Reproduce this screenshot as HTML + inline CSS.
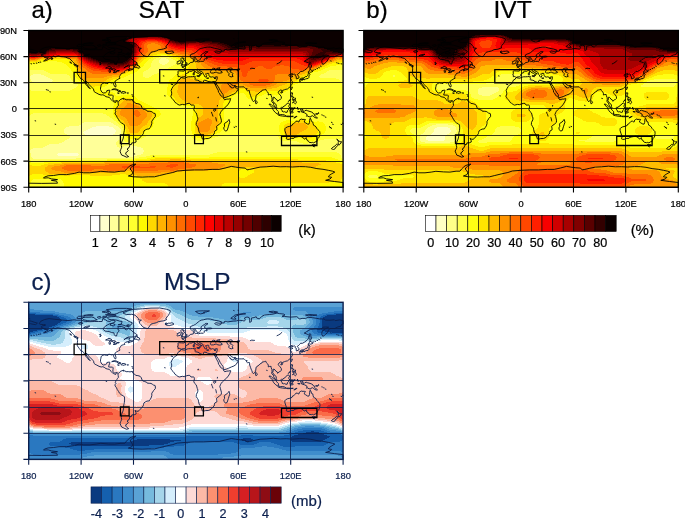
<!DOCTYPE html>
<html><head><meta charset="utf-8"><title>SAT IVT MSLP</title>
<style>html,body{margin:0;padding:0;background:#fff}svg{display:block}text{font-family:"Liberation Sans",Arial,Helvetica,sans-serif}</style></head><body>
<svg width="685" height="519" viewBox="0 0 685 519">
<rect width="685" height="519" fill="#fff"/>
<clipPath id="cpa"><rect x="28.7" y="30.5" width="314.40" height="156.80"/></clipPath>
<g clip-path="url(#cpa)"><g transform="translate(28,30)" shape-rendering="crispEdges">
<path fill="#ffffcc" d="M68 96h13v1h-13zM64 97h21v1h-21zM62 98h24v1h-24zM60 99h27v1h-27zM58 100h30v1h-30zM56 101h32v1h-32zM55 102h32v1h-32zM56 103h31v1h-31zM57 104h28v1h-28zM30 123h20v1h-20zM29 124h22v1h-22zM30 125h20v1h-20z"/>
<path fill="#ffff99" d="M133 28h5v1h-5zM132 29h8v1h-8zM131 30h10v1h-10zM131 31h10v1h-10zM131 32h9v1h-9zM132 33h7v1h-7zM134 34h3v1h-3zM5 44h8v1h-8zM3 45h13v1h-13zM2 46h16v1h-16zM2 47h18v1h-18zM2 48h20v1h-20zM3 49h21v1h-21zM3 50h22v1h-22zM4 51h20v1h-20zM6 52h15v1h-15zM56 92h27v1h-27zM54 93h31v1h-31zM53 94h33v1h-33zM51 95h37v1h-37zM41 96h27v1h-27zM81 96h9v1h-9zM38 97h26v1h-26zM85 97h6v1h-6zM37 98h25v1h-25zM86 98h6v1h-6zM36 99h24v1h-24zM87 99h6v1h-6zM36 100h22v1h-22zM88 100h5v1h-5zM36 101h20v1h-20zM88 101h5v1h-5zM36 102h19v1h-19zM87 102h6v1h-6zM37 103h19v1h-19zM87 103h6v1h-6zM39 104h18v1h-18zM85 104h9v1h-9zM41 105h53v1h-53zM42 106h52v1h-52zM42 107h51v1h-51zM41 108h52v1h-52zM39 109h53v1h-53zM37 110h53v1h-53zM36 111h53v1h-53zM34 112h54v1h-54zM31 113h57v1h-57zM21 114h67v1h-67zM19 115h70v1h-70zM102 115h2v1h-2zM17 116h72v1h-72zM96 116h13v1h-13zM15 117h76v1h-76zM93 117h20v1h-20zM5 118h110v1h-110zM3 119h112v1h-112zM2 120h114v1h-114zM2 121h114v1h-114zM2 122h113v1h-113zM3 123h27v1h-27zM50 123h65v1h-65zM3 124h26v1h-26zM51 124h62v1h-62zM3 125h27v1h-27zM50 125h59v1h-59zM3 126h102v1h-102zM4 127h97v1h-97zM5 128h43v1h-43z"/>
<path fill="#ffff61" d="M135 26h1v1h-1zM131 27h10v1h-10zM128 28h5v1h-5zM138 28h5v1h-5zM126 29h6v1h-6zM140 29h5v1h-5zM125 30h6v1h-6zM141 30h6v1h-6zM124 31h7v1h-7zM141 31h7v1h-7zM124 32h7v1h-7zM140 32h8v1h-8zM123 33h9v1h-9zM139 33h9v1h-9zM123 34h11v1h-11zM137 34h10v1h-10zM123 35h22v1h-22zM123 36h20v1h-20zM122 37h19v1h-19zM121 38h19v1h-19zM120 39h17v1h-17zM0 40h16v1h-16zM118 40h16v1h-16zM301 40h15v1h-15zM0 41h18v1h-18zM116 41h16v1h-16zM299 41h17v1h-17zM0 42h20v1h-20zM115 42h16v1h-16zM298 42h18v1h-18zM0 43h22v1h-22zM115 43h14v1h-14zM296 43h20v1h-20zM0 44h5v1h-5zM13 44h26v1h-26zM115 44h11v1h-11zM293 44h23v1h-23zM0 45h3v1h-3zM16 45h25v1h-25zM115 45h9v1h-9zM292 45h24v1h-24zM0 46h2v1h-2zM18 46h24v1h-24zM115 46h8v1h-8zM291 46h25v1h-25zM0 47h2v1h-2zM20 47h22v1h-22zM117 47h4v1h-4zM292 47h24v1h-24zM0 48h2v1h-2zM22 48h21v1h-21zM308 48h8v1h-8zM0 49h3v1h-3zM24 49h19v1h-19zM311 49h5v1h-5zM0 50h3v1h-3zM25 50h19v1h-19zM312 50h4v1h-4zM0 51h4v1h-4zM24 51h21v1h-21zM313 51h3v1h-3zM0 52h6v1h-6zM21 52h26v1h-26zM313 52h3v1h-3zM0 53h48v1h-48zM314 53h2v1h-2zM0 54h50v1h-50zM314 54h2v1h-2zM0 55h50v1h-50zM0 56h49v1h-49zM0 57h48v1h-48zM0 58h46v1h-46zM2 59h42v1h-42zM3 60h39v1h-39zM5 83h70v1h-70zM3 84h75v1h-75zM2 85h77v1h-77zM0 86h81v1h-81zM0 87h82v1h-82zM0 88h84v1h-84zM0 89h85v1h-85zM0 90h86v1h-86zM0 91h88v1h-88zM0 92h56v1h-56zM83 92h6v1h-6zM0 93h54v1h-54zM85 93h5v1h-5zM0 94h53v1h-53zM86 94h5v1h-5zM0 95h51v1h-51zM88 95h5v1h-5zM0 96h41v1h-41zM90 96h4v1h-4zM0 97h38v1h-38zM91 97h3v1h-3zM0 98h37v1h-37zM92 98h3v1h-3zM0 99h36v1h-36zM93 99h2v1h-2zM0 100h36v1h-36zM93 100h2v1h-2zM0 101h36v1h-36zM93 101h2v1h-2zM0 102h36v1h-36zM93 102h2v1h-2zM0 103h37v1h-37zM93 103h2v1h-2zM0 104h39v1h-39zM94 104h1v1h-1zM0 105h41v1h-41zM94 105h1v1h-1zM120 105h41v1h-41zM196 105h52v1h-52zM0 106h42v1h-42zM94 106h1v1h-1zM118 106h45v1h-45zM190 106h60v1h-60zM0 107h42v1h-42zM93 107h3v1h-3zM116 107h48v1h-48zM187 107h64v1h-64zM314 107h2v1h-2zM0 108h41v1h-41zM93 108h3v1h-3zM114 108h51v1h-51zM184 108h67v1h-67zM313 108h3v1h-3zM0 109h39v1h-39zM92 109h4v1h-4zM112 109h54v1h-54zM181 109h71v1h-71zM296 109h20v1h-20zM0 110h37v1h-37zM90 110h6v1h-6zM109 110h60v1h-60zM174 110h80v1h-80zM292 110h24v1h-24zM0 111h36v1h-36zM89 111h8v1h-8zM108 111h161v1h-161zM290 111h26v1h-26zM0 112h34v1h-34zM88 112h13v1h-13zM104 112h167v1h-167zM288 112h28v1h-28zM0 113h31v1h-31zM88 113h187v1h-187zM280 113h36v1h-36zM0 114h21v1h-21zM88 114h228v1h-228zM0 115h19v1h-19zM89 115h13v1h-13zM104 115h212v1h-212zM0 116h17v1h-17zM89 116h7v1h-7zM109 116h207v1h-207zM0 117h15v1h-15zM91 117h2v1h-2zM113 117h203v1h-203zM0 118h5v1h-5zM115 118h201v1h-201zM0 119h3v1h-3zM115 119h201v1h-201zM0 120h2v1h-2zM116 120h200v1h-200zM0 121h2v1h-2zM116 121h200v1h-200zM0 122h2v1h-2zM115 122h74v1h-74zM309 122h7v1h-7zM0 123h3v1h-3zM115 123h70v1h-70zM311 123h5v1h-5zM0 124h3v1h-3zM113 124h69v1h-69zM312 124h4v1h-4zM0 125h3v1h-3zM109 125h13v1h-13zM313 125h3v1h-3zM0 126h3v1h-3zM105 126h13v1h-13zM313 126h3v1h-3zM0 127h4v1h-4zM101 127h10v1h-10zM313 127h3v1h-3zM0 128h5v1h-5zM48 128h58v1h-58zM314 128h2v1h-2zM0 129h79v1h-79zM3 130h19v1h-19z"/>
<path fill="#ffff2e" d="M133 25h6v1h-6zM128 26h7v1h-7zM136 26h6v1h-6zM125 27h6v1h-6zM141 27h4v1h-4zM123 28h5v1h-5zM143 28h5v1h-5zM121 29h5v1h-5zM145 29h5v1h-5zM120 30h5v1h-5zM147 30h7v1h-7zM20 31h9v1h-9zM119 31h5v1h-5zM148 31h6v1h-6zM13 32h21v1h-21zM118 32h6v1h-6zM148 32h9v1h-9zM9 33h27v1h-27zM117 33h6v1h-6zM148 33h9v1h-9zM1 34h37v1h-37zM116 34h7v1h-7zM147 34h10v1h-10zM0 35h39v1h-39zM116 35h7v1h-7zM145 35h11v1h-11zM308 35h8v1h-8zM0 36h40v1h-40zM115 36h8v1h-8zM143 36h13v1h-13zM302 36h14v1h-14zM0 37h41v1h-41zM113 37h9v1h-9zM141 37h14v1h-14zM300 37h16v1h-16zM0 38h42v1h-42zM112 38h9v1h-9zM140 38h15v1h-15zM297 38h19v1h-19zM0 39h43v1h-43zM111 39h9v1h-9zM137 39h18v1h-18zM295 39h21v1h-21zM16 40h27v1h-27zM110 40h8v1h-8zM134 40h18v1h-18zM293 40h8v1h-8zM18 41h26v1h-26zM109 41h7v1h-7zM132 41h18v1h-18zM290 41h9v1h-9zM20 42h25v1h-25zM107 42h8v1h-8zM131 42h18v1h-18zM285 42h13v1h-13zM22 43h24v1h-24zM105 43h10v1h-10zM129 43h20v1h-20zM283 43h13v1h-13zM39 44h7v1h-7zM102 44h13v1h-13zM126 44h22v1h-22zM283 44h10v1h-10zM41 45h6v1h-6zM100 45h15v1h-15zM124 45h23v1h-23zM282 45h10v1h-10zM42 46h5v1h-5zM98 46h17v1h-17zM123 46h23v1h-23zM281 46h10v1h-10zM42 47h6v1h-6zM96 47h21v1h-21zM121 47h24v1h-24zM280 47h12v1h-12zM43 48h6v1h-6zM93 48h51v1h-51zM277 48h31v1h-31zM43 49h7v1h-7zM91 49h51v1h-51zM276 49h35v1h-35zM44 50h7v1h-7zM89 50h52v1h-52zM274 50h38v1h-38zM45 51h8v1h-8zM88 51h53v1h-53zM273 51h40v1h-40zM47 52h8v1h-8zM87 52h54v1h-54zM272 52h41v1h-41zM48 53h8v1h-8zM82 53h3v1h-3zM87 53h53v1h-53zM270 53h44v1h-44zM50 54h7v1h-7zM80 54h60v1h-60zM267 54h47v1h-47zM50 55h8v1h-8zM79 55h61v1h-61zM265 55h51v1h-51zM49 56h10v1h-10zM77 56h63v1h-63zM265 56h51v1h-51zM48 57h12v1h-12zM74 57h65v1h-65zM265 57h51v1h-51zM46 58h15v1h-15zM73 58h66v1h-66zM264 58h52v1h-52zM0 59h2v1h-2zM44 59h21v1h-21zM73 59h66v1h-66zM264 59h52v1h-52zM0 60h3v1h-3zM42 60h23v1h-23zM73 60h66v1h-66zM260 60h56v1h-56zM0 61h66v1h-66zM74 61h4v1h-4zM82 61h57v1h-57zM258 61h58v1h-58zM0 62h68v1h-68zM76 62h1v1h-1zM85 62h54v1h-54zM256 62h60v1h-60zM0 63h71v1h-71zM87 63h52v1h-52zM212 63h4v1h-4zM238 63h2v1h-2zM254 63h62v1h-62zM0 64h72v1h-72zM87 64h12v1h-12zM101 64h38v1h-38zM208 64h9v1h-9zM236 64h8v1h-8zM252 64h64v1h-64zM0 65h76v1h-76zM83 65h2v1h-2zM88 65h5v1h-5zM105 65h35v1h-35zM206 65h12v1h-12zM234 65h14v1h-14zM249 65h67v1h-67zM0 66h78v1h-78zM82 66h5v1h-5zM107 66h34v1h-34zM205 66h13v1h-13zM230 66h86v1h-86zM0 67h87v1h-87zM108 67h34v1h-34zM204 67h15v1h-15zM229 67h87v1h-87zM0 68h87v1h-87zM109 68h34v1h-34zM204 68h16v1h-16zM228 68h88v1h-88zM0 69h87v1h-87zM110 69h34v1h-34zM203 69h20v1h-20zM227 69h89v1h-89zM0 70h86v1h-86zM112 70h33v1h-33zM203 70h113v1h-113zM0 71h85v1h-85zM114 71h32v1h-32zM202 71h114v1h-114zM0 72h86v1h-86zM116 72h31v1h-31zM202 72h114v1h-114zM0 73h86v1h-86zM118 73h30v1h-30zM201 73h115v1h-115zM0 74h86v1h-86zM120 74h29v1h-29zM201 74h115v1h-115zM0 75h86v1h-86zM122 75h29v1h-29zM153 75h2v1h-2zM200 75h116v1h-116zM0 76h85v1h-85zM124 76h39v1h-39zM199 76h117v1h-117zM0 77h85v1h-85zM126 77h38v1h-38zM198 77h118v1h-118zM0 78h85v1h-85zM128 78h37v1h-37zM197 78h119v1h-119zM0 79h85v1h-85zM129 79h36v1h-36zM197 79h119v1h-119zM0 80h85v1h-85zM131 80h34v1h-34zM196 80h120v1h-120zM0 81h85v1h-85zM132 81h33v1h-33zM196 81h120v1h-120zM0 82h85v1h-85zM132 82h33v1h-33zM196 82h120v1h-120zM0 83h5v1h-5zM75 83h10v1h-10zM133 83h32v1h-32zM196 83h120v1h-120zM0 84h3v1h-3zM78 84h7v1h-7zM133 84h32v1h-32zM196 84h120v1h-120zM0 85h2v1h-2zM79 85h7v1h-7zM132 85h33v1h-33zM196 85h120v1h-120zM81 86h5v1h-5zM131 86h33v1h-33zM196 86h120v1h-120zM82 87h5v1h-5zM129 87h35v1h-35zM196 87h120v1h-120zM84 88h5v1h-5zM128 88h36v1h-36zM196 88h120v1h-120zM85 89h4v1h-4zM127 89h37v1h-37zM196 89h75v1h-75zM278 89h4v1h-4zM283 89h33v1h-33zM86 90h4v1h-4zM126 90h38v1h-38zM196 90h62v1h-62zM263 90h4v1h-4zM278 90h2v1h-2zM284 90h32v1h-32zM88 91h3v1h-3zM126 91h37v1h-37zM197 91h58v1h-58zM286 91h3v1h-3zM291 91h25v1h-25zM89 92h3v1h-3zM126 92h37v1h-37zM201 92h52v1h-52zM295 92h21v1h-21zM90 93h3v1h-3zM126 93h37v1h-37zM201 93h51v1h-51zM296 93h20v1h-20zM91 94h3v1h-3zM125 94h38v1h-38zM201 94h51v1h-51zM297 94h19v1h-19zM93 95h2v1h-2zM125 95h38v1h-38zM200 95h51v1h-51zM297 95h19v1h-19zM94 96h2v1h-2zM125 96h38v1h-38zM200 96h51v1h-51zM298 96h18v1h-18zM94 97h2v1h-2zM124 97h39v1h-39zM199 97h52v1h-52zM298 97h18v1h-18zM95 98h1v1h-1zM123 98h40v1h-40zM196 98h55v1h-55zM298 98h18v1h-18zM95 99h1v1h-1zM121 99h42v1h-42zM195 99h56v1h-56zM298 99h18v1h-18zM95 100h1v1h-1zM118 100h45v1h-45zM194 100h57v1h-57zM298 100h18v1h-18zM95 101h1v1h-1zM117 101h47v1h-47zM193 101h58v1h-58zM297 101h19v1h-19zM95 102h1v1h-1zM117 102h47v1h-47zM192 102h60v1h-60zM297 102h19v1h-19zM95 103h1v1h-1zM116 103h48v1h-48zM189 103h63v1h-63zM296 103h20v1h-20zM95 104h2v1h-2zM115 104h50v1h-50zM187 104h66v1h-66zM294 104h22v1h-22zM95 105h2v1h-2zM114 105h6v1h-6zM161 105h5v1h-5zM185 105h11v1h-11zM248 105h5v1h-5zM292 105h24v1h-24zM95 106h3v1h-3zM113 106h5v1h-5zM163 106h5v1h-5zM184 106h6v1h-6zM250 106h4v1h-4zM292 106h24v1h-24zM96 107h3v1h-3zM112 107h4v1h-4zM164 107h5v1h-5zM182 107h5v1h-5zM251 107h4v1h-4zM291 107h23v1h-23zM96 108h5v1h-5zM110 108h4v1h-4zM165 108h9v1h-9zM177 108h7v1h-7zM251 108h6v1h-6zM266 108h8v1h-8zM290 108h23v1h-23zM96 109h16v1h-16zM166 109h15v1h-15zM252 109h7v1h-7zM261 109h15v1h-15zM288 109h8v1h-8zM96 110h13v1h-13zM169 110h5v1h-5zM254 110h25v1h-25zM286 110h6v1h-6zM97 111h11v1h-11zM269 111h21v1h-21zM101 112h3v1h-3zM271 112h17v1h-17zM275 113h5v1h-5zM189 122h120v1h-120zM185 123h126v1h-126zM182 124h130v1h-130zM122 125h191v1h-191zM118 126h195v1h-195zM111 127h12v1h-12zM162 127h19v1h-19zM304 127h9v1h-9zM106 128h13v1h-13zM307 128h7v1h-7zM79 129h28v1h-28zM310 129h6v1h-6zM0 130h3v1h-3zM22 130h57v1h-57zM312 130h4v1h-4zM0 131h32v1h-32zM315 131h1v1h-1zM3 132h13v1h-13zM18 148h4v1h-4zM5 149h28v1h-28zM4 150h30v1h-30zM3 151h32v1h-32zM3 152h32v1h-32zM2 153h34v1h-34zM1 154h35v1h-35zM0 155h36v1h-36zM0 156h36v1h-36zM0 157h36v1h-36z"/>
<path fill="#fff900" d="M129 24h10v1h-10zM125 25h8v1h-8zM139 25h5v1h-5zM121 26h7v1h-7zM142 26h5v1h-5zM119 27h6v1h-6zM145 27h5v1h-5zM118 28h5v1h-5zM148 28h7v1h-7zM25 29h15v1h-15zM116 29h5v1h-5zM150 29h7v1h-7zM13 30h4v1h-4zM20 30h22v1h-22zM115 30h5v1h-5zM154 30h4v1h-4zM10 31h10v1h-10zM29 31h13v1h-13zM114 31h5v1h-5zM154 31h6v1h-6zM0 32h13v1h-13zM34 32h8v1h-8zM113 32h5v1h-5zM157 32h4v1h-4zM309 32h7v1h-7zM0 33h9v1h-9zM36 33h7v1h-7zM112 33h5v1h-5zM157 33h5v1h-5zM304 33h12v1h-12zM0 34h1v1h-1zM38 34h7v1h-7zM111 34h5v1h-5zM157 34h5v1h-5zM301 34h15v1h-15zM39 35h7v1h-7zM111 35h5v1h-5zM156 35h5v1h-5zM299 35h9v1h-9zM40 36h6v1h-6zM111 36h4v1h-4zM156 36h5v1h-5zM297 36h5v1h-5zM41 37h6v1h-6zM110 37h3v1h-3zM155 37h5v1h-5zM294 37h6v1h-6zM42 38h6v1h-6zM109 38h3v1h-3zM155 38h5v1h-5zM292 38h5v1h-5zM43 39h5v1h-5zM107 39h4v1h-4zM155 39h4v1h-4zM290 39h5v1h-5zM43 40h6v1h-6zM106 40h4v1h-4zM152 40h7v1h-7zM287 40h6v1h-6zM44 41h5v1h-5zM103 41h6v1h-6zM150 41h9v1h-9zM284 41h6v1h-6zM45 42h4v1h-4zM100 42h7v1h-7zM149 42h10v1h-10zM161 42h4v1h-4zM282 42h3v1h-3zM46 43h3v1h-3zM98 43h7v1h-7zM149 43h16v1h-16zM166 43h3v1h-3zM280 43h3v1h-3zM46 44h4v1h-4zM94 44h8v1h-8zM148 44h6v1h-6zM158 44h13v1h-13zM173 44h2v1h-2zM279 44h4v1h-4zM47 45h3v1h-3zM93 45h7v1h-7zM147 45h5v1h-5zM159 45h17v1h-17zM179 45h1v1h-1zM278 45h4v1h-4zM47 46h4v1h-4zM92 46h6v1h-6zM146 46h6v1h-6zM167 46h9v1h-9zM179 46h2v1h-2zM275 46h6v1h-6zM48 47h3v1h-3zM92 47h4v1h-4zM145 47h7v1h-7zM168 47h13v1h-13zM273 47h7v1h-7zM49 48h3v1h-3zM89 48h4v1h-4zM144 48h7v1h-7zM171 48h11v1h-11zM272 48h5v1h-5zM50 49h3v1h-3zM85 49h6v1h-6zM142 49h8v1h-8zM174 49h8v1h-8zM270 49h6v1h-6zM51 50h4v1h-4zM83 50h6v1h-6zM141 50h8v1h-8zM180 50h1v1h-1zM269 50h5v1h-5zM53 51h3v1h-3zM81 51h7v1h-7zM141 51h7v1h-7zM267 51h6v1h-6zM55 52h2v1h-2zM80 52h7v1h-7zM141 52h7v1h-7zM265 52h7v1h-7zM56 53h2v1h-2zM59 53h1v1h-1zM76 53h6v1h-6zM85 53h2v1h-2zM140 53h7v1h-7zM264 53h6v1h-6zM57 54h5v1h-5zM74 54h6v1h-6zM140 54h6v1h-6zM263 54h4v1h-4zM58 55h5v1h-5zM72 55h7v1h-7zM140 55h6v1h-6zM262 55h3v1h-3zM59 56h6v1h-6zM67 56h10v1h-10zM140 56h5v1h-5zM261 56h4v1h-4zM60 57h14v1h-14zM139 57h6v1h-6zM259 57h6v1h-6zM61 58h12v1h-12zM139 58h5v1h-5zM258 58h6v1h-6zM65 59h8v1h-8zM139 59h5v1h-5zM212 59h5v1h-5zM255 59h9v1h-9zM65 60h8v1h-8zM139 60h4v1h-4zM211 60h7v1h-7zM251 60h9v1h-9zM66 61h8v1h-8zM78 61h4v1h-4zM139 61h4v1h-4zM209 61h11v1h-11zM234 61h24v1h-24zM68 62h8v1h-8zM77 62h8v1h-8zM139 62h4v1h-4zM208 62h13v1h-13zM232 62h24v1h-24zM71 63h16v1h-16zM139 63h5v1h-5zM206 63h6v1h-6zM216 63h6v1h-6zM231 63h7v1h-7zM240 63h14v1h-14zM72 64h15v1h-15zM99 64h2v1h-2zM139 64h5v1h-5zM204 64h4v1h-4zM217 64h5v1h-5zM229 64h7v1h-7zM244 64h8v1h-8zM76 65h7v1h-7zM85 65h3v1h-3zM93 65h12v1h-12zM140 65h4v1h-4zM203 65h3v1h-3zM218 65h5v1h-5zM227 65h7v1h-7zM248 65h1v1h-1zM78 66h4v1h-4zM87 66h20v1h-20zM141 66h4v1h-4zM201 66h4v1h-4zM218 66h6v1h-6zM226 66h4v1h-4zM87 67h21v1h-21zM142 67h4v1h-4zM199 67h5v1h-5zM219 67h10v1h-10zM87 68h7v1h-7zM103 68h6v1h-6zM143 68h4v1h-4zM198 68h6v1h-6zM220 68h8v1h-8zM87 69h6v1h-6zM105 69h5v1h-5zM144 69h3v1h-3zM198 69h5v1h-5zM223 69h4v1h-4zM86 70h6v1h-6zM106 70h6v1h-6zM145 70h3v1h-3zM197 70h6v1h-6zM85 71h6v1h-6zM107 71h7v1h-7zM146 71h3v1h-3zM196 71h6v1h-6zM86 72h4v1h-4zM108 72h8v1h-8zM147 72h3v1h-3zM196 72h6v1h-6zM86 73h4v1h-4zM111 73h7v1h-7zM148 73h4v1h-4zM195 73h6v1h-6zM86 74h4v1h-4zM113 74h7v1h-7zM149 74h13v1h-13zM195 74h6v1h-6zM86 75h4v1h-4zM114 75h8v1h-8zM151 75h2v1h-2zM155 75h11v1h-11zM195 75h5v1h-5zM85 76h4v1h-4zM116 76h8v1h-8zM163 76h4v1h-4zM195 76h4v1h-4zM85 77h3v1h-3zM117 77h9v1h-9zM164 77h3v1h-3zM195 77h3v1h-3zM85 78h3v1h-3zM118 78h10v1h-10zM165 78h3v1h-3zM195 78h2v1h-2zM85 79h2v1h-2zM119 79h10v1h-10zM165 79h3v1h-3zM194 79h3v1h-3zM85 80h2v1h-2zM122 80h9v1h-9zM165 80h3v1h-3zM194 80h2v1h-2zM85 81h2v1h-2zM125 81h7v1h-7zM165 81h3v1h-3zM193 81h3v1h-3zM85 82h2v1h-2zM126 82h6v1h-6zM165 82h4v1h-4zM193 82h3v1h-3zM85 83h2v1h-2zM127 83h6v1h-6zM165 83h4v1h-4zM193 83h3v1h-3zM85 84h2v1h-2zM127 84h6v1h-6zM165 84h4v1h-4zM192 84h4v1h-4zM86 85h2v1h-2zM127 85h5v1h-5zM165 85h4v1h-4zM193 85h3v1h-3zM86 86h2v1h-2zM127 86h4v1h-4zM164 86h5v1h-5zM193 86h3v1h-3zM87 87h2v1h-2zM126 87h3v1h-3zM164 87h5v1h-5zM193 87h3v1h-3zM89 88h1v1h-1zM126 88h2v1h-2zM164 88h5v1h-5zM193 88h3v1h-3zM89 89h2v1h-2zM125 89h2v1h-2zM164 89h5v1h-5zM193 89h3v1h-3zM271 89h7v1h-7zM282 89h1v1h-1zM90 90h2v1h-2zM124 90h2v1h-2zM164 90h4v1h-4zM193 90h3v1h-3zM258 90h5v1h-5zM267 90h5v1h-5zM277 90h1v1h-1zM280 90h4v1h-4zM91 91h2v1h-2zM124 91h2v1h-2zM163 91h5v1h-5zM193 91h4v1h-4zM255 91h13v1h-13zM277 91h5v1h-5zM283 91h3v1h-3zM289 91h2v1h-2zM92 92h2v1h-2zM124 92h2v1h-2zM163 92h4v1h-4zM193 92h8v1h-8zM253 92h13v1h-13zM278 92h3v1h-3zM284 92h11v1h-11zM93 93h2v1h-2zM124 93h2v1h-2zM163 93h4v1h-4zM193 93h8v1h-8zM252 93h7v1h-7zM263 93h1v1h-1zM279 93h2v1h-2zM285 93h11v1h-11zM94 94h2v1h-2zM123 94h2v1h-2zM163 94h4v1h-4zM192 94h9v1h-9zM252 94h5v1h-5zM285 94h12v1h-12zM95 95h2v1h-2zM123 95h2v1h-2zM163 95h4v1h-4zM191 95h9v1h-9zM251 95h5v1h-5zM287 95h10v1h-10zM96 96h1v1h-1zM121 96h4v1h-4zM163 96h4v1h-4zM190 96h10v1h-10zM251 96h5v1h-5zM288 96h10v1h-10zM96 97h1v1h-1zM120 97h4v1h-4zM163 97h4v1h-4zM190 97h9v1h-9zM251 97h5v1h-5zM289 97h9v1h-9zM96 98h1v1h-1zM118 98h5v1h-5zM163 98h4v1h-4zM189 98h7v1h-7zM251 98h5v1h-5zM289 98h9v1h-9zM96 99h2v1h-2zM117 99h4v1h-4zM163 99h4v1h-4zM189 99h6v1h-6zM251 99h5v1h-5zM289 99h9v1h-9zM96 100h2v1h-2zM116 100h2v1h-2zM163 100h4v1h-4zM188 100h6v1h-6zM251 100h5v1h-5zM290 100h8v1h-8zM96 101h2v1h-2zM115 101h2v1h-2zM164 101h3v1h-3zM187 101h6v1h-6zM251 101h5v1h-5zM290 101h7v1h-7zM96 102h2v1h-2zM115 102h2v1h-2zM164 102h3v1h-3zM187 102h5v1h-5zM252 102h4v1h-4zM290 102h7v1h-7zM96 103h3v1h-3zM114 103h2v1h-2zM164 103h4v1h-4zM186 103h3v1h-3zM252 103h4v1h-4zM289 103h7v1h-7zM97 104h3v1h-3zM113 104h2v1h-2zM165 104h4v1h-4zM185 104h2v1h-2zM253 104h4v1h-4zM288 104h6v1h-6zM97 105h4v1h-4zM112 105h2v1h-2zM166 105h5v1h-5zM184 105h1v1h-1zM253 105h4v1h-4zM287 105h5v1h-5zM98 106h15v1h-15zM168 106h6v1h-6zM181 106h3v1h-3zM254 106h4v1h-4zM270 106h3v1h-3zM286 106h6v1h-6zM99 107h13v1h-13zM169 107h13v1h-13zM255 107h3v1h-3zM266 107h9v1h-9zM284 107h7v1h-7zM101 108h9v1h-9zM174 108h3v1h-3zM257 108h2v1h-2zM262 108h4v1h-4zM274 108h16v1h-16zM259 109h2v1h-2zM276 109h12v1h-12zM279 110h7v1h-7zM123 127h39v1h-39zM181 127h123v1h-123zM119 128h8v1h-8zM157 128h150v1h-150zM107 129h15v1h-15zM270 129h40v1h-40zM79 130h29v1h-29zM298 130h14v1h-14zM32 131h45v1h-45zM303 131h12v1h-12zM0 132h3v1h-3zM16 132h17v1h-17zM308 132h8v1h-8zM0 133h20v1h-20zM312 133h4v1h-4zM0 134h16v1h-16zM4 135h9v1h-9zM213 139h5v1h-5zM212 140h14v1h-14zM211 141h15v1h-15zM211 142h15v1h-15zM211 143h13v1h-13zM4 144h11v1h-11zM92 144h6v1h-6zM211 144h11v1h-11zM2 145h17v1h-17zM27 145h9v1h-9zM42 145h20v1h-20zM84 145h17v1h-17zM211 145h9v1h-9zM0 146h103v1h-103zM211 146h8v1h-8zM0 147h108v1h-108zM212 147h5v1h-5zM314 147h2v1h-2zM0 148h18v1h-18zM22 148h90v1h-90zM314 148h2v1h-2zM0 149h5v1h-5zM33 149h81v1h-81zM313 149h3v1h-3zM0 150h4v1h-4zM34 150h80v1h-80zM313 150h3v1h-3zM0 151h3v1h-3zM35 151h81v1h-81zM312 151h4v1h-4zM0 152h3v1h-3zM35 152h83v1h-83zM301 152h15v1h-15zM0 153h2v1h-2zM36 153h101v1h-101zM196 153h120v1h-120zM0 154h1v1h-1zM36 154h103v1h-103zM194 154h122v1h-122zM36 155h104v1h-104zM194 155h122v1h-122zM36 156h104v1h-104zM193 156h123v1h-123zM36 157h104v1h-104zM193 157h123v1h-123z"/>
<path fill="#ffd700" d="M127 22h5v1h-5zM124 23h15v1h-15zM122 24h7v1h-7zM139 24h5v1h-5zM121 25h4v1h-4zM144 25h4v1h-4zM119 26h2v1h-2zM147 26h5v1h-5zM29 27h3v1h-3zM116 27h3v1h-3zM150 27h6v1h-6zM25 28h14v1h-14zM114 28h4v1h-4zM155 28h7v1h-7zM12 29h5v1h-5zM21 29h4v1h-4zM40 29h2v1h-2zM113 29h3v1h-3zM157 29h7v1h-7zM9 30h4v1h-4zM17 30h3v1h-3zM42 30h2v1h-2zM112 30h3v1h-3zM158 30h7v1h-7zM309 30h5v1h-5zM0 31h10v1h-10zM42 31h4v1h-4zM111 31h3v1h-3zM160 31h6v1h-6zM306 31h10v1h-10zM42 32h4v1h-4zM110 32h3v1h-3zM161 32h6v1h-6zM302 32h7v1h-7zM43 33h4v1h-4zM110 33h2v1h-2zM162 33h6v1h-6zM299 33h5v1h-5zM45 34h2v1h-2zM110 34h1v1h-1zM162 34h6v1h-6zM297 34h4v1h-4zM46 35h2v1h-2zM110 35h1v1h-1zM161 35h7v1h-7zM295 35h4v1h-4zM46 36h3v1h-3zM109 36h2v1h-2zM161 36h7v1h-7zM293 36h4v1h-4zM47 37h2v1h-2zM108 37h2v1h-2zM160 37h8v1h-8zM291 37h3v1h-3zM48 38h2v1h-2zM106 38h3v1h-3zM160 38h9v1h-9zM289 38h3v1h-3zM48 39h2v1h-2zM105 39h2v1h-2zM159 39h12v1h-12zM286 39h4v1h-4zM49 40h1v1h-1zM103 40h3v1h-3zM159 40h14v1h-14zM283 40h4v1h-4zM49 41h1v1h-1zM99 41h4v1h-4zM159 41h16v1h-16zM281 41h3v1h-3zM49 42h2v1h-2zM97 42h3v1h-3zM159 42h2v1h-2zM165 42h11v1h-11zM279 42h3v1h-3zM49 43h2v1h-2zM95 43h3v1h-3zM165 43h1v1h-1zM169 43h12v1h-12zM277 43h3v1h-3zM50 44h1v1h-1zM93 44h1v1h-1zM154 44h4v1h-4zM171 44h2v1h-2zM175 44h9v1h-9zM274 44h5v1h-5zM50 45h2v1h-2zM92 45h1v1h-1zM152 45h7v1h-7zM176 45h3v1h-3zM180 45h5v1h-5zM271 45h7v1h-7zM51 46h1v1h-1zM91 46h1v1h-1zM152 46h15v1h-15zM176 46h3v1h-3zM181 46h5v1h-5zM271 46h4v1h-4zM51 47h2v1h-2zM84 47h8v1h-8zM152 47h16v1h-16zM181 47h6v1h-6zM270 47h3v1h-3zM52 48h2v1h-2zM81 48h8v1h-8zM151 48h8v1h-8zM162 48h9v1h-9zM182 48h6v1h-6zM267 48h5v1h-5zM53 49h2v1h-2zM79 49h6v1h-6zM150 49h3v1h-3zM165 49h9v1h-9zM182 49h6v1h-6zM265 49h5v1h-5zM55 50h1v1h-1zM78 50h5v1h-5zM149 50h3v1h-3zM167 50h13v1h-13zM181 50h7v1h-7zM264 50h5v1h-5zM56 51h4v1h-4zM76 51h5v1h-5zM148 51h3v1h-3zM171 51h16v1h-16zM264 51h3v1h-3zM57 52h13v1h-13zM74 52h6v1h-6zM148 52h3v1h-3zM172 52h4v1h-4zM177 52h7v1h-7zM262 52h3v1h-3zM58 53h1v1h-1zM60 53h16v1h-16zM147 53h4v1h-4zM259 53h5v1h-5zM62 54h12v1h-12zM146 54h5v1h-5zM257 54h6v1h-6zM63 55h9v1h-9zM146 55h4v1h-4zM254 55h8v1h-8zM65 56h2v1h-2zM145 56h5v1h-5zM251 56h10v1h-10zM145 57h5v1h-5zM210 57h7v1h-7zM249 57h10v1h-10zM144 58h6v1h-6zM210 58h8v1h-8zM244 58h14v1h-14zM144 59h6v1h-6zM209 59h3v1h-3zM217 59h3v1h-3zM236 59h19v1h-19zM143 60h6v1h-6zM209 60h2v1h-2zM218 60h4v1h-4zM233 60h18v1h-18zM143 61h6v1h-6zM207 61h2v1h-2zM220 61h7v1h-7zM231 61h3v1h-3zM143 62h6v1h-6zM204 62h4v1h-4zM221 62h11v1h-11zM144 63h6v1h-6zM203 63h3v1h-3zM222 63h9v1h-9zM144 64h6v1h-6zM201 64h3v1h-3zM222 64h7v1h-7zM144 65h7v1h-7zM200 65h3v1h-3zM223 65h4v1h-4zM145 66h6v1h-6zM198 66h3v1h-3zM224 66h2v1h-2zM146 67h6v1h-6zM195 67h4v1h-4zM94 68h9v1h-9zM147 68h6v1h-6zM193 68h5v1h-5zM93 69h12v1h-12zM147 69h7v1h-7zM192 69h6v1h-6zM92 70h4v1h-4zM104 70h2v1h-2zM148 70h8v1h-8zM191 70h6v1h-6zM91 71h4v1h-4zM105 71h2v1h-2zM149 71h9v1h-9zM191 71h5v1h-5zM90 72h4v1h-4zM106 72h2v1h-2zM150 72h10v1h-10zM191 72h5v1h-5zM90 73h3v1h-3zM108 73h3v1h-3zM152 73h11v1h-11zM191 73h4v1h-4zM90 74h2v1h-2zM111 74h2v1h-2zM162 74h9v1h-9zM191 74h4v1h-4zM90 75h1v1h-1zM113 75h1v1h-1zM166 75h7v1h-7zM190 75h5v1h-5zM89 76h2v1h-2zM114 76h2v1h-2zM167 76h7v1h-7zM190 76h5v1h-5zM88 77h2v1h-2zM114 77h3v1h-3zM167 77h8v1h-8zM190 77h5v1h-5zM88 78h2v1h-2zM115 78h3v1h-3zM168 78h7v1h-7zM190 78h5v1h-5zM87 79h2v1h-2zM117 79h2v1h-2zM168 79h7v1h-7zM190 79h4v1h-4zM87 80h2v1h-2zM118 80h4v1h-4zM168 80h7v1h-7zM190 80h4v1h-4zM87 81h2v1h-2zM121 81h4v1h-4zM168 81h7v1h-7zM190 81h3v1h-3zM87 82h2v1h-2zM123 82h3v1h-3zM169 82h6v1h-6zM190 82h3v1h-3zM87 83h1v1h-1zM124 83h3v1h-3zM169 83h6v1h-6zM190 83h3v1h-3zM87 84h2v1h-2zM124 84h3v1h-3zM169 84h6v1h-6zM190 84h2v1h-2zM88 85h1v1h-1zM124 85h3v1h-3zM169 85h5v1h-5zM190 85h3v1h-3zM88 86h2v1h-2zM124 86h3v1h-3zM169 86h4v1h-4zM190 86h3v1h-3zM89 87h2v1h-2zM123 87h3v1h-3zM169 87h2v1h-2zM190 87h3v1h-3zM90 88h2v1h-2zM123 88h3v1h-3zM169 88h1v1h-1zM190 88h3v1h-3zM91 89h2v1h-2zM122 89h3v1h-3zM169 89h1v1h-1zM190 89h3v1h-3zM92 90h3v1h-3zM121 90h3v1h-3zM168 90h2v1h-2zM190 90h3v1h-3zM272 90h5v1h-5zM93 91h3v1h-3zM120 91h4v1h-4zM168 91h1v1h-1zM191 91h2v1h-2zM268 91h9v1h-9zM282 91h1v1h-1zM94 92h2v1h-2zM120 92h4v1h-4zM167 92h2v1h-2zM191 92h2v1h-2zM266 92h12v1h-12zM281 92h3v1h-3zM95 93h2v1h-2zM119 93h5v1h-5zM167 93h1v1h-1zM190 93h3v1h-3zM259 93h4v1h-4zM264 93h3v1h-3zM277 93h2v1h-2zM281 93h4v1h-4zM96 94h2v1h-2zM119 94h4v1h-4zM167 94h1v1h-1zM190 94h2v1h-2zM257 94h9v1h-9zM278 94h7v1h-7zM97 95h1v1h-1zM117 95h6v1h-6zM167 95h2v1h-2zM189 95h2v1h-2zM256 95h8v1h-8zM279 95h8v1h-8zM97 96h2v1h-2zM115 96h6v1h-6zM167 96h2v1h-2zM188 96h2v1h-2zM256 96h4v1h-4zM280 96h8v1h-8zM97 97h3v1h-3zM114 97h6v1h-6zM167 97h2v1h-2zM188 97h2v1h-2zM256 97h2v1h-2zM280 97h9v1h-9zM97 98h3v1h-3zM113 98h5v1h-5zM167 98h2v1h-2zM187 98h2v1h-2zM256 98h2v1h-2zM279 98h10v1h-10zM98 99h3v1h-3zM112 99h5v1h-5zM167 99h2v1h-2zM187 99h2v1h-2zM256 99h1v1h-1zM278 99h11v1h-11zM98 100h3v1h-3zM112 100h4v1h-4zM167 100h3v1h-3zM186 100h2v1h-2zM256 100h1v1h-1zM276 100h14v1h-14zM98 101h3v1h-3zM111 101h4v1h-4zM167 101h3v1h-3zM186 101h1v1h-1zM256 101h1v1h-1zM274 101h16v1h-16zM98 102h4v1h-4zM110 102h5v1h-5zM167 102h4v1h-4zM185 102h2v1h-2zM256 102h2v1h-2zM272 102h18v1h-18zM99 103h15v1h-15zM168 103h4v1h-4zM183 103h3v1h-3zM256 103h2v1h-2zM271 103h18v1h-18zM100 104h13v1h-13zM169 104h5v1h-5zM180 104h5v1h-5zM257 104h2v1h-2zM269 104h19v1h-19zM101 105h11v1h-11zM171 105h13v1h-13zM257 105h2v1h-2zM262 105h25v1h-25zM174 106h7v1h-7zM258 106h12v1h-12zM273 106h13v1h-13zM258 107h8v1h-8zM275 107h9v1h-9zM259 108h3v1h-3zM127 128h30v1h-30zM122 129h20v1h-20zM153 129h117v1h-117zM108 130h15v1h-15zM163 130h135v1h-135zM77 131h31v1h-31zM268 131h35v1h-35zM33 132h43v1h-43zM274 132h34v1h-34zM20 133h14v1h-14zM291 133h21v1h-21zM16 134h10v1h-10zM293 134h23v1h-23zM0 135h4v1h-4zM13 135h7v1h-7zM290 135h26v1h-26zM0 136h19v1h-19zM274 136h7v1h-7zM288 136h28v1h-28zM0 137h17v1h-17zM202 137h26v1h-26zM231 137h85v1h-85zM0 138h17v1h-17zM198 138h118v1h-118zM0 139h17v1h-17zM194 139h19v1h-19zM218 139h98v1h-98zM0 140h17v1h-17zM180 140h32v1h-32zM226 140h90v1h-90zM0 141h18v1h-18zM98 141h4v1h-4zM154 141h57v1h-57zM226 141h90v1h-90zM0 142h20v1h-20zM87 142h17v1h-17zM147 142h64v1h-64zM226 142h90v1h-90zM0 143h21v1h-21zM47 143h57v1h-57zM141 143h70v1h-70zM224 143h92v1h-92zM0 144h4v1h-4zM15 144h77v1h-77zM98 144h8v1h-8zM136 144h75v1h-75zM222 144h94v1h-94zM0 145h2v1h-2zM19 145h8v1h-8zM36 145h6v1h-6zM62 145h22v1h-22zM101 145h8v1h-8zM131 145h80v1h-80zM220 145h96v1h-96zM103 146h108v1h-108zM219 146h97v1h-97zM108 147h104v1h-104zM217 147h97v1h-97zM112 148h202v1h-202zM114 149h199v1h-199zM114 150h199v1h-199zM116 151h196v1h-196zM118 152h183v1h-183zM137 153h59v1h-59zM139 154h55v1h-55zM140 155h54v1h-54zM140 156h53v1h-53zM140 157h53v1h-53z"/>
<path fill="#ffb200" d="M128 20h3v1h-3zM125 21h11v1h-11zM123 22h4v1h-4zM132 22h7v1h-7zM122 23h2v1h-2zM139 23h6v1h-6zM121 24h1v1h-1zM144 24h6v1h-6zM119 25h2v1h-2zM148 25h6v1h-6zM115 26h4v1h-4zM152 26h9v1h-9zM25 27h4v1h-4zM32 27h5v1h-5zM113 27h3v1h-3zM156 27h7v1h-7zM13 28h5v1h-5zM23 28h2v1h-2zM39 28h2v1h-2zM111 28h3v1h-3zM162 28h4v1h-4zM310 28h1v1h-1zM10 29h2v1h-2zM17 29h2v1h-2zM20 29h1v1h-1zM42 29h6v1h-6zM110 29h3v1h-3zM164 29h4v1h-4zM308 29h6v1h-6zM0 30h9v1h-9zM44 30h4v1h-4zM110 30h2v1h-2zM165 30h4v1h-4zM306 30h3v1h-3zM314 30h2v1h-2zM46 31h3v1h-3zM109 31h2v1h-2zM166 31h4v1h-4zM302 31h4v1h-4zM46 32h3v1h-3zM109 32h1v1h-1zM167 32h4v1h-4zM299 32h3v1h-3zM47 33h3v1h-3zM109 33h1v1h-1zM168 33h5v1h-5zM298 33h1v1h-1zM47 34h3v1h-3zM109 34h1v1h-1zM168 34h5v1h-5zM296 34h1v1h-1zM48 35h2v1h-2zM109 35h1v1h-1zM168 35h6v1h-6zM293 35h2v1h-2zM49 36h2v1h-2zM108 36h1v1h-1zM168 36h7v1h-7zM291 36h2v1h-2zM49 37h2v1h-2zM105 37h3v1h-3zM168 37h8v1h-8zM289 37h2v1h-2zM50 38h2v1h-2zM104 38h2v1h-2zM169 38h9v1h-9zM286 38h3v1h-3zM50 39h3v1h-3zM104 39h1v1h-1zM171 39h9v1h-9zM283 39h3v1h-3zM50 40h4v1h-4zM102 40h1v1h-1zM173 40h14v1h-14zM278 40h5v1h-5zM50 41h5v1h-5zM97 41h2v1h-2zM175 41h30v1h-30zM276 41h5v1h-5zM51 42h5v1h-5zM96 42h1v1h-1zM176 42h31v1h-31zM273 42h6v1h-6zM51 43h5v1h-5zM93 43h2v1h-2zM181 43h27v1h-27zM271 43h6v1h-6zM51 44h5v1h-5zM92 44h1v1h-1zM184 44h24v1h-24zM270 44h4v1h-4zM52 45h5v1h-5zM84 45h8v1h-8zM185 45h24v1h-24zM265 45h2v1h-2zM270 45h1v1h-1zM52 46h5v1h-5zM79 46h12v1h-12zM186 46h23v1h-23zM264 46h7v1h-7zM53 47h5v1h-5zM76 47h8v1h-8zM187 47h22v1h-22zM263 47h7v1h-7zM54 48h27v1h-27zM159 48h3v1h-3zM188 48h21v1h-21zM262 48h5v1h-5zM55 49h24v1h-24zM153 49h12v1h-12zM188 49h21v1h-21zM261 49h4v1h-4zM56 50h22v1h-22zM152 50h15v1h-15zM188 50h20v1h-20zM259 50h5v1h-5zM60 51h16v1h-16zM151 51h20v1h-20zM187 51h21v1h-21zM255 51h9v1h-9zM70 52h4v1h-4zM151 52h21v1h-21zM176 52h1v1h-1zM184 52h23v1h-23zM251 52h11v1h-11zM151 53h45v1h-45zM249 53h10v1h-10zM151 54h43v1h-43zM211 54h4v1h-4zM248 54h9v1h-9zM150 55h43v1h-43zM208 55h9v1h-9zM246 55h8v1h-8zM150 56h43v1h-43zM207 56h12v1h-12zM243 56h8v1h-8zM150 57h43v1h-43zM207 57h3v1h-3zM217 57h5v1h-5zM239 57h10v1h-10zM150 58h43v1h-43zM206 58h4v1h-4zM218 58h26v1h-26zM150 59h43v1h-43zM204 59h5v1h-5zM220 59h16v1h-16zM149 60h44v1h-44zM201 60h8v1h-8zM222 60h11v1h-11zM149 61h44v1h-44zM200 61h7v1h-7zM227 61h4v1h-4zM149 62h45v1h-45zM199 62h5v1h-5zM150 63h45v1h-45zM197 63h6v1h-6zM150 64h51v1h-51zM151 65h49v1h-49zM151 66h47v1h-47zM152 67h43v1h-43zM153 68h40v1h-40zM154 69h38v1h-38zM96 70h8v1h-8zM156 70h35v1h-35zM95 71h10v1h-10zM158 71h33v1h-33zM94 72h12v1h-12zM160 72h31v1h-31zM93 73h6v1h-6zM103 73h5v1h-5zM163 73h28v1h-28zM92 74h7v1h-7zM105 74h6v1h-6zM171 74h20v1h-20zM91 75h7v1h-7zM109 75h4v1h-4zM173 75h17v1h-17zM91 76h6v1h-6zM111 76h3v1h-3zM174 76h16v1h-16zM90 77h6v1h-6zM112 77h2v1h-2zM175 77h15v1h-15zM90 78h4v1h-4zM113 78h2v1h-2zM175 78h15v1h-15zM89 79h4v1h-4zM114 79h3v1h-3zM175 79h15v1h-15zM89 80h4v1h-4zM116 80h2v1h-2zM175 80h15v1h-15zM89 81h3v1h-3zM117 81h4v1h-4zM175 81h15v1h-15zM89 82h3v1h-3zM118 82h5v1h-5zM175 82h15v1h-15zM88 83h4v1h-4zM119 83h5v1h-5zM175 83h15v1h-15zM89 84h3v1h-3zM119 84h5v1h-5zM175 84h15v1h-15zM89 85h4v1h-4zM119 85h5v1h-5zM174 85h16v1h-16zM90 86h5v1h-5zM119 86h5v1h-5zM173 86h17v1h-17zM91 87h6v1h-6zM118 87h5v1h-5zM171 87h19v1h-19zM92 88h6v1h-6zM117 88h6v1h-6zM170 88h9v1h-9zM181 88h9v1h-9zM93 89h6v1h-6zM116 89h6v1h-6zM170 89h7v1h-7zM183 89h7v1h-7zM95 90h4v1h-4zM115 90h6v1h-6zM170 90h5v1h-5zM184 90h6v1h-6zM96 91h4v1h-4zM114 91h6v1h-6zM169 91h4v1h-4zM184 91h7v1h-7zM96 92h4v1h-4zM114 92h6v1h-6zM169 92h2v1h-2zM184 92h7v1h-7zM97 93h4v1h-4zM113 93h6v1h-6zM168 93h2v1h-2zM184 93h6v1h-6zM267 93h10v1h-10zM98 94h3v1h-3zM112 94h7v1h-7zM168 94h2v1h-2zM183 94h7v1h-7zM266 94h12v1h-12zM98 95h4v1h-4zM110 95h7v1h-7zM169 95h1v1h-1zM183 95h6v1h-6zM264 95h15v1h-15zM99 96h16v1h-16zM169 96h1v1h-1zM182 96h6v1h-6zM260 96h20v1h-20zM100 97h14v1h-14zM169 97h2v1h-2zM182 97h6v1h-6zM258 97h22v1h-22zM100 98h13v1h-13zM169 98h2v1h-2zM182 98h5v1h-5zM258 98h21v1h-21zM101 99h11v1h-11zM169 99h2v1h-2zM182 99h5v1h-5zM257 99h21v1h-21zM101 100h11v1h-11zM170 100h1v1h-1zM181 100h5v1h-5zM257 100h19v1h-19zM101 101h10v1h-10zM170 101h2v1h-2zM180 101h6v1h-6zM257 101h17v1h-17zM102 102h8v1h-8zM171 102h14v1h-14zM258 102h14v1h-14zM172 103h11v1h-11zM258 103h13v1h-13zM174 104h6v1h-6zM259 104h10v1h-10zM259 105h3v1h-3zM142 129h11v1h-11zM123 130h40v1h-40zM108 131h18v1h-18zM159 131h109v1h-109zM76 132h32v1h-32zM184 132h90v1h-90zM34 133h43v1h-43zM190 133h101v1h-101zM26 134h10v1h-10zM197 134h96v1h-96zM20 135h12v1h-12zM197 135h93v1h-93zM19 136h7v1h-7zM195 136h79v1h-79zM281 136h7v1h-7zM17 137h7v1h-7zM193 137h9v1h-9zM228 137h3v1h-3zM17 138h6v1h-6zM190 138h8v1h-8zM17 139h7v1h-7zM99 139h3v1h-3zM166 139h28v1h-28zM17 140h10v1h-10zM98 140h5v1h-5zM151 140h29v1h-29zM18 141h15v1h-15zM69 141h8v1h-8zM89 141h9v1h-9zM102 141h2v1h-2zM147 141h7v1h-7zM20 142h16v1h-16zM48 142h39v1h-39zM104 142h3v1h-3zM133 142h14v1h-14zM21 143h26v1h-26zM104 143h37v1h-37zM106 144h30v1h-30zM109 145h22v1h-22z"/>
<path fill="#ff9000" d="M123 13h4v1h-4zM120 14h10v1h-10zM119 15h13v1h-13zM119 16h14v1h-14zM119 17h14v1h-14zM120 18h14v1h-14zM120 19h16v1h-16zM120 20h8v1h-8zM131 20h7v1h-7zM120 21h5v1h-5zM136 21h7v1h-7zM119 22h4v1h-4zM139 22h8v1h-8zM118 23h4v1h-4zM145 23h7v1h-7zM117 24h4v1h-4zM150 24h10v1h-10zM114 25h5v1h-5zM154 25h8v1h-8zM29 26h3v1h-3zM112 26h3v1h-3zM161 26h2v1h-2zM14 27h2v1h-2zM24 27h1v1h-1zM37 27h2v1h-2zM111 27h2v1h-2zM163 27h4v1h-4zM309 27h3v1h-3zM11 28h2v1h-2zM18 28h1v1h-1zM22 28h1v1h-1zM41 28h8v1h-8zM110 28h1v1h-1zM166 28h3v1h-3zM307 28h3v1h-3zM311 28h3v1h-3zM0 29h3v1h-3zM7 29h3v1h-3zM19 29h1v1h-1zM48 29h2v1h-2zM109 29h1v1h-1zM168 29h2v1h-2zM305 29h3v1h-3zM314 29h2v1h-2zM48 30h2v1h-2zM108 30h2v1h-2zM169 30h3v1h-3zM302 30h4v1h-4zM49 31h2v1h-2zM170 31h4v1h-4zM300 31h2v1h-2zM49 32h2v1h-2zM171 32h5v1h-5zM298 32h1v1h-1zM50 33h2v1h-2zM173 33h4v1h-4zM297 33h1v1h-1zM50 34h2v1h-2zM108 34h1v1h-1zM173 34h6v1h-6zM294 34h2v1h-2zM50 35h3v1h-3zM108 35h1v1h-1zM174 35h6v1h-6zM291 35h2v1h-2zM51 36h3v1h-3zM104 36h2v1h-2zM107 36h1v1h-1zM175 36h7v1h-7zM289 36h2v1h-2zM51 37h4v1h-4zM102 37h3v1h-3zM176 37h8v1h-8zM286 37h3v1h-3zM52 38h5v1h-5zM102 38h2v1h-2zM178 38h9v1h-9zM189 38h2v1h-2zM200 38h4v1h-4zM280 38h1v1h-1zM283 38h3v1h-3zM53 39h5v1h-5zM103 39h1v1h-1zM180 39h28v1h-28zM278 39h5v1h-5zM54 40h5v1h-5zM98 40h4v1h-4zM187 40h22v1h-22zM276 40h2v1h-2zM55 41h5v1h-5zM96 41h1v1h-1zM205 41h5v1h-5zM273 41h3v1h-3zM56 42h6v1h-6zM94 42h2v1h-2zM207 42h3v1h-3zM270 42h3v1h-3zM56 43h8v1h-8zM89 43h4v1h-4zM208 43h3v1h-3zM263 43h1v1h-1zM265 43h6v1h-6zM56 44h36v1h-36zM208 44h3v1h-3zM249 44h21v1h-21zM57 45h27v1h-27zM209 45h2v1h-2zM247 45h18v1h-18zM267 45h3v1h-3zM57 46h22v1h-22zM209 46h2v1h-2zM247 46h17v1h-17zM58 47h18v1h-18zM209 47h3v1h-3zM247 47h16v1h-16zM209 48h3v1h-3zM247 48h15v1h-15zM209 49h3v1h-3zM247 49h14v1h-14zM208 50h5v1h-5zM246 50h13v1h-13zM208 51h7v1h-7zM246 51h9v1h-9zM207 52h12v1h-12zM245 52h6v1h-6zM196 53h25v1h-25zM244 53h5v1h-5zM194 54h17v1h-17zM215 54h7v1h-7zM242 54h6v1h-6zM193 55h15v1h-15zM217 55h8v1h-8zM238 55h8v1h-8zM193 56h14v1h-14zM219 56h24v1h-24zM193 57h14v1h-14zM222 57h17v1h-17zM193 58h13v1h-13zM193 59h11v1h-11zM193 60h8v1h-8zM193 61h7v1h-7zM194 62h5v1h-5zM195 63h2v1h-2zM99 73h4v1h-4zM99 74h6v1h-6zM98 75h11v1h-11zM97 76h14v1h-14zM96 77h16v1h-16zM94 78h19v1h-19zM93 79h21v1h-21zM93 80h14v1h-14zM110 80h6v1h-6zM92 81h14v1h-14zM111 81h6v1h-6zM92 82h14v1h-14zM112 82h6v1h-6zM92 83h14v1h-14zM112 83h7v1h-7zM92 84h14v1h-14zM113 84h6v1h-6zM93 85h14v1h-14zM112 85h7v1h-7zM95 86h13v1h-13zM111 86h8v1h-8zM97 87h21v1h-21zM98 88h19v1h-19zM179 88h2v1h-2zM99 89h17v1h-17zM177 89h6v1h-6zM99 90h16v1h-16zM175 90h9v1h-9zM100 91h14v1h-14zM173 91h11v1h-11zM100 92h14v1h-14zM171 92h13v1h-13zM101 93h12v1h-12zM170 93h14v1h-14zM101 94h11v1h-11zM170 94h13v1h-13zM102 95h8v1h-8zM170 95h13v1h-13zM170 96h12v1h-12zM171 97h11v1h-11zM171 98h11v1h-11zM171 99h11v1h-11zM171 100h10v1h-10zM172 101h8v1h-8zM126 131h33v1h-33zM108 132h32v1h-32zM156 132h28v1h-28zM77 133h44v1h-44zM161 133h29v1h-29zM36 134h45v1h-45zM168 134h29v1h-29zM32 135h6v1h-6zM63 135h14v1h-14zM168 135h29v1h-29zM26 136h10v1h-10zM167 136h28v1h-28zM24 137h10v1h-10zM164 137h29v1h-29zM23 138h11v1h-11zM99 138h3v1h-3zM158 138h32v1h-32zM24 139h12v1h-12zM66 139h9v1h-9zM98 139h1v1h-1zM102 139h1v1h-1zM150 139h16v1h-16zM27 140h12v1h-12zM64 140h15v1h-15zM91 140h7v1h-7zM103 140h2v1h-2zM130 140h12v1h-12zM146 140h5v1h-5zM33 141h36v1h-36zM77 141h12v1h-12zM104 141h43v1h-43zM36 142h12v1h-12zM107 142h26v1h-26z"/>
<path fill="#ff6b00" d="M119 12h11v1h-11zM117 13h6v1h-6zM127 13h6v1h-6zM116 14h4v1h-4zM130 14h5v1h-5zM116 15h3v1h-3zM132 15h4v1h-4zM116 16h3v1h-3zM133 16h4v1h-4zM116 17h3v1h-3zM133 17h5v1h-5zM116 18h4v1h-4zM134 18h5v1h-5zM116 19h4v1h-4zM136 19h4v1h-4zM116 20h4v1h-4zM138 20h6v1h-6zM116 21h4v1h-4zM143 21h6v1h-6zM115 22h4v1h-4zM147 22h14v1h-14zM114 23h4v1h-4zM152 23h11v1h-11zM113 24h4v1h-4zM160 24h4v1h-4zM112 25h2v1h-2zM162 25h4v1h-4zM25 26h4v1h-4zM32 26h4v1h-4zM110 26h2v1h-2zM163 26h5v1h-5zM309 26h4v1h-4zM12 27h2v1h-2zM16 27h1v1h-1zM23 27h1v1h-1zM39 27h2v1h-2zM43 27h6v1h-6zM109 27h2v1h-2zM167 27h3v1h-3zM307 27h2v1h-2zM312 27h2v1h-2zM0 28h2v1h-2zM8 28h3v1h-3zM19 28h3v1h-3zM49 28h1v1h-1zM109 28h1v1h-1zM169 28h4v1h-4zM305 28h2v1h-2zM314 28h2v1h-2zM3 29h4v1h-4zM50 29h1v1h-1zM108 29h1v1h-1zM170 29h4v1h-4zM302 29h3v1h-3zM50 30h2v1h-2zM172 30h5v1h-5zM300 30h2v1h-2zM51 31h2v1h-2zM108 31h1v1h-1zM174 31h5v1h-5zM299 31h1v1h-1zM51 32h2v1h-2zM108 32h1v1h-1zM176 32h5v1h-5zM297 32h1v1h-1zM52 33h2v1h-2zM108 33h1v1h-1zM177 33h7v1h-7zM295 33h2v1h-2zM52 34h3v1h-3zM179 34h7v1h-7zM292 34h2v1h-2zM53 35h3v1h-3zM105 35h3v1h-3zM180 35h9v1h-9zM252 35h4v1h-4zM289 35h2v1h-2zM54 36h4v1h-4zM102 36h2v1h-2zM106 36h1v1h-1zM182 36h17v1h-17zM230 36h5v1h-5zM247 36h14v1h-14zM286 36h3v1h-3zM55 37h4v1h-4zM184 37h25v1h-25zM228 37h8v1h-8zM245 37h18v1h-18zM280 37h2v1h-2zM283 37h3v1h-3zM57 38h4v1h-4zM187 38h2v1h-2zM191 38h9v1h-9zM204 38h8v1h-8zM226 38h12v1h-12zM244 38h20v1h-20zM278 38h2v1h-2zM281 38h2v1h-2zM58 39h5v1h-5zM102 39h1v1h-1zM208 39h4v1h-4zM224 39h47v1h-47zM276 39h2v1h-2zM59 40h6v1h-6zM97 40h1v1h-1zM209 40h4v1h-4zM222 40h54v1h-54zM60 41h13v1h-13zM95 41h1v1h-1zM210 41h3v1h-3zM220 41h53v1h-53zM62 42h19v1h-19zM83 42h3v1h-3zM87 42h7v1h-7zM210 42h4v1h-4zM220 42h50v1h-50zM64 43h25v1h-25zM211 43h3v1h-3zM219 43h44v1h-44zM264 43h1v1h-1zM211 44h3v1h-3zM219 44h30v1h-30zM211 45h3v1h-3zM219 45h28v1h-28zM211 46h4v1h-4zM218 46h29v1h-29zM212 47h35v1h-35zM212 48h35v1h-35zM212 49h19v1h-19zM240 49h7v1h-7zM213 50h17v1h-17zM241 50h5v1h-5zM215 51h16v1h-16zM240 51h6v1h-6zM219 52h26v1h-26zM221 53h23v1h-23zM222 54h20v1h-20zM225 55h13v1h-13zM107 80h3v1h-3zM106 81h5v1h-5zM106 82h6v1h-6zM106 83h6v1h-6zM106 84h7v1h-7zM107 85h5v1h-5zM108 86h3v1h-3zM140 132h16v1h-16zM121 133h40v1h-40zM81 134h61v1h-61zM150 134h18v1h-18zM38 135h25v1h-25zM77 135h25v1h-25zM107 135h32v1h-32zM150 135h18v1h-18zM36 136h58v1h-58zM101 136h2v1h-2zM112 136h10v1h-10zM128 136h10v1h-10zM148 136h19v1h-19zM34 137h60v1h-60zM99 137h5v1h-5zM127 137h15v1h-15zM145 137h19v1h-19zM34 138h62v1h-62zM97 138h2v1h-2zM102 138h2v1h-2zM106 138h52v1h-52zM36 139h30v1h-30zM75 139h23v1h-23zM103 139h47v1h-47zM39 140h25v1h-25zM79 140h12v1h-12zM105 140h25v1h-25zM142 140h4v1h-4z"/>
<path fill="#ff4900" d="M118 11h12v1h-12zM115 12h4v1h-4zM130 12h4v1h-4zM114 13h3v1h-3zM133 13h3v1h-3zM114 14h2v1h-2zM135 14h3v1h-3zM113 15h3v1h-3zM136 15h3v1h-3zM113 16h3v1h-3zM137 16h3v1h-3zM113 17h3v1h-3zM138 17h3v1h-3zM113 18h3v1h-3zM139 18h4v1h-4zM113 19h3v1h-3zM140 19h7v1h-7zM113 20h3v1h-3zM144 20h8v1h-8zM156 20h8v1h-8zM113 21h3v1h-3zM149 21h16v1h-16zM113 22h2v1h-2zM161 22h6v1h-6zM112 23h2v1h-2zM163 23h6v1h-6zM111 24h2v1h-2zM164 24h6v1h-6zM110 25h2v1h-2zM166 25h6v1h-6zM24 26h1v1h-1zM36 26h3v1h-3zM43 26h6v1h-6zM109 26h1v1h-1zM168 26h6v1h-6zM308 26h1v1h-1zM313 26h1v1h-1zM10 27h2v1h-2zM17 27h3v1h-3zM22 27h1v1h-1zM41 27h2v1h-2zM49 27h1v1h-1zM108 27h1v1h-1zM170 27h6v1h-6zM306 27h1v1h-1zM314 27h2v1h-2zM2 28h6v1h-6zM50 28h1v1h-1zM108 28h1v1h-1zM173 28h5v1h-5zM302 28h3v1h-3zM51 29h1v1h-1zM107 29h1v1h-1zM174 29h6v1h-6zM301 29h1v1h-1zM52 30h1v1h-1zM107 30h1v1h-1zM177 30h6v1h-6zM53 31h1v1h-1zM107 31h1v1h-1zM179 31h7v1h-7zM224 31h43v1h-43zM298 31h1v1h-1zM53 32h2v1h-2zM181 32h9v1h-9zM221 32h48v1h-48zM296 32h1v1h-1zM54 33h2v1h-2zM184 33h10v1h-10zM219 33h52v1h-52zM292 33h3v1h-3zM55 34h3v1h-3zM107 34h1v1h-1zM186 34h24v1h-24zM217 34h56v1h-56zM290 34h2v1h-2zM56 35h3v1h-3zM103 35h2v1h-2zM189 35h63v1h-63zM256 35h20v1h-20zM287 35h2v1h-2zM58 36h3v1h-3zM199 36h31v1h-31zM235 36h12v1h-12zM261 36h21v1h-21zM283 36h3v1h-3zM59 37h4v1h-4zM101 37h1v1h-1zM209 37h19v1h-19zM236 37h9v1h-9zM263 37h17v1h-17zM282 37h1v1h-1zM61 38h5v1h-5zM101 38h1v1h-1zM212 38h14v1h-14zM238 38h6v1h-6zM264 38h14v1h-14zM63 39h8v1h-8zM99 39h3v1h-3zM212 39h12v1h-12zM271 39h5v1h-5zM65 40h14v1h-14zM95 40h2v1h-2zM213 40h9v1h-9zM73 41h22v1h-22zM213 41h7v1h-7zM81 42h2v1h-2zM86 42h1v1h-1zM214 42h6v1h-6zM214 43h5v1h-5zM214 44h5v1h-5zM214 45h5v1h-5zM215 46h3v1h-3zM231 49h9v1h-9zM230 50h11v1h-11zM231 51h9v1h-9zM142 134h8v1h-8zM102 135h5v1h-5zM139 135h11v1h-11zM94 136h7v1h-7zM103 136h9v1h-9zM122 136h6v1h-6zM138 136h10v1h-10zM94 137h5v1h-5zM104 137h23v1h-23zM142 137h3v1h-3zM96 138h1v1h-1zM104 138h2v1h-2z"/>
<path fill="#ff2500" d="M117 10h12v1h-12zM113 11h5v1h-5zM130 11h4v1h-4zM112 12h3v1h-3zM134 12h3v1h-3zM111 13h3v1h-3zM136 13h3v1h-3zM111 14h3v1h-3zM138 14h2v1h-2zM111 15h2v1h-2zM139 15h2v1h-2zM111 16h2v1h-2zM140 16h3v1h-3zM112 17h1v1h-1zM141 17h5v1h-5zM112 18h1v1h-1zM143 18h7v1h-7zM158 18h8v1h-8zM112 19h1v1h-1zM147 19h21v1h-21zM111 20h2v1h-2zM152 20h4v1h-4zM164 20h7v1h-7zM111 21h2v1h-2zM165 21h7v1h-7zM111 22h2v1h-2zM167 22h6v1h-6zM111 23h1v1h-1zM169 23h5v1h-5zM110 24h1v1h-1zM170 24h6v1h-6zM25 25h24v1h-24zM109 25h1v1h-1zM172 25h5v1h-5zM310 25h3v1h-3zM12 26h4v1h-4zM23 26h1v1h-1zM39 26h4v1h-4zM49 26h1v1h-1zM108 26h1v1h-1zM174 26h6v1h-6zM307 26h1v1h-1zM314 26h2v1h-2zM0 27h3v1h-3zM7 27h3v1h-3zM20 27h2v1h-2zM50 27h2v1h-2zM107 27h1v1h-1zM176 27h6v1h-6zM303 27h3v1h-3zM51 28h2v1h-2zM107 28h1v1h-1zM178 28h7v1h-7zM221 28h48v1h-48zM301 28h1v1h-1zM52 29h2v1h-2zM106 29h1v1h-1zM180 29h8v1h-8zM218 29h54v1h-54zM300 29h1v1h-1zM53 30h2v1h-2zM106 30h1v1h-1zM183 30h12v1h-12zM215 30h59v1h-59zM299 30h1v1h-1zM54 31h2v1h-2zM186 31h38v1h-38zM267 31h8v1h-8zM296 31h2v1h-2zM55 32h2v1h-2zM107 32h1v1h-1zM190 32h31v1h-31zM269 32h7v1h-7zM293 32h3v1h-3zM56 33h3v1h-3zM107 33h1v1h-1zM194 33h25v1h-25zM271 33h7v1h-7zM290 33h2v1h-2zM58 34h3v1h-3zM105 34h2v1h-2zM210 34h7v1h-7zM273 34h7v1h-7zM288 34h2v1h-2zM59 35h4v1h-4zM102 35h1v1h-1zM276 35h11v1h-11zM61 36h4v1h-4zM101 36h1v1h-1zM282 36h1v1h-1zM63 37h6v1h-6zM66 38h8v1h-8zM100 38h1v1h-1zM71 39h9v1h-9zM96 39h3v1h-3zM79 40h16v1h-16z"/>
<path fill="#ff0200" d="M119 9h8v1h-8zM111 10h6v1h-6zM129 10h5v1h-5zM110 11h3v1h-3zM134 11h3v1h-3zM109 12h3v1h-3zM137 12h2v1h-2zM109 13h2v1h-2zM139 13h2v1h-2zM109 14h2v1h-2zM140 14h2v1h-2zM110 15h1v1h-1zM141 15h3v1h-3zM110 16h1v1h-1zM143 16h4v1h-4zM160 16h6v1h-6zM110 17h2v1h-2zM146 17h6v1h-6zM156 17h13v1h-13zM111 18h1v1h-1zM150 18h8v1h-8zM166 18h5v1h-5zM111 19h1v1h-1zM168 19h5v1h-5zM171 20h3v1h-3zM110 21h1v1h-1zM172 21h3v1h-3zM110 22h1v1h-1zM173 22h5v1h-5zM109 23h2v1h-2zM174 23h6v1h-6zM29 24h19v1h-19zM109 24h1v1h-1zM176 24h7v1h-7zM22 25h3v1h-3zM49 25h1v1h-1zM108 25h1v1h-1zM177 25h9v1h-9zM309 25h1v1h-1zM313 25h1v1h-1zM0 26h2v1h-2zM9 26h3v1h-3zM16 26h7v1h-7zM50 26h2v1h-2zM107 26h1v1h-1zM180 26h11v1h-11zM216 26h57v1h-57zM306 26h1v1h-1zM3 27h4v1h-4zM52 27h1v1h-1zM106 27h1v1h-1zM182 27h93v1h-93zM302 27h1v1h-1zM53 28h1v1h-1zM106 28h1v1h-1zM185 28h36v1h-36zM269 28h7v1h-7zM54 29h1v1h-1zM105 29h1v1h-1zM188 29h30v1h-30zM272 29h5v1h-5zM55 30h1v1h-1zM195 30h20v1h-20zM274 30h3v1h-3zM297 30h2v1h-2zM56 31h2v1h-2zM106 31h1v1h-1zM275 31h2v1h-2zM294 31h2v1h-2zM57 32h2v1h-2zM106 32h1v1h-1zM276 32h2v1h-2zM291 32h2v1h-2zM59 33h3v1h-3zM105 33h2v1h-2zM278 33h3v1h-3zM288 33h2v1h-2zM61 34h3v1h-3zM103 34h2v1h-2zM280 34h4v1h-4zM285 34h3v1h-3zM63 35h4v1h-4zM101 35h1v1h-1zM65 36h5v1h-5zM100 36h1v1h-1zM69 37h6v1h-6zM99 37h2v1h-2zM74 38h7v1h-7zM97 38h3v1h-3zM80 39h16v1h-16z"/>
<path fill="#dd0000" d="M109 9h10v1h-10zM127 9h5v1h-5zM107 10h4v1h-4zM134 10h3v1h-3zM106 11h4v1h-4zM137 11h3v1h-3zM107 12h2v1h-2zM139 12h2v1h-2zM108 13h1v1h-1zM141 13h1v1h-1zM142 14h3v1h-3zM109 15h1v1h-1zM144 15h4v1h-4zM160 15h8v1h-8zM109 16h1v1h-1zM147 16h13v1h-13zM166 16h7v1h-7zM109 17h1v1h-1zM152 17h4v1h-4zM169 17h6v1h-6zM110 18h1v1h-1zM171 18h6v1h-6zM110 19h1v1h-1zM173 19h5v1h-5zM109 20h2v1h-2zM174 20h6v1h-6zM109 21h1v1h-1zM175 21h10v1h-10zM109 22h1v1h-1zM178 22h9v1h-9zM28 23h19v1h-19zM108 23h1v1h-1zM180 23h11v1h-11zM192 23h8v1h-8zM21 24h8v1h-8zM48 24h2v1h-2zM108 24h1v1h-1zM183 24h92v1h-92zM18 25h4v1h-4zM50 25h2v1h-2zM107 25h1v1h-1zM186 25h91v1h-91zM308 25h1v1h-1zM314 25h2v1h-2zM2 26h3v1h-3zM6 26h3v1h-3zM52 26h1v1h-1zM106 26h1v1h-1zM191 26h25v1h-25zM273 26h4v1h-4zM303 26h3v1h-3zM53 27h1v1h-1zM275 27h3v1h-3zM301 27h1v1h-1zM54 28h1v1h-1zM105 28h1v1h-1zM276 28h2v1h-2zM300 28h1v1h-1zM55 29h1v1h-1zM277 29h1v1h-1zM299 29h1v1h-1zM56 30h2v1h-2zM105 30h1v1h-1zM277 30h1v1h-1zM294 30h3v1h-3zM58 31h2v1h-2zM105 31h1v1h-1zM277 31h1v1h-1zM291 31h3v1h-3zM59 32h3v1h-3zM105 32h1v1h-1zM278 32h2v1h-2zM288 32h3v1h-3zM62 33h3v1h-3zM104 33h1v1h-1zM281 33h2v1h-2zM286 33h2v1h-2zM64 34h3v1h-3zM102 34h1v1h-1zM284 34h1v1h-1zM67 35h4v1h-4zM100 35h1v1h-1zM70 36h6v1h-6zM98 36h2v1h-2zM75 37h7v1h-7zM96 37h3v1h-3zM81 38h7v1h-7zM91 38h6v1h-6z"/>
<path fill="#ba0000" d="M107 8h25v1h-25zM103 9h6v1h-6zM132 9h5v1h-5zM102 10h5v1h-5zM137 10h3v1h-3zM103 11h3v1h-3zM140 11h1v1h-1zM106 12h1v1h-1zM141 12h1v1h-1zM107 13h1v1h-1zM142 13h3v1h-3zM108 14h1v1h-1zM145 14h3v1h-3zM160 14h11v1h-11zM108 15h1v1h-1zM148 15h12v1h-12zM168 15h8v1h-8zM173 16h8v1h-8zM175 17h9v1h-9zM108 18h2v1h-2zM177 18h11v1h-11zM108 19h2v1h-2zM178 19h12v1h-12zM108 20h1v1h-1zM180 20h13v1h-13zM197 20h1v1h-1zM108 21h1v1h-1zM185 21h16v1h-16zM28 22h18v1h-18zM108 22h1v1h-1zM187 22h88v1h-88zM21 23h7v1h-7zM47 23h3v1h-3zM107 23h1v1h-1zM191 23h1v1h-1zM200 23h78v1h-78zM18 24h3v1h-3zM50 24h1v1h-1zM107 24h1v1h-1zM275 24h3v1h-3zM311 24h3v1h-3zM0 25h3v1h-3zM9 25h5v1h-5zM16 25h2v1h-2zM52 25h1v1h-1zM106 25h1v1h-1zM277 25h2v1h-2zM306 25h2v1h-2zM5 26h1v1h-1zM53 26h1v1h-1zM277 26h2v1h-2zM301 26h2v1h-2zM54 27h1v1h-1zM105 27h1v1h-1zM278 27h2v1h-2zM300 27h1v1h-1zM55 28h1v1h-1zM104 28h1v1h-1zM278 28h2v1h-2zM299 28h1v1h-1zM56 29h2v1h-2zM104 29h1v1h-1zM278 29h1v1h-1zM296 29h3v1h-3zM58 30h2v1h-2zM104 30h1v1h-1zM278 30h1v1h-1zM292 30h2v1h-2zM60 31h2v1h-2zM104 31h1v1h-1zM278 31h2v1h-2zM289 31h2v1h-2zM62 32h3v1h-3zM103 32h2v1h-2zM280 32h3v1h-3zM286 32h2v1h-2zM65 33h3v1h-3zM102 33h2v1h-2zM283 33h3v1h-3zM67 34h4v1h-4zM101 34h1v1h-1zM71 35h4v1h-4zM98 35h2v1h-2zM76 36h5v1h-5zM96 36h2v1h-2zM82 37h3v1h-3zM92 37h4v1h-4zM88 38h3v1h-3z"/>
<path fill="#960000" d="M120 7h10v1h-10zM104 8h3v1h-3zM132 8h4v1h-4zM101 9h2v1h-2zM137 9h3v1h-3zM100 10h2v1h-2zM140 10h2v1h-2zM101 11h2v1h-2zM141 11h1v1h-1zM104 12h2v1h-2zM142 12h2v1h-2zM145 13h3v1h-3zM161 13h13v1h-13zM107 14h1v1h-1zM148 14h5v1h-5zM154 14h6v1h-6zM171 14h9v1h-9zM176 15h9v1h-9zM108 16h1v1h-1zM181 16h7v1h-7zM107 17h2v1h-2zM184 17h6v1h-6zM107 18h1v1h-1zM188 18h4v1h-4zM107 19h1v1h-1zM190 19h4v1h-4zM196 19h2v1h-2zM107 20h1v1h-1zM193 20h4v1h-4zM198 20h23v1h-23zM224 20h2v1h-2zM28 21h16v1h-16zM107 21h1v1h-1zM201 21h78v1h-78zM21 22h7v1h-7zM46 22h4v1h-4zM107 22h1v1h-1zM275 22h5v1h-5zM19 23h2v1h-2zM50 23h1v1h-1zM106 23h1v1h-1zM278 23h3v1h-3zM0 24h1v1h-1zM11 24h2v1h-2zM16 24h2v1h-2zM51 24h2v1h-2zM106 24h1v1h-1zM278 24h3v1h-3zM308 24h3v1h-3zM314 24h2v1h-2zM3 25h6v1h-6zM14 25h2v1h-2zM53 25h1v1h-1zM279 25h2v1h-2zM302 25h4v1h-4zM54 26h1v1h-1zM105 26h1v1h-1zM279 26h2v1h-2zM299 26h2v1h-2zM55 27h1v1h-1zM104 27h1v1h-1zM280 27h1v1h-1zM299 27h1v1h-1zM56 28h2v1h-2zM280 28h1v1h-1zM297 28h2v1h-2zM58 29h2v1h-2zM279 29h2v1h-2zM293 29h3v1h-3zM60 30h2v1h-2zM103 30h1v1h-1zM279 30h2v1h-2zM289 30h3v1h-3zM62 31h3v1h-3zM102 31h2v1h-2zM280 31h3v1h-3zM286 31h3v1h-3zM65 32h3v1h-3zM102 32h1v1h-1zM283 32h3v1h-3zM68 33h3v1h-3zM101 33h1v1h-1zM71 34h4v1h-4zM99 34h2v1h-2zM75 35h4v1h-4zM96 35h2v1h-2zM81 36h3v1h-3zM87 36h1v1h-1zM92 36h4v1h-4zM85 37h7v1h-7z"/>
<path fill="#740000" d="M108 7h12v1h-12zM130 7h4v1h-4zM101 8h3v1h-3zM136 8h3v1h-3zM100 9h1v1h-1zM140 9h2v1h-2zM99 10h1v1h-1zM99 11h2v1h-2zM142 11h2v1h-2zM102 12h2v1h-2zM144 12h3v1h-3zM168 12h3v1h-3zM105 13h2v1h-2zM148 13h4v1h-4zM156 13h5v1h-5zM174 13h8v1h-8zM153 14h1v1h-1zM180 14h9v1h-9zM107 15h1v1h-1zM185 15h7v1h-7zM107 16h1v1h-1zM188 16h6v1h-6zM106 17h1v1h-1zM190 17h6v1h-6zM106 18h1v1h-1zM192 18h6v1h-6zM218 18h3v1h-3zM224 18h4v1h-4zM271 18h11v1h-11zM106 19h1v1h-1zM194 19h2v1h-2zM198 19h4v1h-4zM208 19h14v1h-14zM223 19h62v1h-62zM27 20h18v1h-18zM106 20h1v1h-1zM221 20h3v1h-3zM226 20h59v1h-59zM21 21h7v1h-7zM44 21h5v1h-5zM106 21h1v1h-1zM279 21h6v1h-6zM19 22h2v1h-2zM50 22h1v1h-1zM106 22h1v1h-1zM280 22h4v1h-4zM17 23h2v1h-2zM51 23h1v1h-1zM105 23h1v1h-1zM281 23h3v1h-3zM1 24h10v1h-10zM13 24h1v1h-1zM15 24h1v1h-1zM53 24h1v1h-1zM105 24h1v1h-1zM281 24h3v1h-3zM299 24h9v1h-9zM54 25h1v1h-1zM105 25h1v1h-1zM281 25h2v1h-2zM298 25h4v1h-4zM55 26h1v1h-1zM104 26h1v1h-1zM281 26h2v1h-2zM297 26h2v1h-2zM56 27h2v1h-2zM281 27h1v1h-1zM296 27h3v1h-3zM58 28h2v1h-2zM103 28h1v1h-1zM281 28h1v1h-1zM291 28h6v1h-6zM60 29h3v1h-3zM103 29h1v1h-1zM281 29h2v1h-2zM288 29h5v1h-5zM62 30h3v1h-3zM102 30h1v1h-1zM281 30h8v1h-8zM65 31h3v1h-3zM101 31h1v1h-1zM283 31h3v1h-3zM68 32h3v1h-3zM100 32h2v1h-2zM71 33h3v1h-3zM99 33h2v1h-2zM75 34h4v1h-4zM96 34h3v1h-3zM79 35h11v1h-11zM92 35h4v1h-4zM84 36h3v1h-3zM88 36h4v1h-4z"/>
<path fill="#4f0000" d="M104 7h4v1h-4zM134 7h2v1h-2zM100 8h1v1h-1zM139 8h1v1h-1zM99 9h1v1h-1zM98 10h1v1h-1zM142 10h1v1h-1zM98 11h1v1h-1zM144 11h3v1h-3zM100 12h2v1h-2zM147 12h4v1h-4zM157 12h11v1h-11zM171 12h13v1h-13zM104 13h1v1h-1zM152 13h4v1h-4zM182 13h8v1h-8zM106 14h1v1h-1zM189 14h5v1h-5zM106 15h1v1h-1zM192 15h5v1h-5zM106 16h1v1h-1zM194 16h5v1h-5zM217 16h4v1h-4zM224 16h4v1h-4zM260 16h9v1h-9zM279 16h5v1h-5zM196 17h4v1h-4zM217 17h5v1h-5zM223 17h65v1h-65zM105 18h1v1h-1zM198 18h4v1h-4zM210 18h8v1h-8zM221 18h3v1h-3zM228 18h43v1h-43zM282 18h8v1h-8zM24 19h14v1h-14zM42 19h3v1h-3zM105 19h1v1h-1zM202 19h6v1h-6zM222 19h1v1h-1zM285 19h8v1h-8zM21 20h6v1h-6zM45 20h4v1h-4zM105 20h1v1h-1zM285 20h9v1h-9zM19 21h2v1h-2zM49 21h1v1h-1zM105 21h1v1h-1zM285 21h10v1h-10zM18 22h1v1h-1zM51 22h1v1h-1zM105 22h1v1h-1zM284 22h8v1h-8zM298 22h6v1h-6zM0 23h3v1h-3zM9 23h8v1h-8zM52 23h2v1h-2zM284 23h6v1h-6zM297 23h19v1h-19zM14 24h1v1h-1zM54 24h1v1h-1zM104 24h1v1h-1zM284 24h4v1h-4zM296 24h3v1h-3zM55 25h1v1h-1zM104 25h1v1h-1zM283 25h4v1h-4zM295 25h3v1h-3zM56 26h1v1h-1zM283 26h3v1h-3zM294 26h3v1h-3zM58 27h2v1h-2zM103 27h1v1h-1zM282 27h3v1h-3zM290 27h6v1h-6zM60 28h3v1h-3zM102 28h1v1h-1zM282 28h3v1h-3zM286 28h5v1h-5zM63 29h2v1h-2zM102 29h1v1h-1zM283 29h5v1h-5zM65 30h3v1h-3zM101 30h1v1h-1zM68 31h2v1h-2zM100 31h1v1h-1zM71 32h3v1h-3zM98 32h2v1h-2zM74 33h6v1h-6zM96 33h3v1h-3zM79 34h7v1h-7zM89 34h7v1h-7zM90 35h2v1h-2z"/>
<path fill="#2d0000" d="M120 6h13v1h-13zM99 7h5v1h-5zM136 7h2v1h-2zM98 8h2v1h-2zM140 8h2v1h-2zM98 9h1v1h-1zM142 9h1v1h-1zM97 10h1v1h-1zM143 10h3v1h-3zM97 11h1v1h-1zM147 11h3v1h-3zM158 11h26v1h-26zM99 12h1v1h-1zM151 12h6v1h-6zM184 12h8v1h-8zM102 13h2v1h-2zM190 13h6v1h-6zM104 14h2v1h-2zM194 14h5v1h-5zM105 15h1v1h-1zM197 15h4v1h-4zM217 15h4v1h-4zM227 15h1v1h-1zM234 15h12v1h-12zM253 15h4v1h-4zM280 15h1v1h-1zM105 16h1v1h-1zM199 16h9v1h-9zM215 16h2v1h-2zM221 16h3v1h-3zM228 16h2v1h-2zM232 16h28v1h-28zM269 16h10v1h-10zM284 16h3v1h-3zM105 17h1v1h-1zM200 17h8v1h-8zM210 17h7v1h-7zM222 17h1v1h-1zM288 17h2v1h-2zM23 18h4v1h-4zM104 18h1v1h-1zM202 18h8v1h-8zM290 18h6v1h-6zM21 19h3v1h-3zM38 19h4v1h-4zM45 19h5v1h-5zM104 19h1v1h-1zM293 19h6v1h-6zM19 20h2v1h-2zM49 20h2v1h-2zM104 20h1v1h-1zM294 20h8v1h-8zM18 21h1v1h-1zM50 21h1v1h-1zM104 21h1v1h-1zM295 21h10v1h-10zM10 22h2v1h-2zM16 22h2v1h-2zM52 22h1v1h-1zM104 22h1v1h-1zM292 22h6v1h-6zM304 22h6v1h-6zM3 23h6v1h-6zM54 23h1v1h-1zM104 23h1v1h-1zM290 23h7v1h-7zM55 24h1v1h-1zM288 24h8v1h-8zM56 25h1v1h-1zM103 25h1v1h-1zM287 25h8v1h-8zM57 26h3v1h-3zM103 26h1v1h-1zM286 26h8v1h-8zM60 27h3v1h-3zM102 27h1v1h-1zM285 27h5v1h-5zM63 28h2v1h-2zM101 28h1v1h-1zM285 28h1v1h-1zM65 29h3v1h-3zM100 29h2v1h-2zM68 30h2v1h-2zM99 30h2v1h-2zM70 31h3v1h-3zM97 31h3v1h-3zM74 32h8v1h-8zM95 32h3v1h-3zM80 33h6v1h-6zM89 33h7v1h-7zM86 34h3v1h-3z"/>
<path fill="#0b0000" d="M0 0h316v1h-316zM0 1h316v1h-316zM0 2h316v1h-316zM0 3h316v1h-316zM0 4h316v1h-316zM0 5h316v1h-316zM0 6h120v1h-120zM133 6h183v1h-183zM0 7h99v1h-99zM138 7h178v1h-178zM0 8h98v1h-98zM142 8h174v1h-174zM0 9h98v1h-98zM143 9h173v1h-173zM0 10h97v1h-97zM146 10h170v1h-170zM0 11h97v1h-97zM150 11h8v1h-8zM184 11h132v1h-132zM0 12h99v1h-99zM192 12h124v1h-124zM0 13h102v1h-102zM196 13h120v1h-120zM0 14h104v1h-104zM199 14h117v1h-117zM0 15h105v1h-105zM201 15h16v1h-16zM221 15h6v1h-6zM228 15h6v1h-6zM246 15h7v1h-7zM257 15h23v1h-23zM281 15h35v1h-35zM0 16h105v1h-105zM208 16h7v1h-7zM230 16h2v1h-2zM287 16h29v1h-29zM0 17h105v1h-105zM208 17h2v1h-2zM290 17h26v1h-26zM0 18h23v1h-23zM27 18h77v1h-77zM296 18h20v1h-20zM0 19h21v1h-21zM50 19h54v1h-54zM299 19h17v1h-17zM0 20h19v1h-19zM51 20h53v1h-53zM302 20h14v1h-14zM0 21h18v1h-18zM51 21h53v1h-53zM305 21h11v1h-11zM0 22h10v1h-10zM12 22h4v1h-4zM53 22h51v1h-51zM310 22h6v1h-6zM55 23h49v1h-49zM56 24h48v1h-48zM57 25h46v1h-46zM60 26h43v1h-43zM63 27h39v1h-39zM65 28h36v1h-36zM68 29h32v1h-32zM70 30h29v1h-29zM73 31h24v1h-24zM82 32h13v1h-13zM86 33h3v1h-3z"/>
</g></g>
<path d="M81.50 30.5V187.3M133.50 30.5V187.3M185.50 30.5V187.3M238.50 30.5V187.3M290.50 30.5V187.3M28.7 56.50H343.1M28.7 82.50H343.1M28.7 108.50H343.1M28.7 135.50H343.1M28.7 161.50H343.1" stroke="#000" stroke-width="0.8" fill="none"/>
<path d="M39.2 51.8L40.9 49.4L44.4 47.7L49.2 46.8L54.9 47.5L62.8 48.3L68.0 48.8L74.1 47.9L76.7 48.4L81.1 48.4L85.5 49.7L89.8 49.8L94.2 49.7L98.6 49.7L102.1 49.7L102.9 46.6L105.6 47.9L107.3 49.2L109.9 49.7L111.7 48.4L114.3 48.4L115.2 50.1L112.5 51.4L109.9 51.8L107.3 53.1L104.7 54.9L103.4 56.6L103.4 57.8L105.1 59.2L109.0 59.7L111.7 60.7L113.9 61.0L114.3 62.7L115.2 64.0L116.5 64.2L116.9 62.7L117.3 61.0L118.7 59.7L119.1 58.4L117.8 57.5L118.2 55.8L117.8 54.5L121.3 54.6L124.8 55.8L125.2 57.5L126.5 57.9L128.7 56.4L130.0 57.5L131.8 58.8L133.5 60.6L135.7 61.9L137.3 63.2L136.1 64.0L134.4 64.9L131.8 65.2L128.3 65.2L125.6 66.7L123.9 68.0L126.1 66.6L128.3 66.0L129.6 66.2L129.1 67.5L129.6 68.7L132.2 69.1L133.5 68.4L132.6 69.5L130.4 70.1L128.3 71.0L128.3 70.1L129.6 69.3L127.4 69.7L125.6 70.6L124.3 71.4L124.8 72.6L123.5 72.8L121.3 73.5L120.8 74.7L120.0 75.4L119.5 76.7L119.7 77.5L120.0 78.2L118.7 78.8L117.8 79.4L116.5 80.2L115.2 81.0L114.9 82.3L115.6 84.1L116.0 85.6L115.8 86.9L115.0 86.9L114.5 86.0L113.7 84.7L113.7 83.6L112.5 82.8L111.2 83.0L109.9 82.4L108.2 82.5L107.9 83.5L106.4 83.4L104.2 82.9L102.9 83.4L101.2 84.5L100.9 86.3L100.5 88.0L100.5 89.5L101.2 91.0L102.1 92.3L103.4 93.0L105.6 92.7L106.7 91.9L106.9 90.6L109.0 90.2L109.9 90.3L109.5 91.9L109.0 93.2L108.6 95.0L109.9 95.1L112.5 95.1L113.2 95.8L113.0 97.6L112.8 99.3L113.4 100.2L114.3 101.1L116.0 100.9L116.9 100.6L118.2 101.3L118.7 101.5L120.0 99.8L120.8 99.3L123.0 98.4L123.6 98.1L123.5 99.3L124.8 98.9L126.1 99.8L128.3 99.7L130.0 99.9L131.8 99.6L132.6 100.6L133.1 101.5L134.4 101.9L135.7 103.4L137.9 103.7L140.1 104.4L140.9 105.2L141.8 107.2L142.2 108.5L143.5 109.3L144.4 109.5L146.6 110.2L147.2 111.2L149.2 111.3L151.0 111.4L152.3 112.2L153.4 113.1L155.1 113.5L155.4 115.0L155.3 116.7L153.6 118.5L152.7 120.1L151.8 121.1L151.8 123.7L151.1 125.9L150.1 127.6L149.2 128.9L147.0 129.1L145.5 129.8L144.0 130.9L143.5 132.4L143.3 133.7L142.1 135.3L140.5 136.9L139.2 138.5L138.0 139.3L136.6 139.2L135.0 138.5L135.9 140.3L136.1 142.0L134.4 142.7L131.8 142.9L131.5 144.4L129.1 144.6L130.0 145.9L129.0 146.8L128.7 148.1L127.0 149.0L128.3 150.3L127.0 152.0L125.6 152.9L126.1 154.5L126.5 155.1L128.7 156.6L126.5 157.2L123.9 155.9L121.7 155.1L120.8 153.3L120.0 151.1L120.8 149.4L121.7 147.2L121.3 145.5L121.5 143.7L121.7 142.0L122.1 141.0L123.0 139.0L123.5 136.8L123.5 135.0L123.9 132.4L124.3 130.7L124.6 128.1L124.5 125.0L123.5 124.0L121.3 122.8L119.4 121.1L118.5 119.4L117.3 117.6L116.5 115.9L115.2 114.1L114.9 112.8L116.0 111.8L115.3 110.6L115.6 109.8L116.0 108.5L116.9 107.6L117.3 106.7L118.4 105.4L118.2 103.7L118.2 102.6L117.5 101.9L116.5 101.1L115.8 101.7L115.6 102.5L114.7 102.2L113.6 101.7L112.8 101.3L111.7 100.2L111.0 99.5L109.9 98.0L109.3 97.4L107.7 97.1L106.0 96.7L104.2 95.4L102.9 94.8L101.2 95.0L99.0 94.4L96.8 93.2L95.1 92.3L93.8 91.2L93.9 90.0L92.9 88.4L91.6 87.1L90.3 85.8L89.4 84.7L88.1 83.6L87.2 81.9L85.7 81.3L85.9 82.8L87.2 84.5L88.5 86.3L89.4 87.6L90.3 88.7L89.6 88.4L88.1 87.3L87.8 86.1L86.3 85.2L85.9 84.5L85.5 83.2L84.6 82.1L83.6 80.6L82.4 79.3L80.7 78.8L80.2 77.8L79.4 76.8L78.9 76.0L78.0 74.9L77.3 73.7L77.6 72.3L77.3 71.0L77.6 68.8L77.1 66.8L78.3 66.0L76.7 65.1L74.6 64.0L73.7 62.7L72.4 61.4L71.1 60.1L69.3 58.4L67.1 57.8L65.4 57.1L63.6 56.8L61.0 56.6L58.4 55.9L56.2 56.4L54.9 57.1L54.0 55.8L52.3 57.1L51.0 57.9L48.8 59.2L46.2 60.6L43.5 61.2L44.4 60.3L47.0 58.8L48.4 57.8L47.0 57.8L44.4 57.5L44.0 56.6L41.8 55.9L41.4 54.9L42.2 54.0L45.3 53.6L45.3 52.7L43.5 52.7L40.5 52.5ZM123.0 41.0L128.3 38.8L133.5 37.5L142.2 37.0L151.0 36.2L159.7 36.2L166.7 37.5L170.2 38.8L170.2 40.1L169.3 41.8L168.4 43.6L166.7 45.3L165.8 47.1L166.7 47.7L163.2 49.1L158.8 49.7L156.2 51.0L153.2 51.7L151.0 52.3L150.1 53.6L148.8 55.3L147.9 56.6L146.2 56.5L144.0 55.8L142.2 54.5L140.9 52.7L139.6 51.4L139.2 49.7L141.4 48.4L138.3 47.9L138.3 46.6L137.0 45.3L135.2 43.4L131.8 42.5L126.5 42.7L123.9 41.7ZM207.7 47.1L210.4 47.2L213.0 47.9L214.7 48.4L218.2 49.0L221.7 50.1L221.7 51.1L219.1 51.4L215.6 50.9L214.7 51.8L216.5 52.9L218.7 53.3L220.8 52.6L221.3 51.4L224.3 51.0L224.3 49.7L226.1 49.4L227.8 50.0L233.1 49.2L236.6 49.1L238.7 48.4L242.7 48.8L244.4 49.2L245.3 47.9L244.4 46.2L247.0 45.1L249.2 45.7L249.7 47.9L249.7 50.5L251.4 49.7L251.4 46.2L254.0 45.7L256.2 44.9L256.6 46.2L259.3 47.1L261.9 44.4L264.5 43.1L269.7 42.7L273.2 42.3L277.0 41.2L279.3 41.8L283.7 42.3L285.0 43.1L282.0 44.4L284.6 44.7L290.7 45.3L296.8 44.9L298.6 46.2L299.4 47.2L302.1 46.6L305.5 46.6L308.2 45.6L312.5 45.9L316.9 46.6L319.5 47.1L323.9 47.1L325.6 48.3L330.0 48.4L334.4 47.9L335.2 48.8L339.6 48.1L343.1 48.8L343.1 52.3L341.4 52.7L340.9 54.5L337.9 55.1L334.8 56.6L330.9 56.6L329.6 56.8L328.5 58.4L327.8 59.9L327.2 61.0L325.6 62.6L324.3 63.6L322.8 64.5L321.9 62.7L321.9 60.1L323.0 58.5L325.2 57.1L326.9 56.2L328.7 55.3L326.1 55.2L323.0 55.3L321.3 57.1L318.6 57.5L316.0 57.1L313.0 57.2L310.4 57.5L308.2 58.8L306.0 60.3L304.2 61.3L306.0 61.9L308.2 62.7L309.3 63.4L308.6 65.3L308.2 67.1L306.9 68.4L304.7 70.1L302.5 71.4L300.7 71.4L300.0 72.1L299.2 72.9L298.1 74.1L297.2 74.5L298.1 75.5L298.9 76.7L298.9 78.0L298.1 78.4L296.4 78.9L296.1 78.0L296.5 76.7L295.1 75.8L295.3 74.5L294.5 74.1L293.3 74.3L291.7 75.1L292.3 73.4L290.3 74.5L289.0 74.8L288.7 75.4L289.8 76.4L291.4 76.0L292.9 76.4L291.6 77.1L290.3 78.1L291.0 79.1L291.6 80.6L292.3 81.5L292.4 82.8L292.0 84.1L291.1 85.4L290.3 86.7L289.0 87.6L287.6 88.9L285.9 89.3L284.6 89.7L282.8 90.3L282.0 91.2L281.7 90.2L280.2 90.1L279.1 91.0L278.2 92.3L278.9 93.7L280.2 95.0L281.3 96.7L281.4 98.4L280.2 99.5L279.1 99.9L277.6 101.3L277.4 100.2L275.9 99.3L275.0 98.0L274.0 97.2L273.2 97.3L273.2 98.9L272.6 100.8L273.5 101.7L274.1 103.0L275.4 103.7L276.2 105.0L276.3 106.5L276.9 107.7L276.3 107.8L274.5 106.5L273.6 104.5L273.4 103.2L271.9 101.9L271.7 101.1L272.1 99.3L271.9 97.6L271.2 95.8L271.1 94.5L269.7 94.5L268.3 95.0L268.3 93.2L267.6 91.9L266.2 90.6L265.8 89.3L264.5 89.7L263.2 90.0L261.9 90.3L261.4 91.5L260.1 91.9L257.9 94.1L256.0 95.4L255.9 97.1L255.6 98.9L255.3 99.9L254.2 101.1L253.6 101.8L252.5 100.6L251.8 98.7L251.1 97.1L250.5 95.4L249.7 93.2L249.5 91.9L249.4 90.6L248.8 90.6L247.5 90.8L246.2 89.6L247.3 88.9L245.7 88.6L244.7 87.6L244.0 86.9L241.8 86.9L239.6 87.0L237.4 86.8L235.9 86.4L235.4 85.4L233.5 85.7L231.8 84.9L230.4 83.8L229.6 82.7L228.5 82.5L227.8 83.2L228.4 84.5L229.6 85.6L230.0 86.7L230.7 86.2L230.9 87.5L232.2 87.9L233.5 87.8L235.2 86.0L235.2 87.6L237.0 88.3L238.1 89.3L237.0 91.0L236.3 92.3L235.2 93.2L233.9 94.1L231.5 95.0L228.7 96.3L226.1 97.2L223.9 97.8L223.3 96.3L223.0 94.5L221.7 92.8L220.1 90.3L219.1 88.2L218.2 86.7L216.9 84.9L216.5 84.2L216.4 83.2L215.9 84.7L214.9 83.8L214.4 82.9L214.1 81.7L215.8 81.6L216.5 80.3L217.2 78.8L217.3 77.5L217.3 76.8L216.0 76.9L214.3 77.5L212.6 76.8L211.2 77.1L209.7 76.7L209.0 75.4L208.8 74.5L208.8 73.9L208.6 73.4L206.9 73.4L206.4 73.9L205.7 73.7L206.0 74.7L206.9 75.6L206.4 76.0L206.2 77.1L205.4 77.1L204.5 76.2L204.2 75.1L203.4 74.3L202.8 72.7L202.5 72.1L201.2 71.4L199.9 70.9L199.0 69.9L198.3 69.5L197.9 69.2L196.6 69.4L196.7 70.3L197.8 71.0L198.3 72.0L199.9 72.4L199.9 72.8L201.6 73.5L202.1 74.0L200.7 73.6L200.4 74.3L200.8 74.9L200.3 75.5L199.6 75.8L199.9 74.9L199.3 73.9L198.4 73.4L196.8 72.7L195.5 71.9L194.9 71.0L193.8 70.3L192.5 70.7L191.1 71.4L189.4 71.0L188.5 71.9L188.7 72.5L186.8 73.2L185.6 74.5L185.9 75.2L185.3 76.1L184.2 76.8L182.0 77.0L181.1 77.5L180.4 76.8L179.4 76.5L178.1 76.7L178.2 75.4L177.6 75.1L178.2 73.2L177.9 71.4L178.9 70.8L181.5 71.0L184.2 71.1L184.8 70.1L184.9 68.8L183.9 67.8L182.0 67.2L181.8 66.7L183.7 66.5L184.6 66.5L184.3 65.6L184.9 65.9L186.1 65.7L187.3 64.9L188.1 64.4L189.1 64.0L189.8 63.2L190.3 62.6L192.0 62.3L193.3 62.0L193.5 61.0L193.1 59.4L194.2 59.1L195.1 58.6L194.9 59.7L194.6 60.7L194.5 61.2L195.5 61.7L196.8 61.5L198.3 61.9L200.3 61.4L202.1 61.3L203.2 61.5L204.2 60.6L204.2 59.2L205.6 58.6L207.0 59.1L207.1 58.1L206.4 57.3L208.6 57.1L210.4 57.0L212.1 56.6L210.8 56.2L208.6 56.3L206.0 56.6L204.7 56.0L204.7 54.5L205.1 53.6L207.3 52.5L208.0 51.8L206.7 51.6L205.1 51.8L204.4 52.7L202.5 53.8L201.2 54.9L200.9 55.9L202.1 56.6L201.6 57.5L200.5 58.4L200.3 59.4L199.7 60.0L198.4 60.6L197.3 60.6L197.0 59.9L196.2 58.8L195.5 57.5L195.1 57.1L194.2 57.6L192.9 58.3L191.6 58.2L190.7 57.5L190.3 56.2L190.3 54.9L192.0 54.0L193.8 53.5L195.5 52.5L196.8 51.4L198.1 50.3L199.4 49.2L201.2 48.4L203.4 47.9L206.0 47.3ZM28.7 48.8L31.3 49.4L34.8 50.5L37.4 51.2L35.7 52.7L33.1 52.5L30.4 51.8L28.7 52.1ZM214.3 82.8L215.4 84.9L216.9 88.0L218.2 90.2L218.5 92.3L219.5 93.2L220.4 95.4L221.9 96.3L223.6 98.0L223.7 98.9L224.8 99.8L226.9 99.1L228.7 99.1L230.6 98.6L230.4 99.8L229.6 101.9L228.3 104.1L226.5 106.3L224.3 108.0L222.6 109.8L221.3 111.3L220.4 112.8L219.8 114.6L220.4 116.3L220.8 118.0L221.4 120.2L221.3 122.4L219.5 124.0L217.8 125.3L216.5 126.3L216.8 128.1L216.9 129.8L214.7 131.1L214.5 132.4L214.1 134.0L213.0 135.0L211.7 136.6L209.9 137.9L208.2 138.5L205.6 138.6L203.4 139.2L202.1 138.7L201.8 137.2L201.2 135.5L200.3 133.8L199.2 132.2L198.6 129.8L198.4 128.1L197.3 126.3L196.2 124.6L196.4 122.4L197.7 119.8L197.9 118.0L197.3 116.6L196.6 114.1L196.2 112.8L194.6 111.3L193.8 109.8L194.2 108.2L194.4 106.7L194.2 105.5L193.3 105.0L192.0 105.1L191.0 105.1L189.8 103.4L188.1 103.4L186.8 103.8L184.2 104.7L182.4 104.4L179.4 105.1L178.0 104.5L176.5 103.3L175.0 102.4L174.3 101.1L173.0 99.5L171.9 98.4L171.2 97.1L170.7 96.1L171.5 95.0L171.7 93.2L171.5 91.9L171.1 90.6L171.9 88.4L173.0 86.7L174.5 84.8L175.9 84.1L177.2 83.2L177.4 81.9L178.5 79.9L180.0 79.3L180.7 77.7L181.3 77.6L183.3 78.1L184.2 78.3L185.9 77.7L187.2 77.1L188.5 76.8L190.3 76.8L192.5 76.7L194.5 76.4L195.5 76.7L194.9 77.5L195.3 78.8L194.8 79.3L195.5 79.9L197.3 80.2L199.2 80.8L199.4 81.5L201.2 82.0L202.7 82.5L203.4 81.9L203.5 80.8L204.7 80.2L206.0 80.5L207.7 81.3L209.9 81.7L211.2 82.0L212.5 81.5L214.1 81.7ZM285.5 127.9L287.6 126.8L289.8 126.3L292.0 125.5L292.7 124.0L293.8 123.7L294.6 122.8L295.9 121.3L297.2 121.1L298.1 121.8L299.0 121.9L299.4 120.2L300.1 119.7L301.6 118.9L301.8 119.4L304.2 119.4L305.4 119.5L304.7 120.7L304.2 122.0L305.5 122.8L307.7 124.1L308.9 124.1L309.5 122.4L309.7 120.2L309.9 118.5L310.4 118.2L311.2 120.1L311.5 121.4L312.8 122.0L313.0 123.3L313.6 125.3L314.7 125.8L316.0 126.8L316.7 128.3L317.6 129.4L319.1 130.7L319.7 131.5L320.0 133.5L319.5 135.5L319.1 137.2L318.0 138.3L317.2 140.3L316.9 141.5L315.2 141.9L313.7 142.9L312.5 142.4L311.2 142.7L309.0 142.2L308.0 141.1L307.6 140.0L306.6 139.8L306.4 138.8L306.2 137.6L305.5 138.5L304.7 139.2L304.2 139.0L303.1 137.6L301.6 136.8L300.3 136.3L298.1 136.6L295.9 137.0L294.2 137.6L293.8 138.4L291.6 138.4L290.3 138.9L289.0 139.4L287.2 139.3L286.3 138.8L286.5 138.1L286.9 136.8L286.3 135.0L285.9 133.7L285.3 132.0L284.8 130.2L285.0 128.5ZM28.7 183.2L41.8 183.4L57.5 183.2L56.6 181.2L51.4 180.4L57.5 179.6L51.4 178.9L48.2 177.8L43.5 178.1L44.4 177.0L48.2 175.8L53.6 175.5L59.0 174.6L66.7 174.6L74.5 173.4L79.1 172.1L83.7 172.8L89.8 172.8L96.1 172.1L100.8 171.3L108.5 171.9L114.7 172.1L120.9 171.2L124.8 171.2L126.5 169.0L128.3 167.3L130.0 165.8L132.6 164.7L135.7 164.0L134.8 165.1L132.6 166.0L131.3 167.3L130.0 169.0L131.8 170.7L132.6 172.9L131.8 174.7L128.3 176.0L133.5 176.8L142.2 177.1L148.3 176.8L154.5 176.8L159.7 175.5L166.7 173.8L172.8 172.5L177.2 171.0L185.9 170.3L194.6 169.9L203.4 169.9L212.1 169.4L219.1 169.4L225.2 168.0L231.3 166.4L235.7 167.1L240.0 167.7L245.3 168.1L247.0 169.9L249.7 169.4L254.0 168.4L260.1 167.1L266.2 166.8L273.2 166.2L280.2 166.8L286.3 166.7L292.4 167.0L299.4 166.6L305.5 166.7L310.8 167.3L316.9 168.6L323.0 169.3L328.3 170.3L332.6 171.2L334.8 172.1L331.7 173.8L329.1 175.5L328.3 176.8L331.7 177.3L330.0 179.0L325.6 180.3L334.4 181.5L343.1 182.5L343.1 187.3L28.7 187.3ZM180.9 65.3L182.8 65.1L184.6 64.7L187.0 64.3L186.5 64.0L187.4 63.0L186.2 62.7L185.7 61.9L184.6 61.0L184.2 60.1L183.5 59.9L184.3 58.8L182.8 58.6L183.3 57.9L181.5 57.9L180.8 58.8L181.1 59.9L181.7 60.6L181.5 61.2L183.1 61.2L183.3 62.3L182.0 62.5L182.2 63.2L181.4 63.8L183.0 64.1L182.1 64.4ZM180.5 63.4L180.7 62.3L181.0 61.4L180.4 60.8L178.7 60.8L178.5 61.5L177.2 61.7L177.3 62.5L177.6 62.9L176.9 63.6L177.5 64.0L178.9 63.8ZM166.2 53.2L168.2 53.6L169.7 53.7L172.8 52.9L174.0 52.3L173.1 51.4L171.8 51.0L170.0 51.3L168.2 51.4L167.1 51.8L166.2 51.1L164.9 51.8L166.7 52.1L165.1 52.5L166.7 52.8ZM195.5 39.6L198.1 39.2L203.4 38.9L209.5 39.0L206.9 39.9L203.4 40.5L204.7 41.1L200.7 42.1L198.1 41.4L196.4 40.3ZM230.9 46.6L233.1 47.3L236.1 47.3L234.4 45.3L236.6 44.0L240.0 42.7L245.7 42.0L243.5 41.8L238.3 42.4L234.8 43.3L233.1 44.9L231.3 45.9ZM268.9 39.9L273.2 39.4L277.6 40.3L273.2 41.0ZM305.5 43.1L309.9 42.7L316.9 43.3L312.5 43.7L308.2 44.0ZM309.9 61.6L310.8 62.7L311.0 64.5L311.7 66.0L310.8 68.0L309.9 68.8L309.9 67.1L309.9 65.3L309.7 63.6ZM308.2 72.7L309.5 71.9L310.8 72.3L313.0 71.2L312.1 70.6L309.9 69.3L309.5 70.6L308.4 71.4ZM309.0 72.9L309.9 74.5L309.0 75.8L308.9 77.5L308.2 78.4L306.9 78.7L305.5 78.8L304.9 79.7L303.8 79.6L303.8 78.8L302.1 79.0L300.3 79.3L300.3 78.8L301.6 78.1L304.2 77.9L305.4 76.4L305.8 76.8L306.9 76.3L307.7 75.4L308.2 74.1L308.4 73.2ZM299.4 79.7L300.7 79.6L301.0 80.6L300.3 81.6L299.7 81.6L299.6 80.6L299.2 80.0ZM301.6 79.5L303.4 79.1L303.1 79.8L302.1 80.3L301.5 80.0ZM291.6 86.9L292.4 87.1L292.0 88.4L291.4 89.7L290.9 88.9L291.1 87.6ZM280.8 92.1L282.2 91.4L282.8 91.8L282.0 93.0L280.8 92.8ZM291.1 92.8L292.6 92.9L292.4 94.5L292.0 95.8L292.4 96.7L294.2 97.6L293.8 97.7L292.4 97.0L291.4 96.9L291.0 96.0L290.7 94.8ZM292.4 102.8L293.8 101.5L295.5 100.4L296.4 102.4L295.9 103.4L295.4 103.8L294.2 103.0L293.6 102.4ZM294.2 99.3L295.5 98.1L295.5 99.3L295.1 100.2ZM292.4 98.6L293.3 98.9L293.6 100.6L292.9 100.6L292.4 99.8ZM288.3 101.5L290.3 99.3L289.8 100.2L288.8 101.3ZM281.1 107.6L281.5 107.2L282.8 107.5L283.1 106.7L284.6 106.1L285.5 104.9L286.8 104.1L287.9 102.8L288.7 103.4L290.0 104.3L289.0 105.2L288.7 106.3L289.8 108.0L288.5 108.5L288.5 109.6L287.6 110.5L287.2 112.2L286.0 112.4L284.6 111.7L283.5 111.9L282.1 111.3L282.0 110.2L281.1 109.2ZM269.1 104.0L271.1 104.4L272.1 105.6L273.7 107.0L274.5 107.2L276.3 108.5L276.6 109.8L277.6 110.8L278.5 111.7L278.3 114.0L277.2 113.9L275.2 112.4L273.9 110.9L272.8 109.2L272.1 107.4L270.8 106.1L269.3 104.7ZM277.9 114.8L278.6 114.1L280.7 114.6L282.7 114.6L284.3 114.9L285.9 115.7L285.7 116.4L282.8 116.1L280.2 115.7L278.7 115.3ZM286.3 116.2L288.1 116.1L289.8 116.2L291.6 116.3L293.3 116.1L293.1 116.6L290.7 116.7L288.1 116.7L286.5 116.6ZM293.8 117.9L295.1 116.9L297.0 116.2L296.4 116.9L294.6 117.8ZM290.5 108.2L291.4 107.8L293.3 108.1L295.1 107.6L294.5 108.6L292.0 108.5L290.9 108.9L290.9 109.7L291.7 109.8L293.6 109.6L292.2 110.6L293.1 112.4L292.6 113.1L292.0 112.8L291.6 111.3L291.0 111.5L291.0 113.7L290.3 113.7L290.3 111.9L289.7 111.3L290.1 109.9L290.5 108.9ZM300.3 109.6L301.6 109.2L302.9 109.6L303.1 111.1L303.8 111.8L304.7 110.8L306.2 110.2L307.7 110.8L309.0 111.2L311.2 111.9L312.1 112.2L313.1 113.1L313.2 113.7L314.5 114.1L315.0 114.7L314.3 115.0L315.3 116.0L316.5 117.2L317.5 117.9L316.7 118.1L315.0 117.6L313.8 116.7L312.5 115.7L311.2 116.1L310.8 116.9L309.0 116.8L307.7 116.0L306.4 116.2L307.1 115.2L306.7 114.0L304.5 112.8L302.5 112.2L301.9 112.4L301.2 111.4L302.5 111.1L301.4 110.8L300.3 110.0ZM297.7 111.5L300.1 111.8L299.0 112.0ZM297.4 107.2L297.9 108.2L298.2 109.6L297.5 108.6ZM315.6 113.9L317.3 113.7L318.6 112.6L318.8 113.3L317.3 114.3ZM329.1 126.5L331.3 128.1L331.7 128.4L330.0 127.4ZM312.3 144.4L313.8 144.7L315.4 144.5L315.3 145.9L314.3 146.8L313.0 146.2L312.7 145.5ZM336.7 139.0L338.3 140.5L339.2 141.1L340.0 141.8L341.6 141.7L340.9 143.0L340.3 144.0L339.0 145.1L338.6 144.9L338.7 143.7L337.7 143.1L338.5 142.3L338.3 141.1L337.2 139.6ZM336.7 144.3L338.0 145.2L337.0 146.5L335.5 147.5L335.1 148.8L333.5 149.5L332.2 149.1L331.3 148.7L332.9 147.2L334.8 146.2L336.1 144.6ZM229.0 119.4L229.8 122.2L229.1 124.1L228.3 126.8L227.1 130.5L225.4 131.1L224.1 129.4L223.7 127.9L224.6 126.3L224.3 124.1L225.2 122.8L226.9 122.0L228.1 120.7ZM255.8 100.4L256.8 101.5L257.3 102.8L256.6 103.6L255.8 103.7L255.5 101.9ZM111.7 89.8L113.4 88.9L115.6 88.8L118.2 90.0L120.0 90.8L121.1 91.3L118.2 91.6L118.2 91.0L116.9 90.1L114.7 89.6L113.0 89.6ZM120.9 92.9L122.1 91.6L124.8 91.7L126.2 92.7L124.3 93.0L123.3 93.5L122.6 93.0ZM117.5 93.0L119.3 93.1L118.5 93.4ZM127.2 92.9L128.5 93.0L127.8 93.3ZM134.1 67.3L135.7 64.6L137.4 64.0L137.0 65.3L139.2 66.0L139.8 67.5L139.2 68.2L137.4 68.0L137.0 67.3ZM132.2 51.0L129.1 49.7L126.5 47.9L123.9 46.8L118.7 45.3L115.2 44.7L111.2 44.9L108.2 45.3L107.3 46.2L109.0 47.5L111.7 47.9L114.3 47.9L116.9 48.4L119.5 49.2L122.1 49.7L121.7 51.0L121.3 52.3L118.2 52.7L121.3 52.7L123.9 53.6L126.5 54.5L129.1 55.1L129.1 54.0L126.5 53.6L128.3 52.7L130.0 53.6L131.8 52.3ZM94.2 48.8L97.3 47.9L95.1 47.1L94.2 45.7L91.6 45.1L88.1 45.5L83.7 45.3L82.4 46.6L83.7 47.9L87.2 48.8L90.7 49.1ZM76.7 46.2L78.5 44.4L83.3 44.3L84.6 45.3L81.1 46.6L78.0 46.8ZM107.3 42.3L110.8 41.0L109.9 39.6L106.4 37.9L116.0 36.6L126.5 36.6L131.8 37.2L126.5 38.5L123.0 39.6L119.5 40.5L116.9 41.8L114.3 42.4ZM106.4 43.8L116.0 43.9L115.6 42.9L109.0 42.3L105.6 42.7ZM102.9 46.2L106.9 45.3L106.4 44.4L102.9 44.4ZM98.6 46.6L101.2 45.7L100.3 44.6L97.3 45.3ZM83.7 43.6L89.8 42.7L93.3 43.1L91.6 43.7L86.3 44.0ZM102.1 40.1L106.4 39.2L109.0 40.1L105.6 40.8ZM109.9 53.1L112.1 51.4L115.2 52.7L113.4 54.0L111.2 53.6ZM73.7 64.6L76.3 65.2L78.0 66.7L76.7 66.5ZM69.7 61.9L71.1 62.3L71.5 63.4L70.2 62.7ZM51.0 58.8L52.9 58.4L52.7 59.1L51.4 59.4ZM193.9 72.9L194.4 71.5L194.2 72.7ZM193.1 74.8L193.1 73.3L194.4 73.4L194.3 74.8ZM196.8 75.8L199.4 75.6L199.2 76.8L196.9 76.1ZM206.5 78.1L208.8 78.1L207.3 78.4ZM214.1 78.4L216.0 77.9L215.4 78.7ZM49.4 91.7L50.8 92.0M47.4 90.1L48.8 90.4M45.9 89.6L47.3 89.9M34.7 120.7L36.1 121.0M54.7 124.1L56.1 124.4M105.7 109.2L107.1 109.6M245.9 151.8L247.3 152.1M133.7 153.8L135.1 154.1M152.9 156.1L154.3 156.5M340.7 124.2L342.1 124.6M342.0 123.1L343.4 123.4M233.7 127.1L235.1 127.5M235.4 126.3L236.8 126.7M39.8 61.9L41.2 62.3M38.0 62.4L39.4 62.7M35.9 63.0L37.3 63.3M33.2 63.3L34.6 63.6M30.6 63.6L32.0 64.0M340.7 63.7L342.1 64.0M338.0 63.2L339.4 63.5M336.3 62.7L337.7 63.1M312.7 70.0L314.1 70.3M314.5 69.3L315.9 69.6M316.6 68.4L318.0 68.7M318.4 67.5L319.8 67.9M320.1 66.0L321.5 66.4M324.9 117.0L326.3 117.3M323.2 115.7L324.6 116.0M321.4 114.8L322.8 115.2M331.0 122.2L332.4 122.6M332.2 124.1L333.6 124.5M131.9 96.1L133.3 96.4M131.5 94.6L132.9 95.0M131.8 99.6L133.2 99.9M162.9 75.8L164.3 76.1M170.8 84.1L172.2 84.4M171.7 84.3L173.1 84.7M164.2 95.7L165.6 96.0M249.0 105.2L250.4 105.6M266.2 98.3L267.6 98.6M311.7 97.1L313.1 97.4M233.2 38.6L234.6 38.9M237.6 38.3L239.0 38.7M28.9 46.7L30.3 47.1M330.2 60.8L331.6 61.2M128.7 80.6L130.1 80.9M226.9 69.7L228.7 68.4L230.9 68.0L232.2 68.4L232.2 69.7L230.4 70.1L230.0 71.9L231.8 72.3L232.9 73.6L232.2 74.9L233.1 76.4L231.3 76.9L229.6 76.4L228.7 75.4L229.1 73.6L227.8 72.3L226.9 71.0ZM210.4 72.4L211.2 73.0L213.4 73.0L215.2 72.3L216.5 72.3L217.8 72.9L219.5 73.2L222.1 72.7L222.2 71.9L220.8 71.0L219.5 70.2L218.2 69.9L217.8 69.5L216.7 69.7L215.2 70.2L214.3 69.4L215.2 68.7L213.4 68.3L212.1 69.0L211.8 69.7L211.0 70.6L210.4 71.6ZM216.6 69.2L217.8 69.4L218.7 69.1L219.3 68.7L220.1 67.8L218.7 68.0L216.9 68.4ZM105.6 68.1L107.7 67.1L109.0 66.4L111.2 67.3L111.9 68.2L109.9 68.4L107.3 68.2ZM109.2 72.3L109.0 70.1L110.4 69.0L111.7 69.0L110.5 70.6L110.4 72.3ZM112.1 68.8L114.7 68.8L116.0 69.7L115.6 70.1L114.5 69.9L114.5 71.3L113.9 71.4L113.0 70.1ZM113.2 72.5L115.2 72.7L116.9 71.7L115.6 71.7L113.9 72.1ZM116.3 71.2L119.1 71.0L119.3 70.4L116.9 70.7ZM78.5 51.2L81.1 50.5L82.8 51.4L81.1 52.3L78.9 52.0ZM83.7 55.8L86.3 54.5L89.8 54.2L88.1 55.3L85.5 55.9ZM99.9 64.9L101.2 64.0L100.3 62.0L99.4 62.7L100.3 63.6ZM213.8 109.3L215.6 108.7L215.8 110.2L214.7 111.3L213.7 110.8ZM237.0 70.6L237.9 68.6L239.6 68.8L239.2 70.1L237.9 70.8ZM211.5 111.9L211.8 113.3L212.5 114.8L213.0 116.5M215.6 117.3L216.1 118.9L216.3 120.2L216.6 121.4M276.7 64.0L278.5 63.2L280.7 61.9L281.8 60.4M250.1 68.8L251.8 68.2L253.1 68.4L254.9 68.6M197.7 97.6L198.6 97.1L198.4 97.8L197.7 97.6M217.3 106.5L217.5 105.0" fill="none" stroke="#000" stroke-width="0.9" stroke-linejoin="round"/>
<path d="M74.1 72.3H85.5V82.8H74.1ZM159.7 69.7H238.3V82.8H159.7ZM120.4 135.0H129.1V143.7H120.4ZM194.6 135.0H203.4V143.7H194.6ZM281.5 136.3H316.9V145.5H281.5Z" stroke="#000" stroke-width="1.3" fill="none"/>
<path d="M28.70 187.3v5.3M81.10 187.3v5.3M133.50 187.3v5.3M185.90 187.3v5.3M238.30 187.3v5.3M290.70 187.3v5.3M343.10 187.3v5.3M28.7 30.50h-5.3M28.7 56.63h-5.3M28.7 82.77h-5.3M28.7 108.90h-5.3M28.7 135.03h-5.3M28.7 161.17h-5.3M28.7 187.30h-5.3" stroke="#000" stroke-width="1.1" fill="none"/>
<rect x="28.7" y="30.5" width="314.4" height="156.8" stroke="#000" stroke-width="1.4" fill="none"/>
<text x="28.7" y="207.0" font-size="9.3" text-anchor="middle" fill="#000" stroke="#000" stroke-width="0.22">180</text>
<text x="81.1" y="207.0" font-size="9.3" text-anchor="middle" fill="#000" stroke="#000" stroke-width="0.22">120W</text>
<text x="133.5" y="207.0" font-size="9.3" text-anchor="middle" fill="#000" stroke="#000" stroke-width="0.22">60W</text>
<text x="185.9" y="207.0" font-size="9.3" text-anchor="middle" fill="#000" stroke="#000" stroke-width="0.22">0</text>
<text x="238.3" y="207.0" font-size="9.3" text-anchor="middle" fill="#000" stroke="#000" stroke-width="0.22">60E</text>
<text x="290.7" y="207.0" font-size="9.3" text-anchor="middle" fill="#000" stroke="#000" stroke-width="0.22">120E</text>
<text x="343.1" y="207.0" font-size="9.3" text-anchor="middle" fill="#000" stroke="#000" stroke-width="0.22">180</text>
<text x="17.0" y="33.8" font-size="9.3" text-anchor="end" fill="#000" stroke="#000" stroke-width="0.22">90N</text>
<text x="17.0" y="59.9" font-size="9.3" text-anchor="end" fill="#000" stroke="#000" stroke-width="0.22">60N</text>
<text x="17.0" y="86.1" font-size="9.3" text-anchor="end" fill="#000" stroke="#000" stroke-width="0.22">30N</text>
<text x="17.0" y="112.2" font-size="9.3" text-anchor="end" fill="#000" stroke="#000" stroke-width="0.22">0</text>
<text x="17.0" y="138.3" font-size="9.3" text-anchor="end" fill="#000" stroke="#000" stroke-width="0.22">30S</text>
<text x="17.0" y="164.5" font-size="9.3" text-anchor="end" fill="#000" stroke="#000" stroke-width="0.22">60S</text>
<text x="17.0" y="190.6" font-size="9.3" text-anchor="end" fill="#000" stroke="#000" stroke-width="0.22">90S</text>
<clipPath id="cpb"><rect x="363.8" y="30.5" width="314.50" height="156.80"/></clipPath>
<g clip-path="url(#cpb)"><g transform="translate(363,30)" shape-rendering="crispEdges">
<path fill="#ffffc4" d="M74 97h11v1h-11zM72 98h15v1h-15zM71 99h16v1h-16zM71 100h17v1h-17zM71 101h17v1h-17zM70 102h17v1h-17zM69 103h17v1h-17zM68 104h16v1h-16zM66 105h17v1h-17zM64 106h18v1h-18zM63 107h19v1h-19zM63 108h19v1h-19zM63 109h19v1h-19zM65 110h16v1h-16z"/>
<path fill="#ffff89" d="M119 57h16v1h-16zM116 58h20v1h-20zM115 59h21v1h-21zM115 60h21v1h-21zM115 61h20v1h-20zM115 62h18v1h-18zM115 63h16v1h-16zM116 64h13v1h-13zM119 65h8v1h-8zM73 94h12v1h-12zM69 95h21v1h-21zM67 96h25v1h-25zM65 97h9v1h-9zM85 97h8v1h-8zM64 98h8v1h-8zM87 98h6v1h-6zM63 99h8v1h-8zM87 99h6v1h-6zM62 100h9v1h-9zM88 100h6v1h-6zM62 101h9v1h-9zM88 101h6v1h-6zM61 102h9v1h-9zM87 102h6v1h-6zM60 103h9v1h-9zM86 103h7v1h-7zM58 104h10v1h-10zM84 104h8v1h-8zM57 105h9v1h-9zM83 105h9v1h-9zM57 106h7v1h-7zM82 106h9v1h-9zM57 107h6v1h-6zM82 107h9v1h-9zM57 108h6v1h-6zM82 108h9v1h-9zM57 109h6v1h-6zM82 109h10v1h-10zM57 110h8v1h-8zM81 110h11v1h-11zM58 111h33v1h-33zM62 112h25v1h-25z"/>
<path fill="#ffff4e" d="M138 44h33v1h-33zM30 45h2v1h-2zM136 45h42v1h-42zM30 46h2v1h-2zM135 46h48v1h-48zM134 47h51v1h-51zM133 48h55v1h-55zM133 49h57v1h-57zM291 49h21v1h-21zM132 50h58v1h-58zM287 50h26v1h-26zM131 51h58v1h-58zM284 51h30v1h-30zM128 52h37v1h-37zM283 52h31v1h-31zM123 53h36v1h-36zM281 53h32v1h-32zM76 54h81v1h-81zM280 54h33v1h-33zM74 55h82v1h-82zM278 55h34v1h-34zM73 56h80v1h-80zM278 56h33v1h-33zM73 57h46v1h-46zM135 57h10v1h-10zM74 58h42v1h-42zM136 58h7v1h-7zM75 59h40v1h-40zM136 59h6v1h-6zM103 60h12v1h-12zM136 60h5v1h-5zM106 61h9v1h-9zM135 61h5v1h-5zM107 62h8v1h-8zM133 62h7v1h-7zM107 63h8v1h-8zM131 63h8v1h-8zM108 64h8v1h-8zM129 64h9v1h-9zM108 65h11v1h-11zM127 65h10v1h-10zM108 66h27v1h-27zM109 67h25v1h-25zM111 68h21v1h-21zM115 69h15v1h-15zM66 93h24v1h-24zM64 94h9v1h-9zM85 94h8v1h-8zM62 95h7v1h-7zM90 95h5v1h-5zM60 96h7v1h-7zM92 96h3v1h-3zM137 96h15v1h-15zM58 97h7v1h-7zM93 97h3v1h-3zM134 97h22v1h-22zM49 98h15v1h-15zM93 98h3v1h-3zM133 98h24v1h-24zM48 99h15v1h-15zM93 99h4v1h-4zM132 99h26v1h-26zM47 100h15v1h-15zM94 100h3v1h-3zM132 100h26v1h-26zM47 101h15v1h-15zM94 101h3v1h-3zM132 101h26v1h-26zM48 102h13v1h-13zM93 102h4v1h-4zM131 102h26v1h-26zM49 103h11v1h-11zM93 103h4v1h-4zM130 103h27v1h-27zM51 104h7v1h-7zM92 104h4v1h-4zM129 104h26v1h-26zM52 105h5v1h-5zM92 105h4v1h-4zM126 105h27v1h-27zM231 105h20v1h-20zM295 105h14v1h-14zM53 106h4v1h-4zM91 106h5v1h-5zM124 106h27v1h-27zM229 106h24v1h-24zM293 106h18v1h-18zM53 107h4v1h-4zM91 107h5v1h-5zM123 107h27v1h-27zM228 107h25v1h-25zM292 107h19v1h-19zM53 108h4v1h-4zM91 108h5v1h-5zM121 108h28v1h-28zM226 108h28v1h-28zM293 108h17v1h-17zM53 109h4v1h-4zM92 109h4v1h-4zM119 109h30v1h-30zM224 109h30v1h-30zM54 110h3v1h-3zM92 110h4v1h-4zM116 110h32v1h-32zM216 110h37v1h-37zM54 111h4v1h-4zM91 111h4v1h-4zM115 111h32v1h-32zM222 111h29v1h-29zM55 112h7v1h-7zM87 112h7v1h-7zM116 112h8v1h-8zM57 113h35v1h-35zM6 145h8v1h-8zM5 146h10v1h-10zM6 147h9v1h-9z"/>
<path fill="#ffff13" d="M27 40h7v1h-7zM23 41h13v1h-13zM136 41h27v1h-27zM21 42h17v1h-17zM134 42h43v1h-43zM20 43h19v1h-19zM132 43h52v1h-52zM20 44h20v1h-20zM131 44h7v1h-7zM171 44h19v1h-19zM300 44h11v1h-11zM19 45h11v1h-11zM32 45h9v1h-9zM131 45h5v1h-5zM178 45h18v1h-18zM294 45h20v1h-20zM0 46h1v1h-1zM18 46h12v1h-12zM32 46h10v1h-10zM129 46h6v1h-6zM183 46h15v1h-15zM291 46h25v1h-25zM0 47h3v1h-3zM17 47h26v1h-26zM128 47h6v1h-6zM185 47h14v1h-14zM289 47h27v1h-27zM0 48h6v1h-6zM14 48h30v1h-30zM126 48h7v1h-7zM188 48h12v1h-12zM286 48h30v1h-30zM0 49h44v1h-44zM124 49h9v1h-9zM190 49h10v1h-10zM283 49h8v1h-8zM312 49h4v1h-4zM0 50h41v1h-41zM121 50h11v1h-11zM190 50h10v1h-10zM281 50h6v1h-6zM313 50h3v1h-3zM0 51h35v1h-35zM110 51h21v1h-21zM189 51h10v1h-10zM280 51h4v1h-4zM314 51h2v1h-2zM0 52h31v1h-31zM71 52h57v1h-57zM165 52h32v1h-32zM277 52h6v1h-6zM314 52h2v1h-2zM0 53h5v1h-5zM70 53h53v1h-53zM159 53h36v1h-36zM274 53h7v1h-7zM313 53h3v1h-3zM0 54h4v1h-4zM69 54h7v1h-7zM157 54h35v1h-35zM268 54h12v1h-12zM313 54h3v1h-3zM0 55h3v1h-3zM69 55h5v1h-5zM156 55h9v1h-9zM265 55h13v1h-13zM312 55h4v1h-4zM0 56h3v1h-3zM69 56h4v1h-4zM153 56h8v1h-8zM264 56h14v1h-14zM311 56h5v1h-5zM0 57h2v1h-2zM69 57h4v1h-4zM145 57h14v1h-14zM263 57h53v1h-53zM0 58h2v1h-2zM69 58h5v1h-5zM143 58h14v1h-14zM263 58h53v1h-53zM0 59h1v1h-1zM69 59h6v1h-6zM142 59h13v1h-13zM263 59h53v1h-53zM70 60h33v1h-33zM141 60h13v1h-13zM263 60h53v1h-53zM71 61h35v1h-35zM140 61h10v1h-10zM263 61h53v1h-53zM73 62h34v1h-34zM140 62h5v1h-5zM233 62h10v1h-10zM263 62h20v1h-20zM304 62h12v1h-12zM101 63h6v1h-6zM139 63h5v1h-5zM232 63h13v1h-13zM262 63h19v1h-19zM305 63h10v1h-10zM103 64h5v1h-5zM138 64h5v1h-5zM231 64h16v1h-16zM261 64h20v1h-20zM306 64h8v1h-8zM103 65h5v1h-5zM137 65h5v1h-5zM231 65h18v1h-18zM259 65h22v1h-22zM306 65h8v1h-8zM104 66h4v1h-4zM135 66h7v1h-7zM231 66h50v1h-50zM306 66h8v1h-8zM104 67h5v1h-5zM134 67h8v1h-8zM230 67h51v1h-51zM306 67h7v1h-7zM105 68h6v1h-6zM132 68h10v1h-10zM206 68h3v1h-3zM230 68h52v1h-52zM305 68h8v1h-8zM106 69h9v1h-9zM130 69h13v1h-13zM205 69h7v1h-7zM229 69h54v1h-54zM304 69h9v1h-9zM108 70h37v1h-37zM204 70h11v1h-11zM228 70h85v1h-85zM110 71h37v1h-37zM203 71h19v1h-19zM224 71h89v1h-89zM112 72h37v1h-37zM203 72h109v1h-109zM113 73h37v1h-37zM202 73h109v1h-109zM114 74h39v1h-39zM202 74h81v1h-81zM115 75h66v1h-66zM202 75h78v1h-78zM116 76h66v1h-66zM202 76h74v1h-74zM117 77h66v1h-66zM202 77h69v1h-69zM118 78h66v1h-66zM202 78h66v1h-66zM120 79h32v1h-32zM164 79h20v1h-20zM202 79h12v1h-12zM225 79h41v1h-41zM122 80h28v1h-28zM166 80h18v1h-18zM201 80h11v1h-11zM227 80h38v1h-38zM122 81h27v1h-27zM167 81h16v1h-16zM200 81h11v1h-11zM229 81h36v1h-36zM123 82h25v1h-25zM168 82h14v1h-14zM199 82h12v1h-12zM230 82h36v1h-36zM123 83h25v1h-25zM168 83h11v1h-11zM197 83h14v1h-14zM233 83h34v1h-34zM123 84h25v1h-25zM169 84h8v1h-8zM195 84h16v1h-16zM235 84h33v1h-33zM123 85h25v1h-25zM169 85h7v1h-7zM194 85h17v1h-17zM237 85h32v1h-32zM123 86h25v1h-25zM169 86h7v1h-7zM193 86h20v1h-20zM238 86h32v1h-32zM123 87h25v1h-25zM168 87h8v1h-8zM193 87h22v1h-22zM242 87h29v1h-29zM123 88h25v1h-25zM168 88h8v1h-8zM193 88h24v1h-24zM252 88h21v1h-21zM123 89h26v1h-26zM167 89h9v1h-9zM193 89h26v1h-26zM253 89h24v1h-24zM123 90h27v1h-27zM166 90h10v1h-10zM193 90h27v1h-27zM254 90h25v1h-25zM63 91h24v1h-24zM123 91h29v1h-29zM164 91h12v1h-12zM193 91h30v1h-30zM254 91h28v1h-28zM61 92h33v1h-33zM123 92h53v1h-53zM193 92h40v1h-40zM254 92h56v1h-56zM59 93h7v1h-7zM90 93h6v1h-6zM123 93h53v1h-53zM192 93h44v1h-44zM254 93h59v1h-59zM57 94h7v1h-7zM93 94h4v1h-4zM122 94h54v1h-54zM192 94h45v1h-45zM253 94h61v1h-61zM46 95h16v1h-16zM95 95h3v1h-3zM121 95h54v1h-54zM190 95h49v1h-49zM252 95h63v1h-63zM44 96h16v1h-16zM95 96h3v1h-3zM119 96h18v1h-18zM152 96h23v1h-23zM188 96h88v1h-88zM285 96h31v1h-31zM43 97h15v1h-15zM96 97h3v1h-3zM118 97h16v1h-16zM156 97h19v1h-19zM187 97h87v1h-87zM287 97h29v1h-29zM43 98h6v1h-6zM96 98h3v1h-3zM117 98h16v1h-16zM157 98h17v1h-17zM186 98h87v1h-87zM288 98h28v1h-28zM42 99h6v1h-6zM97 99h3v1h-3zM117 99h15v1h-15zM158 99h15v1h-15zM186 99h86v1h-86zM289 99h27v1h-27zM42 100h5v1h-5zM97 100h3v1h-3zM116 100h16v1h-16zM158 100h13v1h-13zM186 100h86v1h-86zM289 100h27v1h-27zM42 101h5v1h-5zM97 101h3v1h-3zM116 101h16v1h-16zM158 101h12v1h-12zM186 101h86v1h-86zM289 101h27v1h-27zM0 102h1v1h-1zM43 102h5v1h-5zM97 102h3v1h-3zM115 102h16v1h-16zM157 102h12v1h-12zM186 102h27v1h-27zM217 102h55v1h-55zM288 102h28v1h-28zM0 103h2v1h-2zM43 103h6v1h-6zM97 103h3v1h-3zM115 103h15v1h-15zM157 103h12v1h-12zM186 103h27v1h-27zM216 103h57v1h-57zM287 103h29v1h-29zM0 104h2v1h-2zM44 104h7v1h-7zM96 104h4v1h-4zM114 104h15v1h-15zM155 104h15v1h-15zM186 104h89v1h-89zM285 104h31v1h-31zM0 105h2v1h-2zM45 105h7v1h-7zM96 105h4v1h-4zM114 105h12v1h-12zM153 105h18v1h-18zM186 105h45v1h-45zM251 105h44v1h-44zM309 105h7v1h-7zM0 106h3v1h-3zM48 106h5v1h-5zM96 106h4v1h-4zM113 106h11v1h-11zM151 106h21v1h-21zM186 106h43v1h-43zM253 106h40v1h-40zM311 106h5v1h-5zM0 107h3v1h-3zM49 107h4v1h-4zM96 107h4v1h-4zM111 107h12v1h-12zM150 107h23v1h-23zM186 107h42v1h-42zM253 107h39v1h-39zM311 107h5v1h-5zM0 108h2v1h-2zM50 108h3v1h-3zM96 108h4v1h-4zM108 108h13v1h-13zM149 108h25v1h-25zM185 108h41v1h-41zM254 108h39v1h-39zM310 108h6v1h-6zM0 109h2v1h-2zM50 109h3v1h-3zM96 109h4v1h-4zM106 109h13v1h-13zM149 109h26v1h-26zM184 109h40v1h-40zM254 109h62v1h-62zM0 110h2v1h-2zM50 110h4v1h-4zM96 110h4v1h-4zM105 110h11v1h-11zM148 110h29v1h-29zM183 110h33v1h-33zM253 110h63v1h-63zM0 111h1v1h-1zM50 111h4v1h-4zM95 111h4v1h-4zM105 111h10v1h-10zM147 111h75v1h-75zM251 111h65v1h-65zM51 112h4v1h-4zM94 112h4v1h-4zM106 112h10v1h-10zM124 112h192v1h-192zM52 113h5v1h-5zM92 113h5v1h-5zM107 113h67v1h-67zM186 113h130v1h-130zM53 114h42v1h-42zM109 114h40v1h-40zM211 114h43v1h-43zM261 114h55v1h-55zM58 115h34v1h-34zM112 115h14v1h-14zM263 115h51v1h-51zM115 116h7v1h-7zM265 116h48v1h-48zM267 117h44v1h-44zM5 141h10v1h-10zM3 142h16v1h-16zM2 143h19v1h-19zM0 144h38v1h-38zM0 145h6v1h-6zM14 145h36v1h-36zM0 146h5v1h-5zM15 146h36v1h-36zM0 147h6v1h-6zM15 147h35v1h-35zM2 148h38v1h-38zM3 149h34v1h-34zM4 150h30v1h-30zM6 151h15v1h-15z"/>
<path fill="#ffe400" d="M28 36h13v1h-13zM25 37h18v1h-18zM21 38h23v1h-23zM137 38h16v1h-16zM19 39h25v1h-25zM132 39h29v1h-29zM17 40h10v1h-10zM34 40h11v1h-11zM131 40h47v1h-47zM300 40h12v1h-12zM16 41h7v1h-7zM36 41h9v1h-9zM129 41h7v1h-7zM163 41h25v1h-25zM297 41h18v1h-18zM0 42h2v1h-2zM15 42h6v1h-6zM38 42h7v1h-7zM128 42h6v1h-6zM177 42h17v1h-17zM294 42h22v1h-22zM0 43h5v1h-5zM13 43h7v1h-7zM39 43h7v1h-7zM127 43h5v1h-5zM184 43h15v1h-15zM292 43h24v1h-24zM0 44h20v1h-20zM40 44h6v1h-6zM119 44h12v1h-12zM190 44h11v1h-11zM290 44h10v1h-10zM311 44h5v1h-5zM0 45h19v1h-19zM41 45h6v1h-6zM117 45h14v1h-14zM196 45h7v1h-7zM288 45h6v1h-6zM314 45h2v1h-2zM1 46h17v1h-17zM42 46h7v1h-7zM115 46h14v1h-14zM198 46h6v1h-6zM286 46h5v1h-5zM3 47h14v1h-14zM43 47h11v1h-11zM113 47h15v1h-15zM199 47h6v1h-6zM284 47h5v1h-5zM6 48h8v1h-8zM44 48h19v1h-19zM67 48h25v1h-25zM109 48h17v1h-17zM200 48h8v1h-8zM282 48h4v1h-4zM44 49h80v1h-80zM200 49h16v1h-16zM280 49h3v1h-3zM41 50h80v1h-80zM200 50h17v1h-17zM278 50h3v1h-3zM35 51h75v1h-75zM199 51h19v1h-19zM275 51h5v1h-5zM31 52h40v1h-40zM197 52h22v1h-22zM272 52h5v1h-5zM5 53h33v1h-33zM45 53h25v1h-25zM195 53h10v1h-10zM209 53h10v1h-10zM266 53h8v1h-8zM4 54h32v1h-32zM48 54h21v1h-21zM192 54h9v1h-9zM211 54h7v1h-7zM263 54h5v1h-5zM3 55h32v1h-32zM50 55h19v1h-19zM165 55h32v1h-32zM212 55h5v1h-5zM261 55h4v1h-4zM3 56h33v1h-33zM49 56h20v1h-20zM161 56h11v1h-11zM179 56h13v1h-13zM259 56h5v1h-5zM2 57h35v1h-35zM47 57h22v1h-22zM159 57h6v1h-6zM233 57h30v1h-30zM2 58h67v1h-67zM157 58h5v1h-5zM231 58h32v1h-32zM1 59h68v1h-68zM155 59h5v1h-5zM230 59h33v1h-33zM0 60h70v1h-70zM154 60h4v1h-4zM229 60h34v1h-34zM0 61h71v1h-71zM150 61h7v1h-7zM229 61h34v1h-34zM0 62h73v1h-73zM145 62h11v1h-11zM228 62h5v1h-5zM243 62h20v1h-20zM283 62h21v1h-21zM0 63h101v1h-101zM144 63h11v1h-11zM228 63h4v1h-4zM245 63h17v1h-17zM281 63h24v1h-24zM315 63h1v1h-1zM0 64h103v1h-103zM143 64h11v1h-11zM228 64h3v1h-3zM247 64h14v1h-14zM281 64h25v1h-25zM314 64h2v1h-2zM0 65h103v1h-103zM142 65h11v1h-11zM206 65h8v1h-8zM227 65h4v1h-4zM249 65h10v1h-10zM281 65h25v1h-25zM314 65h2v1h-2zM0 66h5v1h-5zM50 66h54v1h-54zM142 66h10v1h-10zM204 66h12v1h-12zM227 66h4v1h-4zM281 66h25v1h-25zM314 66h2v1h-2zM0 67h4v1h-4zM52 67h52v1h-52zM142 67h10v1h-10zM203 67h16v1h-16zM226 67h4v1h-4zM281 67h25v1h-25zM313 67h3v1h-3zM0 68h4v1h-4zM54 68h51v1h-51zM142 68h10v1h-10zM202 68h4v1h-4zM209 68h21v1h-21zM282 68h23v1h-23zM313 68h3v1h-3zM0 69h3v1h-3zM56 69h50v1h-50zM143 69h10v1h-10zM201 69h4v1h-4zM212 69h17v1h-17zM283 69h21v1h-21zM313 69h3v1h-3zM0 70h3v1h-3zM75 70h33v1h-33zM145 70h11v1h-11zM199 70h5v1h-5zM215 70h13v1h-13zM313 70h3v1h-3zM0 71h3v1h-3zM78 71h20v1h-20zM102 71h8v1h-8zM147 71h16v1h-16zM197 71h6v1h-6zM222 71h2v1h-2zM313 71h3v1h-3zM0 72h3v1h-3zM80 72h17v1h-17zM104 72h8v1h-8zM149 72h34v1h-34zM195 72h8v1h-8zM312 72h4v1h-4zM0 73h3v1h-3zM81 73h14v1h-14zM105 73h8v1h-8zM150 73h36v1h-36zM192 73h10v1h-10zM311 73h5v1h-5zM0 74h2v1h-2zM105 74h9v1h-9zM153 74h49v1h-49zM283 74h33v1h-33zM106 75h9v1h-9zM181 75h21v1h-21zM280 75h36v1h-36zM106 76h10v1h-10zM182 76h20v1h-20zM276 76h36v1h-36zM107 77h10v1h-10zM183 77h19v1h-19zM271 77h12v1h-12zM109 78h9v1h-9zM184 78h18v1h-18zM268 78h10v1h-10zM111 79h9v1h-9zM152 79h12v1h-12zM184 79h18v1h-18zM214 79h11v1h-11zM266 79h8v1h-8zM112 80h10v1h-10zM150 80h16v1h-16zM184 80h17v1h-17zM212 80h15v1h-15zM265 80h7v1h-7zM113 81h9v1h-9zM149 81h18v1h-18zM183 81h17v1h-17zM211 81h18v1h-18zM265 81h6v1h-6zM114 82h9v1h-9zM148 82h20v1h-20zM182 82h17v1h-17zM211 82h19v1h-19zM266 82h6v1h-6zM114 83h9v1h-9zM148 83h20v1h-20zM179 83h18v1h-18zM211 83h22v1h-22zM267 83h5v1h-5zM114 84h9v1h-9zM148 84h6v1h-6zM162 84h7v1h-7zM177 84h18v1h-18zM211 84h24v1h-24zM268 84h5v1h-5zM114 85h9v1h-9zM148 85h6v1h-6zM163 85h6v1h-6zM176 85h18v1h-18zM211 85h26v1h-26zM269 85h5v1h-5zM114 86h9v1h-9zM148 86h6v1h-6zM162 86h7v1h-7zM176 86h17v1h-17zM213 86h25v1h-25zM270 86h7v1h-7zM61 87h3v1h-3zM114 87h9v1h-9zM148 87h20v1h-20zM176 87h17v1h-17zM215 87h27v1h-27zM271 87h9v1h-9zM48 88h21v1h-21zM114 88h9v1h-9zM148 88h20v1h-20zM176 88h17v1h-17zM217 88h35v1h-35zM273 88h11v1h-11zM46 89h27v1h-27zM114 89h9v1h-9zM149 89h18v1h-18zM176 89h17v1h-17zM219 89h34v1h-34zM277 89h33v1h-33zM0 90h1v1h-1zM44 90h51v1h-51zM114 90h9v1h-9zM150 90h16v1h-16zM176 90h17v1h-17zM220 90h34v1h-34zM279 90h37v1h-37zM0 91h4v1h-4zM42 91h21v1h-21zM87 91h11v1h-11zM114 91h9v1h-9zM152 91h12v1h-12zM176 91h17v1h-17zM223 91h31v1h-31zM282 91h34v1h-34zM0 92h6v1h-6zM31 92h30v1h-30zM94 92h5v1h-5zM114 92h9v1h-9zM176 92h17v1h-17zM233 92h21v1h-21zM310 92h6v1h-6zM0 93h8v1h-8zM29 93h30v1h-30zM96 93h4v1h-4zM114 93h9v1h-9zM176 93h16v1h-16zM236 93h18v1h-18zM313 93h3v1h-3zM0 94h9v1h-9zM28 94h29v1h-29zM97 94h4v1h-4zM114 94h8v1h-8zM176 94h16v1h-16zM237 94h16v1h-16zM314 94h2v1h-2zM0 95h9v1h-9zM27 95h19v1h-19zM98 95h4v1h-4zM113 95h8v1h-8zM175 95h15v1h-15zM239 95h13v1h-13zM315 95h1v1h-1zM0 96h10v1h-10zM27 96h17v1h-17zM98 96h5v1h-5zM113 96h6v1h-6zM175 96h13v1h-13zM276 96h9v1h-9zM0 97h10v1h-10zM27 97h16v1h-16zM99 97h5v1h-5zM112 97h6v1h-6zM175 97h12v1h-12zM274 97h13v1h-13zM0 98h10v1h-10zM27 98h16v1h-16zM99 98h7v1h-7zM111 98h6v1h-6zM174 98h12v1h-12zM273 98h15v1h-15zM0 99h12v1h-12zM27 99h15v1h-15zM100 99h8v1h-8zM110 99h7v1h-7zM173 99h13v1h-13zM272 99h17v1h-17zM0 100h13v1h-13zM27 100h15v1h-15zM100 100h16v1h-16zM171 100h15v1h-15zM272 100h17v1h-17zM0 101h16v1h-16zM27 101h15v1h-15zM100 101h16v1h-16zM170 101h16v1h-16zM272 101h17v1h-17zM1 102h16v1h-16zM27 102h16v1h-16zM100 102h15v1h-15zM169 102h9v1h-9zM181 102h5v1h-5zM213 102h4v1h-4zM272 102h16v1h-16zM2 103h16v1h-16zM27 103h16v1h-16zM100 103h15v1h-15zM169 103h8v1h-8zM181 103h5v1h-5zM213 103h3v1h-3zM273 103h14v1h-14zM2 104h16v1h-16zM27 104h17v1h-17zM100 104h14v1h-14zM170 104h7v1h-7zM182 104h4v1h-4zM275 104h10v1h-10zM2 105h16v1h-16zM27 105h18v1h-18zM100 105h14v1h-14zM171 105h7v1h-7zM181 105h5v1h-5zM3 106h16v1h-16zM26 106h22v1h-22zM100 106h13v1h-13zM172 106h7v1h-7zM180 106h6v1h-6zM3 107h16v1h-16zM26 107h23v1h-23zM100 107h11v1h-11zM173 107h13v1h-13zM2 108h19v1h-19zM24 108h26v1h-26zM100 108h8v1h-8zM174 108h11v1h-11zM2 109h48v1h-48zM100 109h6v1h-6zM175 109h9v1h-9zM2 110h48v1h-48zM100 110h5v1h-5zM177 110h6v1h-6zM1 111h49v1h-49zM99 111h6v1h-6zM0 112h51v1h-51zM98 112h8v1h-8zM0 113h52v1h-52zM97 113h10v1h-10zM174 113h12v1h-12zM0 114h53v1h-53zM95 114h14v1h-14zM149 114h62v1h-62zM254 114h7v1h-7zM0 115h58v1h-58zM92 115h8v1h-8zM103 115h9v1h-9zM126 115h137v1h-137zM314 115h2v1h-2zM0 116h98v1h-98zM105 116h10v1h-10zM122 116h143v1h-143zM313 116h3v1h-3zM0 117h96v1h-96zM107 117h160v1h-160zM311 117h5v1h-5zM0 118h5v1h-5zM110 118h17v1h-17zM259 118h57v1h-57zM0 119h3v1h-3zM113 119h11v1h-11zM262 119h54v1h-54zM116 120h5v1h-5zM264 120h51v1h-51zM266 121h33v1h-33zM303 138h13v1h-13zM0 139h21v1h-21zM306 139h10v1h-10zM0 140h86v1h-86zM311 140h5v1h-5zM0 141h5v1h-5zM15 141h85v1h-85zM312 141h4v1h-4zM0 142h3v1h-3zM19 142h86v1h-86zM311 142h5v1h-5zM0 143h2v1h-2zM21 143h86v1h-86zM311 143h5v1h-5zM38 144h74v1h-74zM310 144h6v1h-6zM50 145h70v1h-70zM310 145h6v1h-6zM51 146h69v1h-69zM310 146h6v1h-6zM50 147h69v1h-69zM311 147h5v1h-5zM0 148h2v1h-2zM40 148h71v1h-71zM313 148h3v1h-3zM0 149h3v1h-3zM37 149h71v1h-71zM314 149h2v1h-2zM0 150h4v1h-4zM34 150h72v1h-72zM315 150h1v1h-1zM0 151h6v1h-6zM21 151h83v1h-83zM2 152h100v1h-100zM4 153h34v1h-34zM10 154h5v1h-5z"/>
<path fill="#ffbd00" d="M25 32h9v1h-9zM20 33h23v1h-23zM17 34h29v1h-29zM14 35h36v1h-36zM122 35h31v1h-31zM305 35h5v1h-5zM11 36h17v1h-17zM41 36h17v1h-17zM118 36h39v1h-39zM301 36h13v1h-13zM0 37h2v1h-2zM10 37h15v1h-15zM43 37h16v1h-16zM117 37h44v1h-44zM297 37h19v1h-19zM0 38h4v1h-4zM8 38h13v1h-13zM44 38h16v1h-16zM117 38h20v1h-20zM153 38h26v1h-26zM294 38h22v1h-22zM0 39h19v1h-19zM44 39h16v1h-16zM116 39h16v1h-16zM161 39h26v1h-26zM293 39h23v1h-23zM0 40h17v1h-17zM45 40h16v1h-16zM115 40h16v1h-16zM178 40h17v1h-17zM292 40h8v1h-8zM312 40h4v1h-4zM0 41h16v1h-16zM45 41h17v1h-17zM114 41h15v1h-15zM188 41h12v1h-12zM291 41h6v1h-6zM315 41h1v1h-1zM2 42h13v1h-13zM45 42h18v1h-18zM113 42h15v1h-15zM194 42h9v1h-9zM290 42h4v1h-4zM5 43h8v1h-8zM46 43h19v1h-19zM111 43h16v1h-16zM199 43h7v1h-7zM288 43h4v1h-4zM46 44h39v1h-39zM109 44h10v1h-10zM201 44h13v1h-13zM286 44h4v1h-4zM47 45h46v1h-46zM107 45h10v1h-10zM203 45h13v1h-13zM284 45h4v1h-4zM49 46h49v1h-49zM104 46h11v1h-11zM204 46h13v1h-13zM282 46h4v1h-4zM54 47h59v1h-59zM205 47h14v1h-14zM281 47h3v1h-3zM63 48h4v1h-4zM92 48h17v1h-17zM208 48h13v1h-13zM279 48h3v1h-3zM216 49h6v1h-6zM277 49h3v1h-3zM217 50h7v1h-7zM274 50h4v1h-4zM218 51h8v1h-8zM271 51h4v1h-4zM219 52h8v1h-8zM266 52h6v1h-6zM38 53h7v1h-7zM205 53h4v1h-4zM219 53h10v1h-10zM261 53h5v1h-5zM36 54h12v1h-12zM201 54h10v1h-10zM218 54h21v1h-21zM257 54h6v1h-6zM35 55h15v1h-15zM197 55h15v1h-15zM217 55h44v1h-44zM36 56h13v1h-13zM172 56h7v1h-7zM192 56h67v1h-67zM37 57h10v1h-10zM165 57h31v1h-31zM205 57h28v1h-28zM162 58h6v1h-6zM185 58h6v1h-6zM207 58h15v1h-15zM224 58h7v1h-7zM160 59h5v1h-5zM208 59h13v1h-13zM225 59h5v1h-5zM158 60h5v1h-5zM207 60h13v1h-13zM225 60h4v1h-4zM157 61h4v1h-4zM206 61h14v1h-14zM225 61h4v1h-4zM156 62h4v1h-4zM205 62h15v1h-15zM224 62h4v1h-4zM155 63h4v1h-4zM204 63h17v1h-17zM224 63h4v1h-4zM154 64h5v1h-5zM203 64h25v1h-25zM153 65h5v1h-5zM202 65h4v1h-4zM214 65h13v1h-13zM5 66h45v1h-45zM152 66h7v1h-7zM201 66h3v1h-3zM216 66h11v1h-11zM4 67h48v1h-48zM152 67h7v1h-7zM200 67h3v1h-3zM219 67h7v1h-7zM4 68h50v1h-50zM152 68h9v1h-9zM198 68h4v1h-4zM3 69h53v1h-53zM153 69h13v1h-13zM192 69h9v1h-9zM3 70h72v1h-72zM156 70h43v1h-43zM3 71h75v1h-75zM98 71h4v1h-4zM163 71h34v1h-34zM3 72h77v1h-77zM97 72h7v1h-7zM183 72h12v1h-12zM3 73h78v1h-78zM95 73h10v1h-10zM186 73h6v1h-6zM2 74h13v1h-13zM38 74h67v1h-67zM0 75h11v1h-11zM51 75h55v1h-55zM0 76h9v1h-9zM52 76h54v1h-54zM312 76h4v1h-4zM0 77h7v1h-7zM53 77h54v1h-54zM283 77h33v1h-33zM53 78h56v1h-56zM278 78h21v1h-21zM53 79h21v1h-21zM85 79h26v1h-26zM274 79h9v1h-9zM53 80h19v1h-19zM87 80h25v1h-25zM272 80h7v1h-7zM52 81h19v1h-19zM89 81h24v1h-24zM271 81h6v1h-6zM50 82h21v1h-21zM90 82h24v1h-24zM272 82h5v1h-5zM48 83h23v1h-23zM93 83h21v1h-21zM272 83h6v1h-6zM45 84h26v1h-26zM94 84h20v1h-20zM154 84h8v1h-8zM273 84h6v1h-6zM43 85h29v1h-29zM94 85h20v1h-20zM154 85h9v1h-9zM274 85h8v1h-8zM42 86h32v1h-32zM94 86h20v1h-20zM154 86h8v1h-8zM277 86h9v1h-9zM37 87h24v1h-24zM64 87h50v1h-50zM280 87h14v1h-14zM0 88h48v1h-48zM69 88h45v1h-45zM284 88h32v1h-32zM0 89h46v1h-46zM73 89h41v1h-41zM310 89h6v1h-6zM1 90h43v1h-43zM95 90h19v1h-19zM4 91h38v1h-38zM98 91h16v1h-16zM6 92h25v1h-25zM99 92h15v1h-15zM8 93h21v1h-21zM100 93h14v1h-14zM9 94h19v1h-19zM101 94h13v1h-13zM9 95h18v1h-18zM102 95h11v1h-11zM10 96h17v1h-17zM103 96h10v1h-10zM10 97h17v1h-17zM104 97h8v1h-8zM10 98h17v1h-17zM106 98h5v1h-5zM12 99h15v1h-15zM108 99h2v1h-2zM13 100h14v1h-14zM16 101h11v1h-11zM17 102h10v1h-10zM178 102h3v1h-3zM18 103h9v1h-9zM177 103h4v1h-4zM18 104h9v1h-9zM177 104h5v1h-5zM18 105h9v1h-9zM178 105h3v1h-3zM19 106h7v1h-7zM179 106h1v1h-1zM19 107h7v1h-7zM21 108h3v1h-3zM100 115h3v1h-3zM98 116h7v1h-7zM96 117h11v1h-11zM5 118h105v1h-105zM127 118h132v1h-132zM3 119h110v1h-110zM124 119h138v1h-138zM0 120h116v1h-116zM121 120h143v1h-143zM315 120h1v1h-1zM0 121h127v1h-127zM259 121h7v1h-7zM299 121h17v1h-17zM0 122h123v1h-123zM261 122h55v1h-55zM0 123h107v1h-107zM263 123h53v1h-53zM0 124h104v1h-104zM265 124h34v1h-34zM3 125h27v1h-27zM266 125h30v1h-30zM6 126h17v1h-17zM268 126h26v1h-26zM284 131h9v1h-9zM282 132h14v1h-14zM280 133h18v1h-18zM278 134h36v1h-36zM0 135h30v1h-30zM275 135h41v1h-41zM0 136h87v1h-87zM267 136h49v1h-49zM0 137h90v1h-90zM266 137h50v1h-50zM0 138h102v1h-102zM266 138h37v1h-37zM21 139h88v1h-88zM269 139h37v1h-37zM86 140h51v1h-51zM294 140h17v1h-17zM100 141h39v1h-39zM296 141h16v1h-16zM105 142h35v1h-35zM297 142h14v1h-14zM107 143h33v1h-33zM297 143h14v1h-14zM112 144h28v1h-28zM298 144h12v1h-12zM120 145h20v1h-20zM298 145h12v1h-12zM120 146h19v1h-19zM299 146h11v1h-11zM119 147h19v1h-19zM300 147h11v1h-11zM111 148h24v1h-24zM302 148h11v1h-11zM108 149h19v1h-19zM306 149h8v1h-8zM106 150h20v1h-20zM310 150h5v1h-5zM104 151h22v1h-22zM312 151h4v1h-4zM0 152h2v1h-2zM102 152h26v1h-26zM312 152h4v1h-4zM0 153h4v1h-4zM38 153h99v1h-99zM313 153h3v1h-3zM0 154h10v1h-10zM15 154h123v1h-123zM314 154h2v1h-2zM0 155h139v1h-139zM314 155h2v1h-2zM0 156h140v1h-140zM0 157h140v1h-140z"/>
<path fill="#ff9500" d="M132 29h8v1h-8zM18 30h18v1h-18zM129 30h14v1h-14zM13 31h31v1h-31zM118 31h36v1h-36zM0 32h1v1h-1zM9 32h16v1h-16zM34 32h18v1h-18zM116 32h41v1h-41zM303 32h13v1h-13zM0 33h20v1h-20zM43 33h16v1h-16zM115 33h44v1h-44zM301 33h15v1h-15zM0 34h17v1h-17zM46 34h15v1h-15zM114 34h47v1h-47zM300 34h16v1h-16zM0 35h14v1h-14zM50 35h12v1h-12zM113 35h9v1h-9zM153 35h20v1h-20zM298 35h7v1h-7zM310 35h6v1h-6zM0 36h11v1h-11zM58 36h5v1h-5zM112 36h6v1h-6zM157 36h23v1h-23zM294 36h7v1h-7zM314 36h2v1h-2zM2 37h8v1h-8zM59 37h5v1h-5zM112 37h5v1h-5zM161 37h25v1h-25zM292 37h5v1h-5zM4 38h4v1h-4zM60 38h5v1h-5zM111 38h6v1h-6zM179 38h17v1h-17zM291 38h3v1h-3zM60 39h7v1h-7zM110 39h6v1h-6zM187 39h14v1h-14zM290 39h3v1h-3zM61 40h10v1h-10zM109 40h6v1h-6zM195 40h10v1h-10zM210 40h5v1h-5zM289 40h3v1h-3zM62 41h24v1h-24zM107 41h7v1h-7zM200 41h16v1h-16zM288 41h3v1h-3zM63 42h28v1h-28zM105 42h8v1h-8zM203 42h15v1h-15zM286 42h4v1h-4zM65 43h33v1h-33zM102 43h9v1h-9zM206 43h13v1h-13zM284 43h4v1h-4zM85 44h24v1h-24zM214 44h6v1h-6zM283 44h3v1h-3zM93 45h14v1h-14zM216 45h5v1h-5zM281 45h3v1h-3zM98 46h6v1h-6zM217 46h5v1h-5zM279 46h3v1h-3zM219 47h5v1h-5zM278 47h3v1h-3zM221 48h5v1h-5zM276 48h3v1h-3zM222 49h6v1h-6zM273 49h4v1h-4zM224 50h6v1h-6zM271 50h3v1h-3zM226 51h6v1h-6zM266 51h5v1h-5zM227 52h11v1h-11zM259 52h7v1h-7zM229 53h32v1h-32zM239 54h18v1h-18zM196 57h9v1h-9zM168 58h17v1h-17zM191 58h16v1h-16zM222 58h2v1h-2zM165 59h7v1h-7zM175 59h21v1h-21zM199 59h9v1h-9zM221 59h4v1h-4zM163 60h5v1h-5zM182 60h11v1h-11zM201 60h6v1h-6zM220 60h5v1h-5zM161 61h5v1h-5zM183 61h9v1h-9zM201 61h5v1h-5zM220 61h5v1h-5zM160 62h4v1h-4zM184 62h8v1h-8zM201 62h4v1h-4zM220 62h4v1h-4zM159 63h4v1h-4zM184 63h7v1h-7zM201 63h3v1h-3zM221 63h3v1h-3zM159 64h4v1h-4zM184 64h8v1h-8zM200 64h3v1h-3zM158 65h5v1h-5zM184 65h9v1h-9zM199 65h3v1h-3zM159 66h6v1h-6zM183 66h18v1h-18zM159 67h8v1h-8zM181 67h19v1h-19zM161 68h37v1h-37zM166 69h26v1h-26zM15 74h23v1h-23zM11 75h40v1h-40zM9 76h43v1h-43zM7 77h46v1h-46zM0 78h53v1h-53zM299 78h17v1h-17zM0 79h15v1h-15zM31 79h22v1h-22zM74 79h11v1h-11zM283 79h33v1h-33zM0 80h13v1h-13zM33 80h20v1h-20zM72 80h15v1h-15zM279 80h18v1h-18zM314 80h2v1h-2zM0 81h12v1h-12zM33 81h19v1h-19zM71 81h18v1h-18zM277 81h12v1h-12zM2 82h12v1h-12zM32 82h18v1h-18zM71 82h19v1h-19zM277 82h9v1h-9zM2 83h46v1h-46zM71 83h22v1h-22zM278 83h10v1h-10zM0 84h45v1h-45zM71 84h23v1h-23zM279 84h11v1h-11zM0 85h43v1h-43zM72 85h22v1h-22zM282 85h14v1h-14zM312 85h4v1h-4zM0 86h42v1h-42zM74 86h20v1h-20zM286 86h30v1h-30zM0 87h37v1h-37zM294 87h22v1h-22zM127 121h132v1h-132zM123 122h23v1h-23zM170 122h54v1h-54zM248 122h13v1h-13zM107 123h30v1h-30zM178 123h38v1h-38zM256 123h7v1h-7zM104 124h21v1h-21zM259 124h6v1h-6zM299 124h17v1h-17zM0 125h3v1h-3zM30 125h92v1h-92zM260 125h6v1h-6zM296 125h20v1h-20zM0 126h6v1h-6zM23 126h96v1h-96zM261 126h7v1h-7zM294 126h22v1h-22zM0 127h108v1h-108zM262 127h41v1h-41zM310 127h6v1h-6zM0 128h103v1h-103zM262 128h39v1h-39zM312 128h4v1h-4zM0 129h32v1h-32zM262 129h39v1h-39zM312 129h4v1h-4zM0 130h34v1h-34zM263 130h40v1h-40zM311 130h5v1h-5zM0 131h102v1h-102zM181 131h23v1h-23zM262 131h22v1h-22zM293 131h23v1h-23zM0 132h104v1h-104zM178 132h29v1h-29zM262 132h20v1h-20zM296 132h20v1h-20zM0 133h106v1h-106zM175 133h33v1h-33zM261 133h19v1h-19zM298 133h18v1h-18zM0 134h108v1h-108zM174 134h33v1h-33zM260 134h18v1h-18zM314 134h2v1h-2zM30 135h96v1h-96zM256 135h19v1h-19zM87 136h70v1h-70zM232 136h35v1h-35zM90 137h67v1h-67zM231 137h35v1h-35zM102 138h55v1h-55zM231 138h35v1h-35zM109 139h47v1h-47zM238 139h31v1h-31zM137 140h19v1h-19zM244 140h50v1h-50zM139 141h16v1h-16zM247 141h49v1h-49zM140 142h15v1h-15zM250 142h47v1h-47zM140 143h14v1h-14zM264 143h33v1h-33zM140 144h12v1h-12zM285 144h13v1h-13zM140 145h11v1h-11zM288 145h10v1h-10zM139 146h10v1h-10zM289 146h10v1h-10zM138 147h10v1h-10zM290 147h10v1h-10zM135 148h11v1h-11zM290 148h12v1h-12zM127 149h17v1h-17zM291 149h15v1h-15zM126 150h18v1h-18zM291 150h19v1h-19zM126 151h18v1h-18zM290 151h22v1h-22zM128 152h18v1h-18zM290 152h22v1h-22zM137 153h16v1h-16zM288 153h25v1h-25zM138 154h16v1h-16zM271 154h43v1h-43zM139 155h16v1h-16zM267 155h47v1h-47zM140 156h15v1h-15zM266 156h50v1h-50zM140 157h16v1h-16zM266 157h50v1h-50z"/>
<path fill="#ff6e00" d="M127 26h18v1h-18zM117 27h38v1h-38zM15 28h21v1h-21zM115 28h42v1h-42zM11 29h35v1h-35zM113 29h19v1h-19zM140 29h19v1h-19zM306 29h8v1h-8zM0 30h3v1h-3zM7 30h11v1h-11zM36 30h17v1h-17zM112 30h17v1h-17zM143 30h19v1h-19zM302 30h14v1h-14zM0 31h13v1h-13zM44 31h16v1h-16zM111 31h7v1h-7zM154 31h18v1h-18zM301 31h15v1h-15zM1 32h8v1h-8zM52 32h10v1h-10zM110 32h6v1h-6zM157 32h18v1h-18zM299 32h4v1h-4zM59 33h5v1h-5zM109 33h6v1h-6zM159 33h19v1h-19zM298 33h3v1h-3zM61 34h4v1h-4zM109 34h5v1h-5zM161 34h23v1h-23zM296 34h4v1h-4zM62 35h5v1h-5zM109 35h4v1h-4zM173 35h17v1h-17zM293 35h5v1h-5zM63 36h5v1h-5zM108 36h4v1h-4zM180 36h18v1h-18zM213 36h2v1h-2zM291 36h3v1h-3zM64 37h7v1h-7zM107 37h5v1h-5zM186 37h17v1h-17zM210 37h7v1h-7zM290 37h2v1h-2zM65 38h10v1h-10zM106 38h5v1h-5zM196 38h22v1h-22zM289 38h2v1h-2zM67 39h24v1h-24zM105 39h5v1h-5zM201 39h18v1h-18zM287 39h3v1h-3zM71 40h26v1h-26zM102 40h7v1h-7zM205 40h5v1h-5zM215 40h5v1h-5zM286 40h3v1h-3zM86 41h21v1h-21zM216 41h5v1h-5zM284 41h4v1h-4zM91 42h14v1h-14zM218 42h4v1h-4zM283 42h3v1h-3zM98 43h4v1h-4zM219 43h4v1h-4zM281 43h3v1h-3zM220 44h4v1h-4zM280 44h3v1h-3zM221 45h4v1h-4zM278 45h3v1h-3zM222 46h5v1h-5zM276 46h3v1h-3zM224 47h5v1h-5zM274 47h4v1h-4zM226 48h4v1h-4zM272 48h4v1h-4zM228 49h5v1h-5zM270 49h3v1h-3zM230 50h7v1h-7zM265 50h6v1h-6zM232 51h34v1h-34zM238 52h21v1h-21zM172 59h3v1h-3zM196 59h3v1h-3zM168 60h14v1h-14zM193 60h8v1h-8zM166 61h17v1h-17zM192 61h9v1h-9zM164 62h20v1h-20zM192 62h9v1h-9zM163 63h8v1h-8zM172 63h12v1h-12zM191 63h10v1h-10zM163 64h21v1h-21zM192 64h8v1h-8zM163 65h21v1h-21zM193 65h6v1h-6zM165 66h18v1h-18zM167 67h14v1h-14zM15 79h16v1h-16zM13 80h20v1h-20zM297 80h17v1h-17zM12 81h21v1h-21zM289 81h27v1h-27zM0 82h2v1h-2zM14 82h18v1h-18zM286 82h30v1h-30zM0 83h2v1h-2zM288 83h28v1h-28zM290 84h26v1h-26zM296 85h16v1h-16zM146 122h24v1h-24zM224 122h24v1h-24zM137 123h41v1h-41zM216 123h40v1h-40zM125 124h19v1h-19zM171 124h52v1h-52zM247 124h12v1h-12zM122 125h18v1h-18zM175 125h44v1h-44zM252 125h8v1h-8zM119 126h18v1h-18zM176 126h40v1h-40zM253 126h8v1h-8zM108 127h20v1h-20zM177 127h37v1h-37zM254 127h8v1h-8zM303 127h7v1h-7zM103 128h23v1h-23zM176 128h37v1h-37zM253 128h9v1h-9zM301 128h11v1h-11zM32 129h94v1h-94zM175 129h38v1h-38zM253 129h9v1h-9zM301 129h11v1h-11zM34 130h93v1h-93zM173 130h41v1h-41zM251 130h12v1h-12zM303 130h8v1h-8zM102 131h36v1h-36zM160 131h21v1h-21zM204 131h13v1h-13zM248 131h14v1h-14zM104 132h74v1h-74zM207 132h15v1h-15zM229 132h33v1h-33zM106 133h69v1h-69zM208 133h53v1h-53zM108 134h66v1h-66zM207 134h53v1h-53zM126 135h130v1h-130zM157 136h75v1h-75zM157 137h74v1h-74zM157 138h74v1h-74zM156 139h82v1h-82zM156 140h6v1h-6zM225 140h19v1h-19zM155 141h6v1h-6zM227 141h20v1h-20zM155 142h5v1h-5zM231 142h19v1h-19zM154 143h5v1h-5zM243 143h21v1h-21zM152 144h6v1h-6zM247 144h38v1h-38zM151 145h6v1h-6zM259 145h29v1h-29zM149 146h8v1h-8zM263 146h26v1h-26zM148 147h8v1h-8zM266 147h24v1h-24zM146 148h10v1h-10zM268 148h22v1h-22zM144 149h12v1h-12zM283 149h8v1h-8zM144 150h12v1h-12zM283 150h8v1h-8zM144 151h13v1h-13zM268 151h22v1h-22zM146 152h12v1h-12zM266 152h24v1h-24zM153 153h5v1h-5zM264 153h24v1h-24zM154 154h5v1h-5zM263 154h8v1h-8zM155 155h5v1h-5zM262 155h5v1h-5zM155 156h5v1h-5zM261 156h5v1h-5zM156 157h4v1h-4zM261 157h5v1h-5z"/>
<path fill="#ff4700" d="M123 10h4v1h-4zM118 11h11v1h-11zM117 12h12v1h-12zM116 13h13v1h-13zM117 14h12v1h-12zM117 15h11v1h-11zM118 16h10v1h-10zM119 17h8v1h-8zM119 22h35v1h-35zM116 23h41v1h-41zM114 24h45v1h-45zM21 25h14v1h-14zM112 25h49v1h-49zM15 26h31v1h-31zM111 26h16v1h-16zM145 26h20v1h-20zM10 27h41v1h-41zM110 27h7v1h-7zM155 27h19v1h-19zM308 27h6v1h-6zM0 28h3v1h-3zM7 28h8v1h-8zM36 28h19v1h-19zM109 28h6v1h-6zM157 28h19v1h-19zM303 28h13v1h-13zM0 29h11v1h-11zM46 29h15v1h-15zM109 29h4v1h-4zM159 29h19v1h-19zM301 29h5v1h-5zM314 29h2v1h-2zM3 30h4v1h-4zM53 30h12v1h-12zM108 30h4v1h-4zM162 30h18v1h-18zM299 30h3v1h-3zM60 31h6v1h-6zM108 31h3v1h-3zM172 31h19v1h-19zM298 31h3v1h-3zM62 32h6v1h-6zM107 32h3v1h-3zM175 32h18v1h-18zM211 32h5v1h-5zM297 32h2v1h-2zM64 33h5v1h-5zM107 33h2v1h-2zM178 33h19v1h-19zM209 33h8v1h-8zM295 33h3v1h-3zM65 34h5v1h-5zM106 34h3v1h-3zM184 34h19v1h-19zM206 34h12v1h-12zM293 34h3v1h-3zM67 35h6v1h-6zM105 35h4v1h-4zM190 35h29v1h-29zM290 35h3v1h-3zM68 36h8v1h-8zM105 36h3v1h-3zM198 36h15v1h-15zM215 36h5v1h-5zM289 36h2v1h-2zM71 37h23v1h-23zM103 37h4v1h-4zM203 37h7v1h-7zM217 37h4v1h-4zM287 37h3v1h-3zM75 38h31v1h-31zM218 38h4v1h-4zM286 38h3v1h-3zM91 39h14v1h-14zM219 39h5v1h-5zM285 39h2v1h-2zM97 40h5v1h-5zM220 40h5v1h-5zM283 40h3v1h-3zM221 41h5v1h-5zM281 41h3v1h-3zM222 42h5v1h-5zM279 42h4v1h-4zM223 43h5v1h-5zM278 43h3v1h-3zM224 44h5v1h-5zM276 44h4v1h-4zM225 45h5v1h-5zM275 45h3v1h-3zM227 46h4v1h-4zM272 46h4v1h-4zM229 47h5v1h-5zM270 47h4v1h-4zM230 48h7v1h-7zM268 48h4v1h-4zM233 49h37v1h-37zM237 50h28v1h-28zM171 63h1v1h-1zM144 124h27v1h-27zM223 124h24v1h-24zM140 125h35v1h-35zM219 125h33v1h-33zM137 126h39v1h-39zM216 126h37v1h-37zM128 127h49v1h-49zM214 127h40v1h-40zM126 128h20v1h-20zM155 128h21v1h-21zM213 128h12v1h-12zM240 128h13v1h-13zM126 129h49v1h-49zM213 129h40v1h-40zM127 130h46v1h-46zM214 130h37v1h-37zM138 131h22v1h-22zM217 131h31v1h-31zM222 132h7v1h-7zM162 140h63v1h-63zM161 141h66v1h-66zM160 142h71v1h-71zM159 143h84v1h-84zM158 144h7v1h-7zM224 144h23v1h-23zM157 145h5v1h-5zM236 145h23v1h-23zM157 146h4v1h-4zM245 146h18v1h-18zM156 147h5v1h-5zM251 147h15v1h-15zM156 148h5v1h-5zM261 148h7v1h-7zM156 149h5v1h-5zM262 149h21v1h-21zM156 150h5v1h-5zM263 150h20v1h-20zM157 151h5v1h-5zM262 151h6v1h-6zM158 152h5v1h-5zM261 152h5v1h-5zM158 153h59v1h-59zM259 153h5v1h-5zM159 154h104v1h-104zM160 155h102v1h-102zM160 156h101v1h-101zM160 157h101v1h-101z"/>
<path fill="#ff1f00" d="M123 8h7v1h-7zM117 9h17v1h-17zM114 10h9v1h-9zM127 10h7v1h-7zM112 11h6v1h-6zM129 11h5v1h-5zM112 12h5v1h-5zM129 12h4v1h-4zM112 13h4v1h-4zM129 13h4v1h-4zM112 14h5v1h-5zM129 14h4v1h-4zM112 15h5v1h-5zM128 15h4v1h-4zM112 16h6v1h-6zM128 16h5v1h-5zM177 16h11v1h-11zM113 17h6v1h-6zM127 17h6v1h-6zM179 17h7v1h-7zM113 18h22v1h-22zM142 18h24v1h-24zM113 19h55v1h-55zM112 20h57v1h-57zM112 21h58v1h-58zM19 22h28v1h-28zM111 22h8v1h-8zM154 22h43v1h-43zM17 23h34v1h-34zM110 23h6v1h-6zM157 23h46v1h-46zM209 23h6v1h-6zM14 24h39v1h-39zM109 24h5v1h-5zM159 24h57v1h-57zM9 25h12v1h-12zM35 25h21v1h-21zM109 25h3v1h-3zM161 25h56v1h-56zM0 26h15v1h-15zM46 26h15v1h-15zM108 26h3v1h-3zM165 26h53v1h-53zM306 26h10v1h-10zM0 27h10v1h-10zM51 27h15v1h-15zM107 27h3v1h-3zM174 27h44v1h-44zM302 27h6v1h-6zM314 27h2v1h-2zM3 28h4v1h-4zM55 28h12v1h-12zM107 28h2v1h-2zM176 28h43v1h-43zM299 28h4v1h-4zM61 29h7v1h-7zM106 29h3v1h-3zM178 29h42v1h-42zM298 29h3v1h-3zM65 30h4v1h-4zM106 30h2v1h-2zM180 30h40v1h-40zM296 30h3v1h-3zM66 31h4v1h-4zM105 31h3v1h-3zM191 31h30v1h-30zM295 31h3v1h-3zM68 32h4v1h-4zM105 32h2v1h-2zM193 32h18v1h-18zM216 32h6v1h-6zM294 32h3v1h-3zM69 33h4v1h-4zM104 33h3v1h-3zM197 33h12v1h-12zM217 33h5v1h-5zM291 33h4v1h-4zM70 34h6v1h-6zM103 34h3v1h-3zM203 34h3v1h-3zM218 34h5v1h-5zM289 34h4v1h-4zM73 35h7v1h-7zM102 35h3v1h-3zM219 35h5v1h-5zM287 35h3v1h-3zM76 36h29v1h-29zM220 36h6v1h-6zM286 36h3v1h-3zM94 37h9v1h-9zM221 37h6v1h-6zM285 37h2v1h-2zM222 38h6v1h-6zM283 38h3v1h-3zM224 39h5v1h-5zM281 39h4v1h-4zM225 40h5v1h-5zM279 40h4v1h-4zM226 41h5v1h-5zM277 41h4v1h-4zM227 42h4v1h-4zM276 42h3v1h-3zM228 43h4v1h-4zM274 43h4v1h-4zM229 44h5v1h-5zM272 44h4v1h-4zM230 45h6v1h-6zM270 45h5v1h-5zM231 46h8v1h-8zM268 46h4v1h-4zM234 47h36v1h-36zM237 48h31v1h-31zM146 128h9v1h-9zM225 128h15v1h-15zM165 144h59v1h-59zM162 145h74v1h-74zM161 146h84v1h-84zM161 147h90v1h-90zM161 148h100v1h-100zM161 149h63v1h-63zM241 149h21v1h-21zM161 150h64v1h-64zM242 150h21v1h-21zM162 151h100v1h-100zM163 152h98v1h-98zM217 153h42v1h-42z"/>
<path fill="#f70000" d="M124 7h9v1h-9zM116 8h7v1h-7zM130 8h7v1h-7zM113 9h4v1h-4zM134 9h4v1h-4zM111 10h3v1h-3zM134 10h4v1h-4zM110 11h2v1h-2zM134 11h4v1h-4zM110 12h2v1h-2zM133 12h4v1h-4zM110 13h2v1h-2zM133 13h4v1h-4zM176 13h15v1h-15zM110 14h2v1h-2zM133 14h4v1h-4zM165 14h30v1h-30zM110 15h2v1h-2zM132 15h68v1h-68zM110 16h2v1h-2zM133 16h44v1h-44zM188 16h16v1h-16zM110 17h3v1h-3zM133 17h46v1h-46zM186 17h19v1h-19zM109 18h4v1h-4zM135 18h7v1h-7zM166 18h39v1h-39zM109 19h4v1h-4zM168 19h38v1h-38zM20 20h23v1h-23zM109 20h3v1h-3zM169 20h48v1h-48zM14 21h38v1h-38zM108 21h4v1h-4zM170 21h50v1h-50zM10 22h9v1h-9zM47 22h11v1h-11zM107 22h4v1h-4zM197 22h24v1h-24zM6 23h11v1h-11zM51 23h14v1h-14zM107 23h3v1h-3zM203 23h6v1h-6zM215 23h6v1h-6zM2 24h12v1h-12zM53 24h13v1h-13zM107 24h2v1h-2zM216 24h6v1h-6zM0 25h9v1h-9zM56 25h11v1h-11zM106 25h3v1h-3zM217 25h6v1h-6zM306 25h10v1h-10zM61 26h7v1h-7zM106 26h2v1h-2zM218 26h6v1h-6zM301 26h5v1h-5zM66 27h3v1h-3zM105 27h2v1h-2zM218 27h8v1h-8zM298 27h4v1h-4zM67 28h3v1h-3zM105 28h2v1h-2zM219 28h8v1h-8zM296 28h3v1h-3zM68 29h3v1h-3zM104 29h2v1h-2zM220 29h7v1h-7zM294 29h4v1h-4zM69 30h3v1h-3zM104 30h2v1h-2zM220 30h8v1h-8zM293 30h3v1h-3zM70 31h4v1h-4zM103 31h2v1h-2zM221 31h7v1h-7zM291 31h4v1h-4zM72 32h4v1h-4zM102 32h3v1h-3zM222 32h7v1h-7zM289 32h5v1h-5zM73 33h5v1h-5zM101 33h3v1h-3zM222 33h8v1h-8zM287 33h4v1h-4zM76 34h7v1h-7zM87 34h16v1h-16zM223 34h8v1h-8zM285 34h4v1h-4zM80 35h22v1h-22zM224 35h8v1h-8zM283 35h4v1h-4zM226 36h7v1h-7zM281 36h5v1h-5zM227 37h7v1h-7zM279 37h6v1h-6zM228 38h7v1h-7zM277 38h6v1h-6zM229 39h6v1h-6zM276 39h5v1h-5zM230 40h6v1h-6zM274 40h5v1h-5zM231 41h6v1h-6zM272 41h5v1h-5zM231 42h7v1h-7zM270 42h6v1h-6zM232 43h9v1h-9zM267 43h7v1h-7zM234 44h38v1h-38zM236 45h34v1h-34zM239 46h29v1h-29zM224 149h17v1h-17zM225 150h17v1h-17z"/>
<path fill="#cf0000" d="M116 7h8v1h-8zM133 7h5v1h-5zM112 8h4v1h-4zM137 8h2v1h-2zM110 9h3v1h-3zM138 9h2v1h-2zM109 10h2v1h-2zM138 10h2v1h-2zM109 11h1v1h-1zM138 11h3v1h-3zM108 12h2v1h-2zM137 12h5v1h-5zM172 12h22v1h-22zM108 13h2v1h-2zM137 13h39v1h-39zM191 13h11v1h-11zM108 14h2v1h-2zM137 14h28v1h-28zM195 14h11v1h-11zM108 15h2v1h-2zM200 15h8v1h-8zM108 16h2v1h-2zM204 16h5v1h-5zM108 17h2v1h-2zM205 17h7v1h-7zM107 18h2v1h-2zM205 18h13v1h-13zM23 19h17v1h-17zM107 19h2v1h-2zM206 19h18v1h-18zM12 20h8v1h-8zM43 20h12v1h-12zM106 20h3v1h-3zM217 20h10v1h-10zM7 21h7v1h-7zM52 21h14v1h-14zM105 21h3v1h-3zM220 21h10v1h-10zM4 22h6v1h-6zM58 22h9v1h-9zM105 22h2v1h-2zM221 22h12v1h-12zM0 23h6v1h-6zM65 23h3v1h-3zM105 23h2v1h-2zM221 23h14v1h-14zM0 24h2v1h-2zM66 24h3v1h-3zM104 24h3v1h-3zM222 24h14v1h-14zM305 24h11v1h-11zM67 25h2v1h-2zM104 25h2v1h-2zM223 25h13v1h-13zM299 25h7v1h-7zM68 26h2v1h-2zM103 26h3v1h-3zM224 26h13v1h-13zM296 26h5v1h-5zM69 27h2v1h-2zM103 27h2v1h-2zM226 27h11v1h-11zM293 27h5v1h-5zM70 28h2v1h-2zM102 28h3v1h-3zM227 28h10v1h-10zM291 28h5v1h-5zM71 29h3v1h-3zM102 29h2v1h-2zM227 29h10v1h-10zM288 29h6v1h-6zM72 30h4v1h-4zM101 30h3v1h-3zM228 30h9v1h-9zM286 30h7v1h-7zM74 31h4v1h-4zM99 31h4v1h-4zM228 31h9v1h-9zM284 31h7v1h-7zM76 32h4v1h-4zM92 32h10v1h-10zM229 32h8v1h-8zM282 32h7v1h-7zM78 33h23v1h-23zM230 33h7v1h-7zM280 33h7v1h-7zM83 34h4v1h-4zM231 34h7v1h-7zM278 34h7v1h-7zM232 35h6v1h-6zM275 35h8v1h-8zM233 36h6v1h-6zM273 36h8v1h-8zM234 37h6v1h-6zM271 37h8v1h-8zM235 38h5v1h-5zM269 38h8v1h-8zM235 39h9v1h-9zM265 39h11v1h-11zM236 40h38v1h-38zM237 41h35v1h-35zM238 42h32v1h-32zM241 43h26v1h-26z"/>
<path fill="#a80000" d="M118 6h19v1h-19zM112 7h4v1h-4zM138 7h2v1h-2zM110 8h2v1h-2zM139 8h2v1h-2zM109 9h1v1h-1zM140 9h2v1h-2zM108 10h1v1h-1zM140 10h3v1h-3zM108 11h1v1h-1zM141 11h4v1h-4zM172 11h23v1h-23zM107 12h1v1h-1zM142 12h30v1h-30zM194 12h11v1h-11zM107 13h1v1h-1zM202 13h5v1h-5zM107 14h1v1h-1zM206 14h3v1h-3zM107 15h1v1h-1zM208 15h3v1h-3zM107 16h1v1h-1zM209 16h4v1h-4zM106 17h2v1h-2zM212 17h12v1h-12zM106 18h1v1h-1zM218 18h23v1h-23zM12 19h11v1h-11zM40 19h14v1h-14zM105 19h2v1h-2zM224 19h36v1h-36zM6 20h6v1h-6zM55 20h12v1h-12zM104 20h2v1h-2zM227 20h35v1h-35zM3 21h4v1h-4zM66 21h2v1h-2zM103 21h2v1h-2zM230 21h34v1h-34zM0 22h4v1h-4zM67 22h2v1h-2zM102 22h3v1h-3zM233 22h33v1h-33zM68 23h2v1h-2zM102 23h3v1h-3zM235 23h34v1h-34zM307 23h9v1h-9zM69 24h1v1h-1zM102 24h2v1h-2zM236 24h33v1h-33zM295 24h10v1h-10zM69 25h2v1h-2zM101 25h3v1h-3zM236 25h33v1h-33zM290 25h9v1h-9zM70 26h2v1h-2zM101 26h2v1h-2zM237 26h30v1h-30zM285 26h11v1h-11zM71 27h2v1h-2zM100 27h3v1h-3zM237 27h29v1h-29zM282 27h11v1h-11zM72 28h3v1h-3zM99 28h3v1h-3zM237 28h28v1h-28zM280 28h11v1h-11zM74 29h3v1h-3zM97 29h5v1h-5zM237 29h28v1h-28zM278 29h10v1h-10zM76 30h3v1h-3zM94 30h7v1h-7zM237 30h30v1h-30zM276 30h10v1h-10zM78 31h4v1h-4zM89 31h10v1h-10zM237 31h47v1h-47zM80 32h12v1h-12zM237 32h45v1h-45zM237 33h43v1h-43zM238 34h40v1h-40zM238 35h37v1h-37zM239 36h34v1h-34zM240 37h31v1h-31zM240 38h29v1h-29zM244 39h21v1h-21z"/>
<path fill="#810000" d="M114 6h4v1h-4zM137 6h2v1h-2zM110 7h2v1h-2zM140 7h2v1h-2zM108 8h2v1h-2zM141 8h2v1h-2zM108 9h1v1h-1zM142 9h2v1h-2zM107 10h1v1h-1zM143 10h5v1h-5zM175 10h18v1h-18zM107 11h1v1h-1zM145 11h27v1h-27zM195 11h10v1h-10zM106 12h1v1h-1zM205 12h2v1h-2zM106 13h1v1h-1zM207 13h2v1h-2zM106 14h1v1h-1zM209 14h2v1h-2zM106 15h1v1h-1zM211 15h2v1h-2zM105 16h2v1h-2zM213 16h20v1h-20zM105 17h1v1h-1zM224 17h37v1h-37zM16 18h32v1h-32zM104 18h2v1h-2zM241 18h23v1h-23zM6 19h6v1h-6zM54 19h13v1h-13zM103 19h2v1h-2zM260 19h7v1h-7zM3 20h3v1h-3zM67 20h2v1h-2zM101 20h3v1h-3zM262 20h31v1h-31zM0 21h3v1h-3zM68 21h2v1h-2zM100 21h3v1h-3zM264 21h32v1h-32zM69 22h1v1h-1zM99 22h3v1h-3zM266 22h38v1h-38zM312 22h4v1h-4zM70 23h1v1h-1zM99 23h3v1h-3zM269 23h38v1h-38zM70 24h2v1h-2zM98 24h4v1h-4zM269 24h26v1h-26zM71 25h2v1h-2zM98 25h3v1h-3zM269 25h21v1h-21zM72 26h2v1h-2zM97 26h4v1h-4zM267 26h18v1h-18zM73 27h3v1h-3zM96 27h4v1h-4zM266 27h16v1h-16zM75 28h3v1h-3zM94 28h5v1h-5zM265 28h15v1h-15zM77 29h3v1h-3zM91 29h6v1h-6zM265 29h13v1h-13zM79 30h5v1h-5zM86 30h8v1h-8zM267 30h9v1h-9zM82 31h7v1h-7z"/>
<path fill="#590000" d="M117 5h21v1h-21zM111 6h3v1h-3zM139 6h3v1h-3zM108 7h2v1h-2zM142 7h2v1h-2zM107 8h1v1h-1zM143 8h3v1h-3zM107 9h1v1h-1zM144 9h5v1h-5zM106 10h1v1h-1zM148 10h27v1h-27zM193 10h12v1h-12zM106 11h1v1h-1zM205 11h2v1h-2zM105 12h1v1h-1zM207 12h2v1h-2zM105 13h1v1h-1zM209 13h2v1h-2zM105 14h1v1h-1zM211 14h2v1h-2zM105 15h1v1h-1zM213 15h44v1h-44zM104 16h1v1h-1zM233 16h29v1h-29zM103 17h2v1h-2zM261 17h5v1h-5zM7 18h9v1h-9zM48 18h18v1h-18zM102 18h2v1h-2zM264 18h29v1h-29zM4 19h2v1h-2zM67 19h2v1h-2zM99 19h4v1h-4zM267 19h29v1h-29zM1 20h2v1h-2zM69 20h1v1h-1zM97 20h4v1h-4zM293 20h6v1h-6zM70 21h1v1h-1zM96 21h4v1h-4zM296 21h8v1h-8zM314 21h2v1h-2zM70 22h2v1h-2zM95 22h4v1h-4zM304 22h8v1h-8zM71 23h2v1h-2zM94 23h5v1h-5zM72 24h1v1h-1zM94 24h4v1h-4zM73 25h2v1h-2zM93 25h5v1h-5zM74 26h3v1h-3zM92 26h5v1h-5zM76 27h3v1h-3zM91 27h5v1h-5zM78 28h4v1h-4zM88 28h6v1h-6zM80 29h11v1h-11zM84 30h2v1h-2z"/>
<path fill="#320000" d="M112 5h5v1h-5zM138 5h3v1h-3zM109 6h2v1h-2zM142 6h2v1h-2zM107 7h1v1h-1zM144 7h2v1h-2zM106 8h1v1h-1zM146 8h3v1h-3zM106 9h1v1h-1zM149 9h54v1h-54zM105 10h1v1h-1zM205 10h2v1h-2zM105 11h1v1h-1zM207 11h2v1h-2zM104 12h1v1h-1zM209 12h2v1h-2zM104 13h1v1h-1zM211 13h1v1h-1zM104 14h1v1h-1zM213 14h4v1h-4zM103 15h2v1h-2zM257 15h6v1h-6zM103 16h1v1h-1zM262 16h5v1h-5zM11 17h44v1h-44zM101 17h2v1h-2zM266 17h29v1h-29zM4 18h3v1h-3zM66 18h3v1h-3zM98 18h4v1h-4zM293 18h4v1h-4zM2 19h2v1h-2zM69 19h2v1h-2zM94 19h5v1h-5zM296 19h4v1h-4zM0 20h1v1h-1zM70 20h2v1h-2zM92 20h5v1h-5zM299 20h5v1h-5zM314 20h2v1h-2zM71 21h2v1h-2zM92 21h4v1h-4zM304 21h10v1h-10zM72 22h1v1h-1zM91 22h4v1h-4zM73 23h1v1h-1zM91 23h3v1h-3zM73 24h3v1h-3zM90 24h4v1h-4zM75 25h3v1h-3zM89 25h4v1h-4zM77 26h3v1h-3zM88 26h4v1h-4zM79 27h5v1h-5zM85 27h6v1h-6zM82 28h6v1h-6z"/>
<path fill="#0b0000" d="M0 0h316v1h-316zM0 1h316v1h-316zM0 2h316v1h-316zM0 3h316v1h-316zM0 4h316v1h-316zM0 5h112v1h-112zM141 5h175v1h-175zM0 6h109v1h-109zM144 6h172v1h-172zM0 7h107v1h-107zM146 7h170v1h-170zM0 8h106v1h-106zM149 8h167v1h-167zM0 9h106v1h-106zM203 9h113v1h-113zM0 10h105v1h-105zM207 10h109v1h-109zM0 11h105v1h-105zM209 11h107v1h-107zM0 12h104v1h-104zM211 12h105v1h-105zM0 13h104v1h-104zM212 13h104v1h-104zM0 14h104v1h-104zM217 14h99v1h-99zM0 15h103v1h-103zM263 15h53v1h-53zM0 16h103v1h-103zM267 16h49v1h-49zM0 17h11v1h-11zM55 17h46v1h-46zM295 17h21v1h-21zM0 18h4v1h-4zM69 18h29v1h-29zM297 18h19v1h-19zM0 19h2v1h-2zM71 19h23v1h-23zM300 19h16v1h-16zM72 20h20v1h-20zM304 20h10v1h-10zM73 21h19v1h-19zM73 22h18v1h-18zM74 23h17v1h-17zM76 24h14v1h-14zM78 25h11v1h-11zM80 26h8v1h-8zM84 27h1v1h-1z"/>
</g></g>
<path d="M416.50 30.5V187.3M468.50 30.5V187.3M521.50 30.5V187.3M573.50 30.5V187.3M625.50 30.5V187.3M363.8 56.50H678.3M363.8 82.50H678.3M363.8 108.50H678.3M363.8 135.50H678.3M363.8 161.50H678.3" stroke="#000" stroke-width="0.8" fill="none"/>
<path d="M374.3 51.8L376.0 49.4L379.5 47.7L384.3 46.8L390.0 47.5L397.9 48.3L403.1 48.8L409.2 47.9L411.8 48.4L416.2 48.4L420.6 49.7L425.0 49.8L429.3 49.7L433.7 49.7L437.2 49.7L438.1 46.6L440.7 47.9L442.4 49.2L445.0 49.7L446.8 48.4L449.4 48.4L450.3 50.1L447.7 51.4L445.0 51.8L442.4 53.1L439.8 54.9L438.5 56.6L438.5 57.8L440.2 59.2L444.2 59.7L446.8 60.7L449.0 61.0L449.4 62.7L450.3 64.0L451.6 64.2L452.0 62.7L452.5 61.0L453.8 59.7L454.2 58.4L452.9 57.5L453.3 55.8L452.9 54.5L456.4 54.6L459.9 55.8L460.3 57.5L461.6 57.9L463.8 56.4L465.1 57.5L466.9 58.8L468.6 60.6L470.8 61.9L472.4 63.2L471.3 64.0L469.5 64.9L466.9 65.2L463.4 65.2L460.8 66.7L459.0 68.0L461.2 66.6L463.4 66.0L464.7 66.2L464.3 67.5L464.7 68.7L467.3 69.1L468.6 68.4L467.8 69.5L465.6 70.1L463.4 71.0L463.4 70.1L464.7 69.3L462.5 69.7L460.8 70.6L459.5 71.4L459.9 72.6L458.6 72.8L456.4 73.5L456.0 74.7L455.1 75.4L454.7 76.7L454.8 77.5L455.1 78.2L453.8 78.8L452.9 79.4L451.6 80.2L450.3 81.0L450.0 82.3L450.7 84.1L451.2 85.6L450.9 86.9L450.1 86.9L449.6 86.0L448.8 84.7L448.8 83.6L447.7 82.8L446.4 83.0L445.0 82.4L443.3 82.5L443.0 83.5L441.6 83.4L439.4 82.9L438.1 83.4L436.3 84.5L436.0 86.3L435.6 88.0L435.6 89.5L436.3 91.0L437.2 92.3L438.5 93.0L440.7 92.7L441.8 91.9L442.0 90.6L444.2 90.2L445.0 90.3L444.6 91.9L444.2 93.2L443.7 95.0L445.0 95.1L447.7 95.1L448.4 95.8L448.1 97.6L447.9 99.3L448.5 100.2L449.4 101.1L451.2 100.9L452.0 100.6L453.3 101.3L453.8 101.5L455.1 99.8L456.0 99.3L458.1 98.4L458.8 98.1L458.6 99.3L459.9 98.9L461.2 99.8L463.4 99.7L465.1 99.9L466.9 99.6L467.8 100.6L468.2 101.5L469.5 101.9L470.8 103.4L473.0 103.7L475.2 104.4L476.1 105.2L476.9 107.2L477.4 108.5L478.7 109.3L479.6 109.5L481.7 110.2L482.3 111.2L484.4 111.3L486.1 111.4L487.4 112.2L488.6 113.1L490.2 113.5L490.6 115.0L490.5 116.7L488.7 118.5L487.9 120.1L487.0 121.1L487.0 123.7L486.3 125.9L485.2 127.6L484.4 128.9L482.2 129.1L480.6 129.8L479.1 130.9L478.6 132.4L478.4 133.7L477.2 135.3L475.6 136.9L474.3 138.5L473.1 139.3L471.7 139.2L470.1 138.5L471.1 140.3L471.3 142.0L469.5 142.7L466.9 142.9L466.6 144.4L464.3 144.6L465.1 145.9L464.1 146.8L463.8 148.1L462.1 149.0L463.4 150.3L462.1 152.0L460.8 152.9L461.2 154.5L461.6 155.1L463.8 156.6L461.6 157.2L459.0 155.9L456.8 155.1L456.0 153.3L455.1 151.1L456.0 149.4L456.8 147.2L456.4 145.5L456.7 143.7L456.8 142.0L457.3 141.0L458.1 139.0L458.6 136.8L458.7 135.0L459.0 132.4L459.5 130.7L459.7 128.1L459.6 125.0L458.6 124.0L456.4 122.8L454.5 121.1L453.6 119.4L452.5 117.6L451.6 115.9L450.3 114.1L450.0 112.8L451.2 111.8L450.5 110.6L450.7 109.8L451.2 108.5L452.0 107.6L452.5 106.7L453.5 105.4L453.3 103.7L453.3 102.6L452.6 101.9L451.6 101.1L450.9 101.7L450.7 102.5L449.9 102.2L448.7 101.7L447.9 101.3L446.8 100.2L446.1 99.5L445.0 98.0L444.4 97.4L442.9 97.1L441.1 96.7L439.4 95.4L438.1 94.8L436.3 95.0L434.1 94.4L431.9 93.2L430.2 92.3L428.9 91.2L429.1 90.0L428.0 88.4L426.7 87.1L425.4 85.8L424.5 84.7L423.2 83.6L422.3 81.9L420.8 81.3L421.0 82.8L422.3 84.5L423.6 86.3L424.5 87.6L425.4 88.7L424.7 88.4L423.2 87.3L422.9 86.1L421.5 85.2L421.0 84.5L420.6 83.2L419.7 82.1L418.8 80.6L417.5 79.3L415.8 78.8L415.3 77.8L414.5 76.8L414.0 76.0L413.2 74.9L412.5 73.7L412.7 72.3L412.5 71.0L412.7 68.8L412.2 66.8L413.4 66.0L411.8 65.1L409.7 64.0L408.8 62.7L407.5 61.4L406.2 60.1L404.4 58.4L402.2 57.8L400.5 57.1L398.7 56.8L396.1 56.6L393.5 55.9L391.3 56.4L390.0 57.1L389.1 55.8L387.4 57.1L386.1 57.9L383.9 59.2L381.3 60.6L378.7 61.2L379.5 60.3L382.1 58.8L383.5 57.8L382.1 57.8L379.5 57.5L379.1 56.6L376.9 55.9L376.5 54.9L377.3 54.0L380.4 53.6L380.4 52.7L378.7 52.7L375.6 52.5ZM458.1 41.0L463.4 38.8L468.6 37.5L477.4 37.0L486.1 36.2L494.8 36.2L501.8 37.5L505.3 38.8L505.3 40.1L504.5 41.8L503.6 43.6L501.8 45.3L501.0 47.1L501.8 47.7L498.3 49.1L494.0 49.7L491.3 51.0L488.3 51.7L486.1 52.3L485.2 53.6L483.9 55.3L483.0 56.6L481.3 56.5L479.1 55.8L477.4 54.5L476.1 52.7L474.7 51.4L474.3 49.7L476.5 48.4L473.4 47.9L473.4 46.6L472.1 45.3L470.4 43.4L466.9 42.5L461.6 42.7L459.0 41.7ZM542.9 47.1L545.5 47.2L548.1 47.9L549.9 48.4L553.4 49.0L556.9 50.1L556.9 51.1L554.2 51.4L550.8 50.9L549.9 51.8L551.6 52.9L553.8 53.3L556.0 52.6L556.4 51.4L559.5 51.0L559.5 49.7L561.2 49.4L563.0 50.0L568.2 49.2L571.7 49.1L573.9 48.4L577.8 48.8L579.6 49.2L580.5 47.9L579.6 46.2L582.2 45.1L584.4 45.7L584.8 47.9L584.8 50.5L586.6 49.7L586.6 46.2L589.2 45.7L591.4 44.9L591.8 46.2L594.4 47.1L597.1 44.4L599.7 43.1L604.9 42.7L608.4 42.3L612.2 41.2L614.5 41.8L618.9 42.3L620.2 43.1L617.1 44.4L619.8 44.7L625.9 45.3L632.0 44.9L633.7 46.2L634.6 47.2L637.2 46.6L640.7 46.6L643.4 45.6L647.7 45.9L652.1 46.6L654.7 47.1L659.1 47.1L660.8 48.3L665.2 48.4L669.6 47.9L670.4 48.8L674.8 48.1L678.3 48.8L678.3 52.3L676.6 52.7L676.1 54.5L673.1 55.1L670.0 56.6L666.1 56.6L664.8 56.8L663.7 58.4L663.0 59.9L662.4 61.0L660.8 62.6L659.5 63.6L657.9 64.5L657.1 62.7L657.1 60.1L658.2 58.5L660.4 57.1L662.1 56.2L663.9 55.3L661.3 55.2L658.2 55.3L656.5 57.1L653.8 57.5L651.2 57.1L648.2 57.2L645.5 57.5L643.4 58.8L641.2 60.3L639.4 61.3L641.2 61.9L643.4 62.7L644.5 63.4L643.8 65.3L643.4 67.1L642.0 68.4L639.9 70.1L637.7 71.4L635.9 71.4L635.2 72.1L634.4 72.9L633.3 74.1L632.4 74.5L633.3 75.5L634.1 76.7L634.1 78.0L633.3 78.4L631.6 78.9L631.3 78.0L631.6 76.7L630.3 75.8L630.5 74.5L629.6 74.1L628.5 74.3L626.9 75.1L627.5 73.4L625.4 74.5L624.1 74.8L623.9 75.4L625.0 76.4L626.6 76.0L628.1 76.4L626.8 77.1L625.4 78.1L626.1 79.1L626.8 80.6L627.5 81.5L627.6 82.8L627.2 84.1L626.3 85.4L625.4 86.7L624.1 87.6L622.8 88.9L621.1 89.3L619.8 89.7L618.0 90.3L617.1 91.2L616.9 90.2L615.4 90.1L614.3 91.0L613.4 92.3L614.1 93.7L615.4 95.0L616.4 96.7L616.5 98.4L615.4 99.5L614.3 99.9L612.8 101.3L612.6 100.2L611.0 99.3L610.2 98.0L609.2 97.2L608.4 97.3L608.4 98.9L607.8 100.8L608.7 101.7L609.3 103.0L610.6 103.7L611.4 105.0L611.5 106.5L612.1 107.7L611.5 107.8L609.7 106.5L608.8 104.5L608.6 103.2L607.1 101.9L606.9 101.1L607.3 99.3L607.1 97.6L606.4 95.8L606.2 94.5L604.9 94.5L603.4 95.0L603.4 93.2L602.7 91.9L601.4 90.6L601.0 89.3L599.7 89.7L598.4 90.0L597.1 90.3L596.6 91.5L595.3 91.9L593.1 94.1L591.2 95.4L591.1 97.1L590.8 98.9L590.5 99.9L589.4 101.1L588.8 101.8L587.7 100.6L587.0 98.7L586.3 97.1L585.7 95.4L584.8 93.2L584.6 91.9L584.6 90.6L583.9 90.6L582.6 90.8L581.3 89.6L582.5 88.9L580.9 88.6L579.8 87.6L579.1 86.9L577.0 86.9L574.8 87.0L572.6 86.8L571.1 86.4L570.6 85.4L568.7 85.7L566.9 84.9L565.6 83.8L564.7 82.7L563.7 82.5L563.0 83.2L563.6 84.5L564.7 85.6L565.2 86.7L565.9 86.2L566.0 87.5L567.4 87.9L568.7 87.8L570.3 86.0L570.4 87.6L572.2 88.3L573.3 89.3L572.2 91.0L571.5 92.3L570.4 93.2L569.1 94.1L566.7 95.0L563.9 96.3L561.2 97.2L559.1 97.8L558.4 96.3L558.2 94.5L556.9 92.8L555.3 90.3L554.2 88.2L553.4 86.7L552.1 84.9L551.6 84.2L551.5 83.2L551.0 84.7L550.1 83.8L549.5 82.9L549.3 81.7L550.9 81.6L551.6 80.3L552.3 78.8L552.5 77.5L552.5 76.8L551.2 76.9L549.4 77.5L547.8 76.8L546.4 77.1L544.9 76.7L544.2 75.4L543.9 74.5L543.9 73.9L543.8 73.4L542.0 73.4L541.6 73.9L540.9 73.7L541.1 74.7L542.0 75.6L541.6 76.0L541.3 77.1L540.5 77.1L539.7 76.2L539.4 75.1L538.5 74.3L538.0 72.7L537.6 72.1L536.3 71.4L535.0 70.9L534.2 69.9L533.5 69.5L533.0 69.2L531.8 69.4L531.9 70.3L532.9 71.0L533.5 72.0L535.0 72.4L535.0 72.8L536.8 73.5L537.2 74.0L535.9 73.6L535.6 74.3L536.0 74.9L535.5 75.5L534.8 75.8L535.0 74.9L534.4 73.9L533.5 73.4L532.0 72.7L530.7 71.9L530.0 71.0L528.9 70.3L527.6 70.7L526.3 71.4L524.5 71.0L523.7 71.9L523.8 72.5L521.9 73.2L520.8 74.5L521.0 75.2L520.4 76.1L519.3 76.8L517.1 77.0L516.2 77.5L515.5 76.8L514.5 76.5L513.3 76.7L513.4 75.4L512.8 75.1L513.4 73.2L513.0 71.4L514.1 70.8L516.7 71.0L519.3 71.1L519.9 70.1L520.0 68.8L519.0 67.8L517.1 67.2L516.9 66.7L518.9 66.5L519.7 66.5L519.5 65.6L520.0 65.9L521.2 65.7L522.4 64.9L523.2 64.4L524.3 64.0L525.0 63.2L525.4 62.6L527.2 62.3L528.5 62.0L528.7 61.0L528.2 59.4L529.3 59.1L530.2 58.6L530.0 59.7L529.8 60.7L529.6 61.2L530.7 61.7L532.0 61.5L533.5 61.9L535.5 61.4L537.2 61.3L538.3 61.5L539.4 60.6L539.4 59.2L540.7 58.6L542.2 59.1L542.3 58.1L541.6 57.3L543.8 57.1L545.5 57.0L547.3 56.6L545.9 56.2L543.8 56.3L541.1 56.6L539.8 56.0L539.8 54.5L540.3 53.6L542.5 52.5L543.2 51.8L541.8 51.6L540.3 51.8L539.6 52.7L537.6 53.8L536.3 54.9L536.1 55.9L537.2 56.6L536.8 57.5L535.6 58.4L535.5 59.4L534.9 60.0L533.5 60.6L532.4 60.6L532.1 59.9L531.4 58.8L530.7 57.5L530.2 57.1L529.3 57.6L528.0 58.3L526.7 58.2L525.9 57.5L525.4 56.2L525.4 54.9L527.2 54.0L528.9 53.5L530.7 52.5L532.0 51.4L533.3 50.3L534.6 49.2L536.3 48.4L538.5 47.9L541.1 47.3ZM363.8 48.8L366.4 49.4L369.9 50.5L372.5 51.2L370.8 52.7L368.2 52.5L365.5 51.8L363.8 52.1ZM549.4 82.8L550.6 84.9L552.1 88.0L553.4 90.2L553.6 92.3L554.7 93.2L555.6 95.4L557.0 96.3L558.8 98.0L558.9 98.9L559.9 99.8L562.1 99.1L563.9 99.1L565.8 98.6L565.6 99.8L564.7 101.9L563.4 104.1L561.7 106.3L559.5 108.0L557.7 109.8L556.4 111.3L555.6 112.8L554.9 114.6L555.6 116.3L556.0 118.0L556.5 120.2L556.4 122.4L554.7 124.0L552.9 125.3L551.6 126.3L552.0 128.1L552.1 129.8L549.9 131.1L549.7 132.4L549.3 134.0L548.1 135.0L546.8 136.6L545.1 137.9L543.3 138.5L540.7 138.6L538.5 139.2L537.2 138.7L536.9 137.2L536.3 135.5L535.5 133.8L534.3 132.2L533.7 129.8L533.5 128.1L532.4 126.3L531.4 124.6L531.5 122.4L532.8 119.8L533.0 118.0L532.4 116.6L531.8 114.1L531.4 112.8L529.8 111.3L528.9 109.8L529.3 108.2L529.5 106.7L529.3 105.5L528.5 105.0L527.2 105.1L526.1 105.1L525.0 103.4L523.2 103.4L521.9 103.8L519.3 104.7L517.6 104.4L514.5 105.1L513.2 104.5L511.6 103.3L510.1 102.4L509.4 101.1L508.1 99.5L507.1 98.4L506.4 97.1L505.8 96.1L506.6 95.0L506.8 93.2L506.6 91.9L506.2 90.6L507.1 88.4L508.1 86.7L509.7 84.8L511.0 84.1L512.3 83.2L512.6 81.9L513.6 79.9L515.1 79.3L515.9 77.7L516.4 77.6L518.4 78.1L519.3 78.3L521.0 77.7L522.4 77.1L523.7 76.8L525.4 76.8L527.6 76.7L529.6 76.4L530.7 76.7L530.0 77.5L530.5 78.8L530.0 79.3L530.7 79.9L532.4 80.2L534.3 80.8L534.6 81.5L536.3 82.0L537.8 82.5L538.5 81.9L538.7 80.8L539.8 80.2L541.1 80.5L542.9 81.3L545.1 81.7L546.4 82.0L547.7 81.5L549.3 81.7ZM620.7 127.9L622.8 126.8L625.0 126.3L627.2 125.5L627.9 124.0L628.9 123.7L629.8 122.8L631.1 121.3L632.4 121.1L633.3 121.8L634.2 121.9L634.6 120.2L635.3 119.7L636.8 118.9L637.0 119.4L639.4 119.4L640.6 119.5L639.9 120.7L639.4 122.0L640.7 122.8L642.9 124.1L644.1 124.1L644.7 122.4L644.8 120.2L645.1 118.5L645.6 118.2L646.4 120.1L646.7 121.4L648.0 122.0L648.2 123.3L648.8 125.3L649.9 125.8L651.2 126.8L651.9 128.3L652.8 129.4L654.3 130.7L654.9 131.5L655.1 133.5L654.7 135.5L654.3 137.2L653.2 138.3L652.4 140.3L652.1 141.5L650.3 141.9L648.9 142.9L647.7 142.4L646.4 142.7L644.2 142.2L643.2 141.1L642.7 140.0L641.8 139.8L641.6 138.8L641.3 137.6L640.7 138.5L639.9 139.2L639.4 139.0L638.3 137.6L636.8 136.8L635.5 136.3L633.3 136.6L631.1 137.0L629.4 137.6L628.9 138.4L626.8 138.4L625.4 138.9L624.1 139.4L622.4 139.3L621.5 138.8L621.7 138.1L622.1 136.8L621.5 135.0L621.1 133.7L620.5 132.0L620.0 130.2L620.2 128.5ZM363.8 183.2L376.9 183.4L392.6 183.2L391.8 181.2L386.5 180.4L392.6 179.6L386.5 178.9L383.3 177.8L378.7 178.1L379.5 177.0L383.3 175.8L388.7 175.5L394.1 174.6L401.8 174.6L409.6 173.4L414.2 172.1L418.8 172.8L425.0 172.8L431.2 172.1L435.9 171.3L443.6 171.9L449.9 172.1L456.1 171.2L459.9 171.2L461.6 169.0L463.4 167.3L465.1 165.8L467.8 164.7L470.8 164.0L469.9 165.1L467.8 166.0L466.4 167.3L465.1 169.0L466.9 170.7L467.8 172.9L466.9 174.7L463.4 176.0L468.6 176.8L477.4 177.1L483.5 176.8L489.6 176.8L494.8 175.5L501.8 173.8L507.9 172.5L512.3 171.0L521.0 170.3L529.8 169.9L538.5 169.9L547.3 169.4L554.2 169.4L560.4 168.0L566.5 166.4L570.8 167.1L575.2 167.7L580.5 168.1L582.2 169.9L584.8 169.4L589.2 168.4L595.3 167.1L601.4 166.8L608.4 166.2L615.4 166.8L621.5 166.7L627.6 167.0L634.6 166.6L640.7 166.7L646.0 167.3L652.1 168.6L658.2 169.3L663.4 170.3L667.8 171.2L670.0 172.1L666.9 173.8L664.3 175.5L663.4 176.8L666.9 177.3L665.2 179.0L660.8 180.3L669.6 181.5L678.3 182.5L678.3 187.3L363.8 187.3ZM516.1 65.3L518.0 65.1L519.7 64.7L522.2 64.3L521.7 64.0L522.5 63.0L521.3 62.7L520.9 61.9L519.7 61.0L519.3 60.1L518.6 59.9L519.5 58.8L518.0 58.6L518.4 57.9L516.7 57.9L516.0 58.8L516.2 59.9L516.9 60.6L516.7 61.2L518.3 61.2L518.4 62.3L517.1 62.5L517.4 63.2L516.5 63.8L518.2 64.1L517.3 64.4ZM515.6 63.4L515.8 62.3L516.2 61.4L515.5 60.8L513.9 60.8L513.6 61.5L512.3 61.7L512.5 62.5L512.8 62.9L512.1 63.6L512.7 64.0L514.1 63.8ZM501.4 53.2L503.3 53.6L504.9 53.7L507.9 52.9L509.2 52.3L508.3 51.4L506.9 51.0L505.2 51.3L503.3 51.4L502.3 51.8L501.4 51.1L500.1 51.8L501.8 52.1L500.3 52.5L501.8 52.8ZM530.7 39.6L533.3 39.2L538.5 38.9L544.6 39.0L542.0 39.9L538.5 40.5L539.8 41.1L535.9 42.1L533.3 41.4L531.5 40.3ZM566.0 46.6L568.2 47.3L571.3 47.3L569.5 45.3L571.7 44.0L575.2 42.7L580.9 42.0L578.7 41.8L573.5 42.4L570.0 43.3L568.2 44.9L566.5 45.9ZM604.0 39.9L608.4 39.4L612.8 40.3L608.4 41.0ZM640.7 43.1L645.1 42.7L652.1 43.3L647.7 43.7L643.4 44.0ZM645.1 61.6L646.0 62.7L646.2 64.5L646.8 66.0L646.0 68.0L645.1 68.8L645.1 67.1L645.1 65.3L644.9 63.6ZM643.4 72.7L644.7 71.9L646.0 72.3L648.2 71.2L647.3 70.6L645.1 69.3L644.7 70.6L643.6 71.4ZM644.2 72.9L645.1 74.5L644.2 75.8L644.1 77.5L643.4 78.4L642.0 78.7L640.7 78.8L640.1 79.7L639.0 79.6L639.0 78.8L637.2 79.0L635.5 79.3L635.5 78.8L636.8 78.1L639.4 77.9L640.6 76.4L641.0 76.8L642.0 76.3L642.9 75.4L643.4 74.1L643.6 73.2ZM634.6 79.7L635.9 79.6L636.2 80.6L635.5 81.6L634.9 81.6L634.8 80.6L634.4 80.0ZM636.8 79.5L638.6 79.1L638.3 79.8L637.2 80.3L636.7 80.0ZM626.8 86.9L627.6 87.1L627.2 88.4L626.6 89.7L626.1 88.9L626.3 87.6ZM616.0 92.1L617.4 91.4L618.0 91.8L617.1 93.0L616.0 92.8ZM626.3 92.8L627.8 92.9L627.6 94.5L627.2 95.8L627.6 96.7L629.4 97.6L628.9 97.7L627.6 97.0L626.6 96.9L626.1 96.0L625.9 94.8ZM627.6 102.8L628.9 101.5L630.7 100.4L631.6 102.4L631.1 103.4L630.6 103.8L629.4 103.0L628.8 102.4ZM629.4 99.3L630.7 98.1L630.7 99.3L630.3 100.2ZM627.6 98.6L628.5 98.9L628.8 100.6L628.1 100.6L627.6 99.8ZM623.5 101.5L625.4 99.3L625.0 100.2L624.0 101.3ZM616.3 107.6L616.7 107.2L618.0 107.5L618.3 106.7L619.8 106.1L620.6 104.9L622.0 104.1L623.1 102.8L623.9 103.4L625.2 104.3L624.1 105.2L623.9 106.3L625.0 108.0L623.7 108.5L623.7 109.6L622.8 110.5L622.4 112.2L621.2 112.4L619.8 111.7L618.7 111.9L617.3 111.3L617.1 110.2L616.3 109.2ZM604.3 104.0L606.2 104.4L607.3 105.6L608.8 107.0L609.7 107.2L611.5 108.5L611.7 109.8L612.8 110.8L613.7 111.7L613.5 114.0L612.3 113.9L610.4 112.4L609.1 110.9L608.0 109.2L607.3 107.4L606.0 106.1L604.5 104.7ZM613.0 114.8L613.8 114.1L615.8 114.6L617.8 114.6L619.5 114.9L621.1 115.7L620.9 116.4L618.0 116.1L615.4 115.7L613.9 115.3ZM621.5 116.2L623.3 116.1L625.0 116.2L626.8 116.3L628.5 116.1L628.3 116.6L625.9 116.7L623.3 116.7L621.7 116.6ZM628.9 117.9L630.3 116.9L632.2 116.2L631.6 116.9L629.8 117.8ZM625.7 108.2L626.6 107.8L628.5 108.1L630.3 107.6L629.6 108.6L627.2 108.5L626.1 108.9L626.1 109.7L626.9 109.8L628.8 109.6L627.4 110.6L628.3 112.4L627.8 113.1L627.2 112.8L626.8 111.3L626.1 111.5L626.2 113.7L625.4 113.7L625.4 111.9L624.8 111.3L625.3 109.9L625.7 108.9ZM635.5 109.6L636.8 109.2L638.1 109.6L638.3 111.1L639.0 111.8L639.9 110.8L641.4 110.2L642.9 110.8L644.2 111.2L646.4 111.9L647.3 112.2L648.3 113.1L648.4 113.7L649.6 114.1L650.2 114.7L649.5 115.0L650.5 116.0L651.7 117.2L652.7 117.9L651.9 118.1L650.2 117.6L649.0 116.7L647.7 115.7L646.4 116.1L646.0 116.9L644.2 116.8L642.9 116.0L641.6 116.2L642.3 115.2L641.9 114.0L639.7 112.8L637.7 112.2L637.1 112.4L636.4 111.4L637.7 111.1L636.6 110.8L635.5 110.0ZM632.9 111.5L635.3 111.8L634.2 112.0ZM632.6 107.2L633.0 108.2L633.4 109.6L632.7 108.6ZM650.8 113.9L652.5 113.7L653.8 112.6L654.0 113.3L652.5 114.3ZM664.3 126.5L666.5 128.1L666.9 128.4L665.2 127.4ZM647.5 144.4L649.0 144.7L650.6 144.5L650.5 145.9L649.5 146.8L648.2 146.2L647.9 145.5ZM671.9 139.0L673.5 140.5L674.4 141.1L675.2 141.8L676.8 141.7L676.1 143.0L675.5 144.0L674.2 145.1L673.8 144.9L673.9 143.7L672.9 143.1L673.7 142.3L673.5 141.1L672.4 139.6ZM671.9 144.3L673.2 145.2L672.2 146.5L670.7 147.5L670.3 148.8L668.7 149.5L667.4 149.1L666.5 148.7L668.1 147.2L670.0 146.2L671.3 144.6ZM564.1 119.4L565.0 122.2L564.3 124.1L563.4 126.8L562.3 130.5L560.5 131.1L559.2 129.4L558.9 127.9L559.8 126.3L559.5 124.1L560.4 122.8L562.1 122.0L563.2 120.7ZM590.9 100.4L592.0 101.5L592.5 102.8L591.8 103.6L590.9 103.7L590.7 101.9ZM446.8 89.8L448.5 88.9L450.7 88.8L453.3 90.0L455.1 90.8L456.2 91.3L453.3 91.6L453.3 91.0L452.0 90.1L449.9 89.6L448.1 89.6ZM456.1 92.9L457.3 91.6L459.9 91.7L461.3 92.7L459.5 93.0L458.4 93.5L457.7 93.0ZM452.6 93.0L454.4 93.1L453.6 93.4ZM462.3 92.9L463.7 93.0L463.0 93.3ZM469.2 67.3L470.8 64.6L472.6 64.0L472.1 65.3L474.3 66.0L474.9 67.5L474.3 68.2L472.6 68.0L472.1 67.3ZM467.3 51.0L464.3 49.7L461.6 47.9L459.0 46.8L453.8 45.3L450.3 44.7L446.4 44.9L443.3 45.3L442.4 46.2L444.2 47.5L446.8 47.9L449.4 47.9L452.0 48.4L454.7 49.2L457.3 49.7L456.8 51.0L456.4 52.3L453.3 52.7L456.4 52.7L459.0 53.6L461.6 54.5L464.3 55.1L464.3 54.0L461.6 53.6L463.4 52.7L465.1 53.6L466.9 52.3ZM429.3 48.8L432.4 47.9L430.2 47.1L429.3 45.7L426.7 45.1L423.2 45.5L418.8 45.3L417.5 46.6L418.8 47.9L422.3 48.8L425.8 49.1ZM411.8 46.2L413.6 44.4L418.4 44.3L419.7 45.3L416.2 46.6L413.2 46.8ZM442.4 42.3L445.9 41.0L445.0 39.6L441.6 37.9L451.2 36.6L461.6 36.6L466.9 37.2L461.6 38.5L458.1 39.6L454.7 40.5L452.0 41.8L449.4 42.4ZM441.6 43.8L451.2 43.9L450.7 42.9L444.2 42.3L440.7 42.7ZM438.1 46.2L442.0 45.3L441.6 44.4L438.1 44.4ZM433.7 46.6L436.3 45.7L435.4 44.6L432.4 45.3ZM418.8 43.6L425.0 42.7L428.4 43.1L426.7 43.7L421.5 44.0ZM437.2 40.1L441.6 39.2L444.2 40.1L440.7 40.8ZM445.0 53.1L447.2 51.4L450.3 52.7L448.5 54.0L446.4 53.6ZM408.8 64.6L411.4 65.2L413.2 66.7L411.8 66.5ZM404.9 61.9L406.2 62.3L406.6 63.4L405.3 62.7ZM386.1 58.8L388.0 58.4L387.8 59.1L386.5 59.4ZM529.1 72.9L529.5 71.5L529.3 72.7ZM528.3 74.8L528.3 73.3L529.5 73.4L529.4 74.8ZM532.0 75.8L534.6 75.6L534.3 76.8L532.1 76.1ZM541.7 78.1L543.9 78.1L542.5 78.4ZM549.3 78.4L551.2 77.9L550.6 78.7ZM384.5 91.7L385.9 92.0M382.5 90.1L383.9 90.4M381.0 89.6L382.4 89.9M369.8 120.7L371.2 121.0M389.8 124.1L391.2 124.4M440.9 109.2L442.3 109.6M581.1 151.8L582.5 152.1M468.8 153.8L470.2 154.1M488.0 156.1L489.4 156.5M675.9 124.2L677.3 124.6M677.2 123.1L678.6 123.4M568.8 127.1L570.2 127.5M570.6 126.3L572.0 126.7M374.9 61.9L376.3 62.3M373.1 62.4L374.5 62.7M371.0 63.0L372.4 63.3M368.3 63.3L369.7 63.6M365.7 63.6L367.1 64.0M675.9 63.7L677.3 64.0M673.2 63.2L674.6 63.5M671.5 62.7L672.9 63.1M647.9 70.0L649.3 70.3M649.6 69.3L651.0 69.6M651.8 68.4L653.2 68.7M653.6 67.5L655.0 67.9M655.3 66.0L656.7 66.4M660.1 117.0L661.5 117.3M658.4 115.7L659.8 116.0M656.6 114.8L658.0 115.2M666.2 122.2L667.6 122.6M667.4 124.1L668.8 124.5M467.1 96.1L468.5 96.4M466.6 94.6L468.0 95.0M466.9 99.6L468.3 99.9M498.1 75.8L499.5 76.1M505.9 84.1L507.3 84.4M506.8 84.3L508.2 84.7M499.4 95.7L500.8 96.0M584.1 105.2L585.5 105.6M601.4 98.3L602.8 98.6M646.8 97.1L648.2 97.4M568.4 38.6L569.8 38.9M572.8 38.3L574.2 38.7M364.0 46.7L365.4 47.1M665.4 60.8L666.8 61.2M463.8 80.6L465.2 80.9M562.1 69.7L563.9 68.4L566.0 68.0L567.4 68.4L567.4 69.7L565.6 70.1L565.2 71.9L566.9 72.3L568.1 73.6L567.4 74.9L568.2 76.4L566.5 76.9L564.7 76.4L563.9 75.4L564.3 73.6L563.0 72.3L562.1 71.0ZM545.5 72.4L546.4 73.0L548.6 73.0L550.3 72.3L551.6 72.3L552.9 72.9L554.7 73.2L557.3 72.7L557.4 71.9L556.0 71.0L554.7 70.2L553.4 69.9L552.9 69.5L551.9 69.7L550.4 70.2L549.4 69.4L550.3 68.7L548.6 68.3L547.3 69.0L547.0 69.7L546.1 70.6L545.5 71.6ZM551.8 69.2L552.9 69.4L553.8 69.1L554.4 68.7L555.3 67.8L553.8 68.0L552.1 68.4ZM440.7 68.1L442.9 67.1L444.2 66.4L446.4 67.3L447.1 68.2L445.0 68.4L442.4 68.2ZM444.3 72.3L444.2 70.1L445.5 69.0L446.8 69.0L445.7 70.6L445.5 72.3ZM447.2 68.8L449.9 68.8L451.2 69.7L450.7 70.1L449.7 69.9L449.7 71.3L449.0 71.4L448.1 70.1ZM448.3 72.5L450.3 72.7L452.0 71.7L450.7 71.7L449.0 72.1ZM451.4 71.2L454.2 71.0L454.4 70.4L452.0 70.7ZM413.6 51.2L416.2 50.5L418.0 51.4L416.2 52.3L414.0 52.0ZM418.8 55.8L421.5 54.5L425.0 54.2L423.2 55.3L420.6 55.9ZM435.0 64.9L436.3 64.0L435.4 62.0L434.6 62.7L435.4 63.6ZM549.0 109.3L550.8 108.7L550.9 110.2L549.9 111.3L548.8 110.8ZM572.2 70.6L573.0 68.6L574.8 68.8L574.3 70.1L573.0 70.8ZM546.6 111.9L546.9 113.3L547.7 114.8L548.1 116.5M550.8 117.3L551.3 118.9L551.5 120.2L551.8 121.4M611.9 64.0L613.7 63.2L615.8 61.9L617.0 60.4M585.3 68.8L587.0 68.2L588.3 68.4L590.1 68.6M532.8 97.6L533.7 97.1L533.5 97.8L532.8 97.6M552.5 106.5L552.7 105.0" fill="none" stroke="#000" stroke-width="0.9" stroke-linejoin="round"/>
<path d="M409.2 72.3H420.6V82.8H409.2ZM494.8 69.7H573.5V82.8H494.8ZM455.5 135.0H464.3V143.7H455.5ZM529.8 135.0H538.5V143.7H529.8ZM616.7 136.3H652.1V145.5H616.7Z" stroke="#000" stroke-width="1.3" fill="none"/>
<path d="M363.80 187.3v5.3M416.22 187.3v5.3M468.63 187.3v5.3M521.05 187.3v5.3M573.47 187.3v5.3M625.88 187.3v5.3M678.30 187.3v5.3M363.8 30.50h-5.3M363.8 56.63h-5.3M363.8 82.77h-5.3M363.8 108.90h-5.3M363.8 135.03h-5.3M363.8 161.17h-5.3M363.8 187.30h-5.3" stroke="#000" stroke-width="1.1" fill="none"/>
<rect x="363.8" y="30.5" width="314.5" height="156.8" stroke="#000" stroke-width="1.4" fill="none"/>
<text x="363.8" y="207.0" font-size="9.3" text-anchor="middle" fill="#000" stroke="#000" stroke-width="0.22">180</text>
<text x="416.2" y="207.0" font-size="9.3" text-anchor="middle" fill="#000" stroke="#000" stroke-width="0.22">120W</text>
<text x="468.6" y="207.0" font-size="9.3" text-anchor="middle" fill="#000" stroke="#000" stroke-width="0.22">60W</text>
<text x="521.0" y="207.0" font-size="9.3" text-anchor="middle" fill="#000" stroke="#000" stroke-width="0.22">0</text>
<text x="573.5" y="207.0" font-size="9.3" text-anchor="middle" fill="#000" stroke="#000" stroke-width="0.22">60E</text>
<text x="625.9" y="207.0" font-size="9.3" text-anchor="middle" fill="#000" stroke="#000" stroke-width="0.22">120E</text>
<text x="678.3" y="207.0" font-size="9.3" text-anchor="middle" fill="#000" stroke="#000" stroke-width="0.22">180</text>
<clipPath id="cpc"><rect x="28.7" y="302.3" width="314.40" height="157.10"/></clipPath>
<g clip-path="url(#cpc)"><g transform="translate(28,302)" shape-rendering="crispEdges">
<path fill="#0a3a80" d="M0 12h7v1h-7zM308 12h8v1h-8zM0 13h25v1h-25zM299 13h17v1h-17zM0 14h29v1h-29zM297 14h19v1h-19zM0 15h31v1h-31zM295 15h21v1h-21zM0 16h32v1h-32zM295 16h21v1h-21zM0 17h33v1h-33zM294 17h22v1h-22zM0 18h34v1h-34zM294 18h22v1h-22zM0 19h33v1h-33zM294 19h22v1h-22zM0 20h32v1h-32zM294 20h22v1h-22zM0 21h30v1h-30zM294 21h22v1h-22zM0 22h29v1h-29zM294 22h22v1h-22zM0 23h27v1h-27zM294 23h22v1h-22zM0 24h24v1h-24zM294 24h22v1h-22zM0 25h21v1h-21zM294 25h22v1h-22zM0 26h18v1h-18zM293 26h23v1h-23zM0 27h14v1h-14zM293 27h23v1h-23zM0 28h9v1h-9zM294 28h22v1h-22zM0 29h5v1h-5zM297 29h19v1h-19zM0 30h2v1h-2zM304 30h12v1h-12zM283 129h3v1h-3zM278 130h13v1h-13zM275 131h19v1h-19zM270 132h26v1h-26zM266 133h33v1h-33zM264 134h38v1h-38zM263 135h38v1h-38zM215 136h8v1h-8zM263 136h36v1h-36zM109 137h33v1h-33zM213 137h12v1h-12zM263 137h34v1h-34zM106 138h47v1h-47zM214 138h10v1h-10zM263 138h32v1h-32zM103 139h43v1h-43zM217 139h4v1h-4zM264 139h29v1h-29zM43 140h99v1h-99zM41 141h99v1h-99zM43 142h93v1h-93zM47 143h74v1h-74z"/>
<path fill="#1560ae" d="M0 11h8v1h-8zM306 11h10v1h-10zM7 12h18v1h-18zM298 12h10v1h-10zM25 13h5v1h-5zM295 13h4v1h-4zM29 14h4v1h-4zM293 14h4v1h-4zM31 15h5v1h-5zM292 15h3v1h-3zM32 16h6v1h-6zM292 16h3v1h-3zM33 17h6v1h-6zM292 17h2v1h-2zM34 18h5v1h-5zM292 18h2v1h-2zM33 19h6v1h-6zM292 19h2v1h-2zM32 20h6v1h-6zM292 20h2v1h-2zM30 21h5v1h-5zM291 21h3v1h-3zM29 22h4v1h-4zM291 22h3v1h-3zM27 23h3v1h-3zM291 23h3v1h-3zM24 24h4v1h-4zM290 24h4v1h-4zM21 25h4v1h-4zM290 25h4v1h-4zM18 26h5v1h-5zM289 26h4v1h-4zM14 27h5v1h-5zM289 27h4v1h-4zM9 28h6v1h-6zM289 28h5v1h-5zM5 29h5v1h-5zM289 29h8v1h-8zM2 30h5v1h-5zM290 30h14v1h-14zM0 31h3v1h-3zM295 31h21v1h-21zM275 128h18v1h-18zM270 129h13v1h-13zM286 129h10v1h-10zM267 130h11v1h-11zM291 130h8v1h-8zM264 131h11v1h-11zM294 131h15v1h-15zM261 132h9v1h-9zM296 132h17v1h-17zM213 133h12v1h-12zM256 133h10v1h-10zM299 133h15v1h-15zM158 134h106v1h-106zM302 134h14v1h-14zM0 135h2v1h-2zM104 135h159v1h-159zM301 135h15v1h-15zM0 136h1v1h-1zM38 136h177v1h-177zM223 136h40v1h-40zM299 136h17v1h-17zM35 137h74v1h-74zM142 137h71v1h-71zM225 137h38v1h-38zM297 137h19v1h-19zM34 138h72v1h-72zM153 138h61v1h-61zM224 138h39v1h-39zM295 138h19v1h-19zM32 139h71v1h-71zM146 139h71v1h-71zM221 139h43v1h-43zM293 139h19v1h-19zM22 140h21v1h-21zM142 140h20v1h-20zM206 140h25v1h-25zM243 140h59v1h-59zM21 141h20v1h-20zM140 141h20v1h-20zM209 141h20v1h-20zM246 141h54v1h-54zM21 142h22v1h-22zM136 142h22v1h-22zM212 142h14v1h-14zM249 142h49v1h-49zM22 143h25v1h-25zM121 143h35v1h-35zM252 143h44v1h-44zM32 144h114v1h-114zM255 144h12v1h-12zM37 145h99v1h-99zM42 146h81v1h-81zM45 147h21v1h-21zM49 148h8v1h-8z"/>
<path fill="#2a78c0" d="M0 9h2v1h-2zM306 9h10v1h-10zM0 10h12v1h-12zM300 10h16v1h-16zM8 11h19v1h-19zM294 11h12v1h-12zM25 12h6v1h-6zM291 12h7v1h-7zM30 13h6v1h-6zM289 13h6v1h-6zM33 14h7v1h-7zM288 14h5v1h-5zM36 15h6v1h-6zM288 15h4v1h-4zM38 16h5v1h-5zM288 16h4v1h-4zM39 17h5v1h-5zM288 17h4v1h-4zM39 18h5v1h-5zM288 18h4v1h-4zM39 19h5v1h-5zM288 19h4v1h-4zM38 20h5v1h-5zM288 20h4v1h-4zM35 21h6v1h-6zM288 21h3v1h-3zM33 22h5v1h-5zM288 22h3v1h-3zM30 23h5v1h-5zM287 23h4v1h-4zM28 24h4v1h-4zM286 24h4v1h-4zM25 25h5v1h-5zM286 25h4v1h-4zM23 26h4v1h-4zM285 26h4v1h-4zM19 27h5v1h-5zM284 27h5v1h-5zM15 28h7v1h-7zM284 28h5v1h-5zM10 29h8v1h-8zM284 29h5v1h-5zM7 30h6v1h-6zM285 30h5v1h-5zM3 31h6v1h-6zM286 31h9v1h-9zM0 32h4v1h-4zM289 32h27v1h-27zM274 126h20v1h-20zM269 127h28v1h-28zM266 128h9v1h-9zM293 128h6v1h-6zM264 129h6v1h-6zM296 129h6v1h-6zM261 130h6v1h-6zM299 130h13v1h-13zM256 131h8v1h-8zM309 131h5v1h-5zM0 132h2v1h-2zM160 132h101v1h-101zM313 132h3v1h-3zM0 133h5v1h-5zM107 133h106v1h-106zM225 133h31v1h-31zM314 133h2v1h-2zM0 134h158v1h-158zM2 135h102v1h-102zM1 136h37v1h-37zM0 137h35v1h-35zM0 138h34v1h-34zM314 138h2v1h-2zM0 139h32v1h-32zM312 139h4v1h-4zM0 140h22v1h-22zM162 140h44v1h-44zM231 140h12v1h-12zM302 140h14v1h-14zM0 141h21v1h-21zM160 141h49v1h-49zM229 141h17v1h-17zM300 141h16v1h-16zM0 142h21v1h-21zM158 142h54v1h-54zM226 142h23v1h-23zM298 142h18v1h-18zM0 143h22v1h-22zM156 143h96v1h-96zM296 143h20v1h-20zM0 144h32v1h-32zM146 144h88v1h-88zM239 144h16v1h-16zM267 144h49v1h-49zM0 145h37v1h-37zM136 145h91v1h-91zM246 145h70v1h-70zM0 146h42v1h-42zM123 146h90v1h-90zM251 146h65v1h-65zM0 147h45v1h-45zM66 147h145v1h-145zM254 147h62v1h-62zM0 148h49v1h-49zM57 148h153v1h-153zM258 148h58v1h-58zM0 149h123v1h-123zM138 149h72v1h-72zM313 149h3v1h-3zM0 150h63v1h-63zM141 150h67v1h-67zM3 151h56v1h-56zM142 151h61v1h-61zM5 152h47v1h-47zM145 152h45v1h-45z"/>
<path fill="#3f8dcc" d="M266 5h48v1h-48zM0 6h2v1h-2zM265 6h51v1h-51zM0 7h6v1h-6zM265 7h51v1h-51zM0 8h15v1h-15zM267 8h49v1h-49zM2 9h25v1h-25zM278 9h28v1h-28zM12 10h19v1h-19zM172 10h7v1h-7zM215 10h8v1h-8zM279 10h21v1h-21zM27 11h11v1h-11zM280 11h14v1h-14zM31 12h12v1h-12zM281 12h10v1h-10zM36 13h9v1h-9zM282 13h7v1h-7zM40 14h6v1h-6zM282 14h6v1h-6zM42 15h5v1h-5zM283 15h5v1h-5zM43 16h5v1h-5zM284 16h4v1h-4zM44 17h4v1h-4zM284 17h4v1h-4zM44 18h5v1h-5zM285 18h3v1h-3zM44 19h4v1h-4zM285 19h3v1h-3zM43 20h4v1h-4zM285 20h3v1h-3zM41 21h4v1h-4zM285 21h3v1h-3zM38 22h5v1h-5zM284 22h4v1h-4zM35 23h5v1h-5zM283 23h4v1h-4zM32 24h4v1h-4zM282 24h4v1h-4zM30 25h4v1h-4zM281 25h5v1h-5zM27 26h4v1h-4zM280 26h5v1h-5zM24 27h5v1h-5zM280 27h4v1h-4zM22 28h5v1h-5zM279 28h5v1h-5zM18 29h7v1h-7zM279 29h5v1h-5zM13 30h10v1h-10zM279 30h6v1h-6zM9 31h11v1h-11zM280 31h6v1h-6zM4 32h9v1h-9zM281 32h8v1h-8zM0 33h7v1h-7zM284 33h32v1h-32zM277 124h9v1h-9zM270 125h26v1h-26zM266 126h8v1h-8zM294 126h5v1h-5zM264 127h5v1h-5zM297 127h4v1h-4zM261 128h5v1h-5zM299 128h9v1h-9zM258 129h6v1h-6zM302 129h11v1h-11zM251 130h10v1h-10zM312 130h4v1h-4zM0 131h4v1h-4zM158 131h98v1h-98zM314 131h2v1h-2zM2 132h158v1h-158zM5 133h102v1h-102zM234 144h5v1h-5zM227 145h19v1h-19zM213 146h38v1h-38zM211 147h43v1h-43zM210 148h48v1h-48zM123 149h15v1h-15zM210 149h103v1h-103zM63 150h78v1h-78zM208 150h108v1h-108zM0 151h3v1h-3zM59 151h83v1h-83zM203 151h113v1h-113zM0 152h5v1h-5zM52 152h93v1h-93zM190 152h126v1h-126zM0 153h66v1h-66zM136 153h77v1h-77zM310 153h6v1h-6zM0 154h59v1h-59zM138 154h68v1h-68zM313 154h3v1h-3zM0 155h55v1h-55zM139 155h56v1h-56zM314 155h2v1h-2zM0 156h54v1h-54zM140 156h54v1h-54zM315 156h1v1h-1zM0 157h54v1h-54zM140 157h53v1h-53z"/>
<path fill="#5aa2d5" d="M0 0h316v1h-316zM0 1h316v1h-316zM0 2h112v1h-112zM138 2h178v1h-178zM0 3h108v1h-108zM141 3h175v1h-175zM0 4h105v1h-105zM143 4h173v1h-173zM0 5h103v1h-103zM144 5h122v1h-122zM314 5h2v1h-2zM2 6h100v1h-100zM145 6h120v1h-120zM6 7h93v1h-93zM147 7h118v1h-118zM15 8h79v1h-79zM152 8h115v1h-115zM27 9h30v1h-30zM155 9h123v1h-123zM31 10h24v1h-24zM158 10h14v1h-14zM179 10h36v1h-36zM223 10h56v1h-56zM38 11h16v1h-16zM159 11h121v1h-121zM43 12h10v1h-10zM161 12h75v1h-75zM255 12h26v1h-26zM45 13h8v1h-8zM164 13h67v1h-67zM275 13h7v1h-7zM46 14h7v1h-7zM170 14h54v1h-54zM277 14h5v1h-5zM47 15h7v1h-7zM185 15h28v1h-28zM279 15h4v1h-4zM48 16h6v1h-6zM191 16h21v1h-21zM280 16h4v1h-4zM48 17h6v1h-6zM196 17h14v1h-14zM281 17h3v1h-3zM49 18h5v1h-5zM199 18h10v1h-10zM281 18h4v1h-4zM48 19h6v1h-6zM201 19h7v1h-7zM282 19h3v1h-3zM47 20h5v1h-5zM282 20h3v1h-3zM45 21h5v1h-5zM281 21h4v1h-4zM43 22h4v1h-4zM86 22h5v1h-5zM280 22h4v1h-4zM40 23h4v1h-4zM84 23h10v1h-10zM279 23h4v1h-4zM36 24h5v1h-5zM84 24h10v1h-10zM278 24h4v1h-4zM34 25h4v1h-4zM84 25h9v1h-9zM277 25h4v1h-4zM31 26h4v1h-4zM275 26h5v1h-5zM29 27h4v1h-4zM274 27h6v1h-6zM27 28h4v1h-4zM272 28h7v1h-7zM25 29h5v1h-5zM272 29h7v1h-7zM23 30h6v1h-6zM272 30h7v1h-7zM20 31h8v1h-8zM272 31h8v1h-8zM13 32h14v1h-14zM273 32h8v1h-8zM7 33h19v1h-19zM275 33h9v1h-9zM0 34h24v1h-24zM278 34h38v1h-38zM282 35h7v1h-7zM273 123h19v1h-19zM267 124h10v1h-10zM286 124h11v1h-11zM264 125h6v1h-6zM296 125h5v1h-5zM261 126h5v1h-5zM299 126h5v1h-5zM259 127h5v1h-5zM301 127h9v1h-9zM255 128h6v1h-6zM308 128h5v1h-5zM0 129h1v1h-1zM164 129h94v1h-94zM313 129h3v1h-3zM0 130h5v1h-5zM157 130h94v1h-94zM4 131h154v1h-154zM66 153h70v1h-70zM213 153h97v1h-97zM59 154h79v1h-79zM206 154h107v1h-107zM55 155h84v1h-84zM195 155h119v1h-119zM54 156h86v1h-86zM194 156h121v1h-121zM54 157h86v1h-86zM193 157h123v1h-123z"/>
<path fill="#76badd" d="M112 2h26v1h-26zM108 3h8v1h-8zM132 3h9v1h-9zM105 4h7v1h-7zM138 4h5v1h-5zM103 5h6v1h-6zM140 5h4v1h-4zM102 6h5v1h-5zM142 6h3v1h-3zM99 7h6v1h-6zM143 7h4v1h-4zM94 8h9v1h-9zM144 8h8v1h-8zM57 9h44v1h-44zM145 9h10v1h-10zM55 10h44v1h-44zM147 10h11v1h-11zM54 11h42v1h-42zM149 11h10v1h-10zM53 12h41v1h-41zM152 12h9v1h-9zM236 12h19v1h-19zM53 13h39v1h-39zM154 13h10v1h-10zM231 13h44v1h-44zM53 14h38v1h-38zM156 14h14v1h-14zM224 14h53v1h-53zM54 15h36v1h-36zM158 15h27v1h-27zM213 15h25v1h-25zM253 15h26v1h-26zM54 16h37v1h-37zM160 16h31v1h-31zM212 16h23v1h-23zM256 16h24v1h-24zM54 17h38v1h-38zM163 17h33v1h-33zM210 17h22v1h-22zM258 17h11v1h-11zM277 17h4v1h-4zM54 18h10v1h-10zM76 18h18v1h-18zM182 18h17v1h-17zM209 18h6v1h-6zM278 18h3v1h-3zM54 19h8v1h-8zM78 19h20v1h-20zM189 19h12v1h-12zM208 19h6v1h-6zM278 19h4v1h-4zM52 20h7v1h-7zM78 20h23v1h-23zM192 20h21v1h-21zM278 20h4v1h-4zM50 21h6v1h-6zM78 21h24v1h-24zM195 21h16v1h-16zM278 21h3v1h-3zM47 22h6v1h-6zM78 22h8v1h-8zM91 22h12v1h-12zM199 22h10v1h-10zM267 22h1v1h-1zM276 22h4v1h-4zM44 23h5v1h-5zM78 23h6v1h-6zM94 23h9v1h-9zM265 23h14v1h-14zM41 24h5v1h-5zM78 24h6v1h-6zM94 24h9v1h-9zM264 24h14v1h-14zM38 25h4v1h-4zM78 25h6v1h-6zM93 25h10v1h-10zM264 25h13v1h-13zM35 26h4v1h-4zM78 26h25v1h-25zM264 26h11v1h-11zM33 27h3v1h-3zM79 27h24v1h-24zM265 27h9v1h-9zM31 28h4v1h-4zM80 28h22v1h-22zM265 28h7v1h-7zM30 29h4v1h-4zM82 29h20v1h-20zM265 29h7v1h-7zM29 30h4v1h-4zM85 30h17v1h-17zM265 30h7v1h-7zM28 31h5v1h-5zM94 31h8v1h-8zM266 31h6v1h-6zM27 32h6v1h-6zM97 32h5v1h-5zM266 32h7v1h-7zM26 33h6v1h-6zM99 33h2v1h-2zM267 33h8v1h-8zM24 34h8v1h-8zM267 34h11v1h-11zM0 35h31v1h-31zM269 35h13v1h-13zM289 35h27v1h-27zM2 36h27v1h-27zM277 36h14v1h-14zM10 37h18v1h-18zM16 38h10v1h-10zM272 122h20v1h-20zM266 123h7v1h-7zM292 123h6v1h-6zM262 124h5v1h-5zM297 124h5v1h-5zM259 125h5v1h-5zM301 125h6v1h-6zM256 126h5v1h-5zM304 126h7v1h-7zM253 127h6v1h-6zM310 127h3v1h-3zM0 128h2v1h-2zM161 128h94v1h-94zM313 128h3v1h-3zM1 129h4v1h-4zM157 129h7v1h-7zM5 130h152v1h-152z"/>
<path fill="#a5d5ea" d="M116 3h16v1h-16zM112 4h5v1h-5zM131 4h7v1h-7zM109 5h4v1h-4zM137 5h3v1h-3zM107 6h4v1h-4zM139 6h3v1h-3zM105 7h4v1h-4zM140 7h3v1h-3zM103 8h3v1h-3zM141 8h3v1h-3zM101 9h4v1h-4zM142 9h3v1h-3zM99 10h4v1h-4zM143 10h4v1h-4zM96 11h6v1h-6zM144 11h5v1h-5zM94 12h6v1h-6zM145 12h7v1h-7zM92 13h7v1h-7zM146 13h8v1h-8zM91 14h6v1h-6zM147 14h9v1h-9zM90 15h7v1h-7zM148 15h10v1h-10zM238 15h15v1h-15zM91 16h7v1h-7zM150 16h10v1h-10zM235 16h21v1h-21zM92 17h8v1h-8zM152 17h11v1h-11zM232 17h26v1h-26zM269 17h8v1h-8zM64 18h12v1h-12zM94 18h8v1h-8zM154 18h28v1h-28zM215 18h26v1h-26zM249 18h29v1h-29zM62 19h16v1h-16zM98 19h6v1h-6zM156 19h33v1h-33zM214 19h26v1h-26zM251 19h27v1h-27zM59 20h19v1h-19zM101 20h4v1h-4zM158 20h34v1h-34zM213 20h26v1h-26zM251 20h27v1h-27zM56 21h22v1h-22zM102 21h4v1h-4zM160 21h35v1h-35zM211 21h29v1h-29zM250 21h28v1h-28zM53 22h25v1h-25zM103 22h3v1h-3zM164 22h35v1h-35zM209 22h58v1h-58zM268 22h8v1h-8zM49 23h8v1h-8zM60 23h18v1h-18zM103 23h4v1h-4zM167 23h98v1h-98zM46 24h6v1h-6zM65 24h13v1h-13zM103 24h4v1h-4zM170 24h69v1h-69zM250 24h14v1h-14zM42 25h5v1h-5zM69 25h9v1h-9zM103 25h4v1h-4zM176 25h43v1h-43zM255 25h9v1h-9zM39 26h4v1h-4zM71 26h7v1h-7zM103 26h3v1h-3zM198 26h12v1h-12zM258 26h6v1h-6zM36 27h4v1h-4zM72 27h7v1h-7zM103 27h3v1h-3zM259 27h6v1h-6zM35 28h3v1h-3zM74 28h6v1h-6zM102 28h4v1h-4zM260 28h5v1h-5zM34 29h3v1h-3zM75 29h7v1h-7zM102 29h4v1h-4zM261 29h4v1h-4zM33 30h4v1h-4zM77 30h8v1h-8zM102 30h4v1h-4zM262 30h3v1h-3zM33 31h4v1h-4zM79 31h15v1h-15zM102 31h3v1h-3zM262 31h4v1h-4zM33 32h4v1h-4zM81 32h16v1h-16zM102 32h3v1h-3zM262 32h4v1h-4zM32 33h5v1h-5zM83 33h16v1h-16zM101 33h4v1h-4zM263 33h4v1h-4zM32 34h5v1h-5zM89 34h16v1h-16zM263 34h4v1h-4zM31 35h6v1h-6zM93 35h11v1h-11zM264 35h5v1h-5zM0 36h2v1h-2zM29 36h8v1h-8zM95 36h8v1h-8zM264 36h13v1h-13zM291 36h25v1h-25zM0 37h10v1h-10zM28 37h8v1h-8zM98 37h4v1h-4zM265 37h27v1h-27zM313 37h3v1h-3zM5 38h11v1h-11zM26 38h10v1h-10zM266 38h20v1h-20zM9 39h26v1h-26zM13 40h22v1h-22zM18 41h15v1h-15zM23 42h5v1h-5zM271 121h22v1h-22zM264 122h8v1h-8zM292 122h7v1h-7zM260 123h6v1h-6zM298 123h6v1h-6zM257 124h5v1h-5zM302 124h6v1h-6zM254 125h5v1h-5zM307 125h4v1h-4zM208 126h12v1h-12zM251 126h5v1h-5zM311 126h3v1h-3zM0 127h2v1h-2zM159 127h94v1h-94zM313 127h3v1h-3zM2 128h3v1h-3zM155 128h6v1h-6zM5 129h152v1h-152z"/>
<path fill="#d5eefc" d="M117 4h14v1h-14zM113 5h4v1h-4zM131 5h6v1h-6zM111 6h3v1h-3zM136 6h3v1h-3zM109 7h3v1h-3zM138 7h2v1h-2zM106 8h4v1h-4zM139 8h2v1h-2zM105 9h3v1h-3zM140 9h2v1h-2zM103 10h3v1h-3zM141 10h2v1h-2zM102 11h3v1h-3zM142 11h2v1h-2zM100 12h4v1h-4zM142 12h3v1h-3zM99 13h4v1h-4zM143 13h3v1h-3zM97 14h5v1h-5zM143 14h4v1h-4zM97 15h5v1h-5zM143 15h5v1h-5zM98 16h5v1h-5zM143 16h7v1h-7zM100 17h4v1h-4zM143 17h9v1h-9zM102 18h4v1h-4zM143 18h11v1h-11zM241 18h8v1h-8zM104 19h3v1h-3zM143 19h13v1h-13zM240 19h11v1h-11zM105 20h3v1h-3zM143 20h15v1h-15zM239 20h12v1h-12zM106 21h3v1h-3zM144 21h16v1h-16zM240 21h10v1h-10zM106 22h4v1h-4zM147 22h17v1h-17zM57 23h3v1h-3zM107 23h3v1h-3zM150 23h17v1h-17zM52 24h13v1h-13zM107 24h4v1h-4zM153 24h17v1h-17zM239 24h11v1h-11zM47 25h22v1h-22zM107 25h3v1h-3zM163 25h13v1h-13zM219 25h36v1h-36zM43 26h7v1h-7zM62 26h9v1h-9zM106 26h4v1h-4zM167 26h31v1h-31zM210 26h48v1h-48zM40 27h6v1h-6zM65 27h7v1h-7zM106 27h3v1h-3zM170 27h89v1h-89zM38 28h5v1h-5zM68 28h6v1h-6zM106 28h3v1h-3zM173 28h49v1h-49zM251 28h9v1h-9zM37 29h4v1h-4zM70 29h5v1h-5zM106 29h3v1h-3zM176 29h43v1h-43zM254 29h7v1h-7zM37 30h4v1h-4zM71 30h6v1h-6zM106 30h3v1h-3zM179 30h37v1h-37zM256 30h6v1h-6zM37 31h4v1h-4zM73 31h6v1h-6zM105 31h3v1h-3zM258 31h4v1h-4zM37 32h5v1h-5zM75 32h6v1h-6zM105 32h3v1h-3zM259 32h3v1h-3zM37 33h5v1h-5zM76 33h7v1h-7zM105 33h3v1h-3zM259 33h4v1h-4zM37 34h5v1h-5zM78 34h11v1h-11zM105 34h3v1h-3zM260 34h3v1h-3zM37 35h6v1h-6zM80 35h13v1h-13zM104 35h4v1h-4zM260 35h4v1h-4zM37 36h6v1h-6zM83 36h12v1h-12zM103 36h5v1h-5zM260 36h4v1h-4zM36 37h8v1h-8zM86 37h12v1h-12zM102 37h5v1h-5zM260 37h5v1h-5zM292 37h21v1h-21zM0 38h5v1h-5zM36 38h8v1h-8zM89 38h17v1h-17zM261 38h5v1h-5zM286 38h7v1h-7zM311 38h5v1h-5zM2 39h7v1h-7zM35 39h9v1h-9zM92 39h12v1h-12zM261 39h27v1h-27zM5 40h8v1h-8zM35 40h9v1h-9zM98 40h3v1h-3zM262 40h17v1h-17zM8 41h10v1h-10zM33 41h11v1h-11zM263 41h10v1h-10zM12 42h11v1h-11zM28 42h15v1h-15zM54 42h5v1h-5zM265 42h5v1h-5zM16 43h25v1h-25zM54 43h6v1h-6zM20 44h18v1h-18zM53 44h7v1h-7zM54 45h6v1h-6zM54 46h6v1h-6zM57 47h1v1h-1zM205 56h4v1h-4zM146 57h5v1h-5zM204 57h6v1h-6zM143 58h11v1h-11zM204 58h6v1h-6zM142 59h13v1h-13zM205 59h4v1h-4zM141 60h13v1h-13zM141 61h11v1h-11zM141 62h10v1h-10zM141 63h8v1h-8zM142 64h6v1h-6zM102 84h1v1h-1zM101 85h4v1h-4zM100 86h5v1h-5zM100 87h5v1h-5zM100 88h5v1h-5zM101 89h4v1h-4zM102 90h1v1h-1zM277 119h7v1h-7zM270 120h23v1h-23zM263 121h8v1h-8zM293 121h7v1h-7zM259 122h5v1h-5zM299 122h6v1h-6zM255 123h5v1h-5zM304 123h5v1h-5zM209 124h10v1h-10zM252 124h5v1h-5zM308 124h4v1h-4zM161 125h93v1h-93zM311 125h3v1h-3zM0 126h2v1h-2zM157 126h51v1h-51zM220 126h31v1h-31zM314 126h2v1h-2zM2 127h3v1h-3zM152 127h7v1h-7zM5 128h16v1h-16zM44 128h111v1h-111z"/>
<path fill="#ffffff" d="M117 5h14v1h-14zM114 6h3v1h-3zM131 6h5v1h-5zM112 7h3v1h-3zM135 7h3v1h-3zM110 8h3v1h-3zM137 8h2v1h-2zM108 9h3v1h-3zM138 9h2v1h-2zM106 10h3v1h-3zM139 10h2v1h-2zM105 11h2v1h-2zM140 11h2v1h-2zM104 12h2v1h-2zM140 12h2v1h-2zM103 13h3v1h-3zM140 13h3v1h-3zM102 14h4v1h-4zM140 14h3v1h-3zM102 15h4v1h-4zM140 15h3v1h-3zM103 16h4v1h-4zM139 16h4v1h-4zM104 17h4v1h-4zM139 17h4v1h-4zM106 18h3v1h-3zM138 18h5v1h-5zM107 19h3v1h-3zM137 19h6v1h-6zM108 20h4v1h-4zM136 20h7v1h-7zM109 21h4v1h-4zM136 21h8v1h-8zM110 22h3v1h-3zM137 22h10v1h-10zM110 23h4v1h-4zM139 23h11v1h-11zM111 24h4v1h-4zM142 24h11v1h-11zM110 25h5v1h-5zM146 25h17v1h-17zM50 26h12v1h-12zM110 26h4v1h-4zM149 26h18v1h-18zM46 27h19v1h-19zM109 27h4v1h-4zM153 27h17v1h-17zM43 28h9v1h-9zM58 28h10v1h-10zM109 28h4v1h-4zM163 28h10v1h-10zM222 28h29v1h-29zM41 29h7v1h-7zM61 29h9v1h-9zM109 29h3v1h-3zM165 29h11v1h-11zM219 29h35v1h-35zM41 30h6v1h-6zM64 30h7v1h-7zM109 30h3v1h-3zM166 30h13v1h-13zM216 30h40v1h-40zM41 31h6v1h-6zM66 31h7v1h-7zM108 31h4v1h-4zM167 31h91v1h-91zM42 32h5v1h-5zM68 32h7v1h-7zM108 32h4v1h-4zM168 32h91v1h-91zM42 33h6v1h-6zM69 33h7v1h-7zM108 33h4v1h-4zM171 33h88v1h-88zM42 34h7v1h-7zM70 34h8v1h-8zM108 34h4v1h-4zM202 34h58v1h-58zM43 35h7v1h-7zM70 35h10v1h-10zM108 35h4v1h-4zM215 35h45v1h-45zM43 36h9v1h-9zM71 36h12v1h-12zM108 36h4v1h-4zM218 36h42v1h-42zM44 37h11v1h-11zM72 37h14v1h-14zM107 37h4v1h-4zM220 37h40v1h-40zM44 38h15v1h-15zM73 38h16v1h-16zM106 38h5v1h-5zM222 38h39v1h-39zM293 38h18v1h-18zM0 39h2v1h-2zM44 39h18v1h-18zM74 39h18v1h-18zM104 39h6v1h-6zM226 39h35v1h-35zM288 39h28v1h-28zM0 40h5v1h-5zM44 40h19v1h-19zM76 40h22v1h-22zM101 40h8v1h-8zM243 40h19v1h-19zM279 40h11v1h-11zM314 40h2v1h-2zM2 41h6v1h-6zM44 41h20v1h-20zM77 41h30v1h-30zM245 41h18v1h-18zM273 41h11v1h-11zM5 42h7v1h-7zM43 42h11v1h-11zM59 42h6v1h-6zM77 42h29v1h-29zM246 42h19v1h-19zM270 42h9v1h-9zM8 43h8v1h-8zM41 43h13v1h-13zM60 43h7v1h-7zM75 43h28v1h-28zM249 43h28v1h-28zM11 44h9v1h-9zM38 44h15v1h-15zM60 44h32v1h-32zM258 44h17v1h-17zM15 45h39v1h-39zM60 45h30v1h-30zM260 45h13v1h-13zM18 46h36v1h-36zM60 46h29v1h-29zM262 46h10v1h-10zM20 47h37v1h-37zM58 47h30v1h-30zM262 47h8v1h-8zM25 48h63v1h-63zM263 48h6v1h-6zM33 49h55v1h-55zM265 49h3v1h-3zM33 50h56v1h-56zM33 51h57v1h-57zM31 52h62v1h-62zM30 53h17v1h-17zM68 53h35v1h-35zM203 53h9v1h-9zM29 54h17v1h-17zM69 54h35v1h-35zM143 54h10v1h-10zM201 54h15v1h-15zM29 55h16v1h-16zM70 55h35v1h-35zM139 55h19v1h-19zM200 55h19v1h-19zM31 56h13v1h-13zM70 56h35v1h-35zM137 56h24v1h-24zM200 56h5v1h-5zM209 56h12v1h-12zM33 57h11v1h-11zM71 57h34v1h-34zM127 57h19v1h-19zM151 57h11v1h-11zM199 57h5v1h-5zM210 57h13v1h-13zM35 58h9v1h-9zM71 58h34v1h-34zM125 58h18v1h-18zM154 58h10v1h-10zM199 58h5v1h-5zM210 58h14v1h-14zM36 59h7v1h-7zM72 59h33v1h-33zM124 59h18v1h-18zM155 59h9v1h-9zM199 59h6v1h-6zM209 59h16v1h-16zM38 60h4v1h-4zM73 60h32v1h-32zM123 60h18v1h-18zM154 60h10v1h-10zM198 60h26v1h-26zM83 61h22v1h-22zM123 61h18v1h-18zM152 61h10v1h-10zM197 61h25v1h-25zM86 62h19v1h-19zM123 62h18v1h-18zM151 62h10v1h-10zM196 62h25v1h-25zM87 63h18v1h-18zM123 63h18v1h-18zM149 63h10v1h-10zM196 63h24v1h-24zM88 64h17v1h-17zM123 64h19v1h-19zM148 64h11v1h-11zM196 64h23v1h-23zM88 65h17v1h-17zM123 65h35v1h-35zM198 65h21v1h-21zM88 66h17v1h-17zM123 66h35v1h-35zM199 66h20v1h-20zM89 67h16v1h-16zM124 67h34v1h-34zM201 67h17v1h-17zM89 68h16v1h-16zM124 68h34v1h-34zM202 68h15v1h-15zM91 69h14v1h-14zM126 69h32v1h-32zM204 69h11v1h-11zM93 70h12v1h-12zM137 70h21v1h-21zM94 71h11v1h-11zM139 71h18v1h-18zM94 72h12v1h-12zM141 72h16v1h-16zM94 73h12v1h-12zM142 73h14v1h-14zM93 74h13v1h-13zM92 75h14v1h-14zM170 75h12v1h-12zM92 76h14v1h-14zM169 76h14v1h-14zM94 77h13v1h-13zM169 77h15v1h-15zM96 78h13v1h-13zM171 78h13v1h-13zM97 79h14v1h-14zM173 79h11v1h-11zM98 80h15v1h-15zM175 80h8v1h-8zM98 81h16v1h-16zM176 81h7v1h-7zM98 82h16v1h-16zM178 82h3v1h-3zM98 83h16v1h-16zM97 84h5v1h-5zM103 84h11v1h-11zM97 85h4v1h-4zM105 85h9v1h-9zM97 86h3v1h-3zM105 86h9v1h-9zM97 87h3v1h-3zM105 87h9v1h-9zM97 88h3v1h-3zM105 88h9v1h-9zM169 88h4v1h-4zM97 89h4v1h-4zM105 89h9v1h-9zM168 89h6v1h-6zM97 90h5v1h-5zM103 90h11v1h-11zM167 90h8v1h-8zM98 91h16v1h-16zM167 91h8v1h-8zM98 92h16v1h-16zM167 92h8v1h-8zM98 93h16v1h-16zM167 93h8v1h-8zM99 94h15v1h-15zM167 94h8v1h-8zM100 95h14v1h-14zM168 95h7v1h-7zM102 96h12v1h-12zM168 96h7v1h-7zM104 97h9v1h-9zM169 97h6v1h-6zM106 98h7v1h-7zM170 98h4v1h-4zM107 99h4v1h-4zM171 99h2v1h-2zM274 118h13v1h-13zM269 119h8v1h-8zM284 119h11v1h-11zM261 120h9v1h-9zM293 120h9v1h-9zM257 121h6v1h-6zM300 121h7v1h-7zM163 122h56v1h-56zM254 122h5v1h-5zM305 122h5v1h-5zM159 123h66v1h-66zM251 123h4v1h-4zM309 123h3v1h-3zM156 124h53v1h-53zM219 124h33v1h-33zM312 124h2v1h-2zM0 125h2v1h-2zM151 125h10v1h-10zM314 125h2v1h-2zM2 126h3v1h-3zM121 126h36v1h-36zM5 127h14v1h-14zM45 127h107v1h-107zM21 128h23v1h-23z"/>
<path fill="#fddad6" d="M117 6h14v1h-14zM115 7h3v1h-3zM130 7h5v1h-5zM113 8h3v1h-3zM134 8h3v1h-3zM111 9h3v1h-3zM136 9h2v1h-2zM109 10h3v1h-3zM137 10h2v1h-2zM107 11h3v1h-3zM138 11h2v1h-2zM106 12h3v1h-3zM138 12h2v1h-2zM106 13h3v1h-3zM138 13h2v1h-2zM106 14h3v1h-3zM138 14h2v1h-2zM106 15h3v1h-3zM137 15h3v1h-3zM107 16h3v1h-3zM136 16h3v1h-3zM108 17h3v1h-3zM135 17h4v1h-4zM109 18h4v1h-4zM134 18h4v1h-4zM110 19h4v1h-4zM133 19h4v1h-4zM112 20h3v1h-3zM132 20h4v1h-4zM113 21h3v1h-3zM131 21h5v1h-5zM113 22h4v1h-4zM130 22h7v1h-7zM114 23h5v1h-5zM129 23h10v1h-10zM115 24h27v1h-27zM115 25h31v1h-31zM114 26h6v1h-6zM133 26h16v1h-16zM113 27h5v1h-5zM140 27h13v1h-13zM52 28h6v1h-6zM113 28h5v1h-5zM146 28h17v1h-17zM48 29h13v1h-13zM112 29h5v1h-5zM148 29h17v1h-17zM47 30h17v1h-17zM112 30h5v1h-5zM149 30h17v1h-17zM47 31h19v1h-19zM112 31h5v1h-5zM149 31h18v1h-18zM47 32h21v1h-21zM112 32h5v1h-5zM150 32h18v1h-18zM48 33h21v1h-21zM112 33h5v1h-5zM150 33h21v1h-21zM49 34h21v1h-21zM112 34h5v1h-5zM152 34h50v1h-50zM50 35h20v1h-20zM112 35h5v1h-5zM164 35h51v1h-51zM52 36h19v1h-19zM112 36h4v1h-4zM188 36h30v1h-30zM55 37h17v1h-17zM111 37h5v1h-5zM200 37h20v1h-20zM59 38h14v1h-14zM111 38h5v1h-5zM202 38h20v1h-20zM62 39h12v1h-12zM110 39h6v1h-6zM206 39h20v1h-20zM63 40h13v1h-13zM109 40h6v1h-6zM216 40h27v1h-27zM290 40h24v1h-24zM0 41h2v1h-2zM64 41h13v1h-13zM107 41h7v1h-7zM217 41h28v1h-28zM284 41h8v1h-8zM311 41h5v1h-5zM0 42h5v1h-5zM65 42h12v1h-12zM106 42h8v1h-8zM218 42h28v1h-28zM279 42h8v1h-8zM314 42h2v1h-2zM2 43h6v1h-6zM67 43h8v1h-8zM103 43h10v1h-10zM219 43h30v1h-30zM277 43h6v1h-6zM4 44h7v1h-7zM92 44h21v1h-21zM219 44h39v1h-39zM275 44h6v1h-6zM6 45h9v1h-9zM90 45h22v1h-22zM220 45h40v1h-40zM273 45h6v1h-6zM9 46h9v1h-9zM89 46h23v1h-23zM220 46h42v1h-42zM272 46h6v1h-6zM12 47h8v1h-8zM88 47h25v1h-25zM222 47h40v1h-40zM270 47h7v1h-7zM14 48h11v1h-11zM88 48h25v1h-25zM241 48h22v1h-22zM269 48h6v1h-6zM15 49h18v1h-18zM88 49h25v1h-25zM244 49h21v1h-21zM268 49h6v1h-6zM17 50h16v1h-16zM89 50h25v1h-25zM247 50h26v1h-26zM17 51h16v1h-16zM90 51h26v1h-26zM141 51h5v1h-5zM200 51h19v1h-19zM253 51h18v1h-18zM18 52h13v1h-13zM93 52h25v1h-25zM134 52h19v1h-19zM197 52h27v1h-27zM259 52h8v1h-8zM18 53h12v1h-12zM47 53h21v1h-21zM103 53h57v1h-57zM194 53h9v1h-9zM212 53h14v1h-14zM17 54h12v1h-12zM46 54h23v1h-23zM104 54h39v1h-39zM153 54h11v1h-11zM185 54h16v1h-16zM216 54h12v1h-12zM17 55h12v1h-12zM45 55h25v1h-25zM105 55h34v1h-34zM158 55h9v1h-9zM177 55h23v1h-23zM219 55h11v1h-11zM15 56h16v1h-16zM44 56h26v1h-26zM105 56h32v1h-32zM161 56h9v1h-9zM174 56h26v1h-26zM221 56h10v1h-10zM4 57h29v1h-29zM44 57h27v1h-27zM105 57h22v1h-22zM162 57h37v1h-37zM223 57h10v1h-10zM0 58h35v1h-35zM44 58h27v1h-27zM105 58h20v1h-20zM164 58h35v1h-35zM224 58h10v1h-10zM311 58h5v1h-5zM0 59h36v1h-36zM43 59h29v1h-29zM105 59h19v1h-19zM164 59h35v1h-35zM225 59h9v1h-9zM276 59h40v1h-40zM0 60h38v1h-38zM42 60h31v1h-31zM105 60h18v1h-18zM164 60h34v1h-34zM224 60h10v1h-10zM276 60h40v1h-40zM0 61h83v1h-83zM105 61h18v1h-18zM162 61h35v1h-35zM222 61h10v1h-10zM277 61h39v1h-39zM0 62h86v1h-86zM105 62h18v1h-18zM161 62h35v1h-35zM221 62h10v1h-10zM278 62h38v1h-38zM0 63h87v1h-87zM105 63h18v1h-18zM159 63h37v1h-37zM220 63h9v1h-9zM279 63h37v1h-37zM0 64h88v1h-88zM105 64h18v1h-18zM159 64h37v1h-37zM219 64h10v1h-10zM280 64h36v1h-36zM0 65h88v1h-88zM105 65h18v1h-18zM158 65h40v1h-40zM219 65h9v1h-9zM280 65h36v1h-36zM0 66h88v1h-88zM105 66h18v1h-18zM158 66h41v1h-41zM219 66h9v1h-9zM280 66h36v1h-36zM0 67h89v1h-89zM105 67h19v1h-19zM158 67h11v1h-11zM173 67h14v1h-14zM189 67h12v1h-12zM218 67h9v1h-9zM281 67h35v1h-35zM0 68h89v1h-89zM105 68h19v1h-19zM158 68h11v1h-11zM173 68h14v1h-14zM190 68h12v1h-12zM217 68h9v1h-9zM282 68h34v1h-34zM0 69h91v1h-91zM105 69h21v1h-21zM158 69h46v1h-46zM215 69h10v1h-10zM283 69h33v1h-33zM0 70h93v1h-93zM105 70h32v1h-32zM158 70h65v1h-65zM303 70h13v1h-13zM0 71h94v1h-94zM105 71h34v1h-34zM157 71h64v1h-64zM305 71h11v1h-11zM0 72h94v1h-94zM106 72h35v1h-35zM157 72h63v1h-63zM307 72h9v1h-9zM0 73h94v1h-94zM106 73h36v1h-36zM156 73h62v1h-62zM308 73h8v1h-8zM0 74h93v1h-93zM106 74h109v1h-109zM311 74h5v1h-5zM0 75h92v1h-92zM106 75h64v1h-64zM182 75h31v1h-31zM313 75h3v1h-3zM0 76h92v1h-92zM106 76h63v1h-63zM183 76h28v1h-28zM2 77h92v1h-92zM107 77h62v1h-62zM184 77h27v1h-27zM5 78h91v1h-91zM109 78h62v1h-62zM184 78h26v1h-26zM24 79h73v1h-73zM111 79h62v1h-62zM184 79h26v1h-26zM26 80h72v1h-72zM113 80h62v1h-62zM183 80h27v1h-27zM28 81h62v1h-62zM93 81h5v1h-5zM114 81h62v1h-62zM183 81h27v1h-27zM30 82h59v1h-59zM93 82h5v1h-5zM114 82h64v1h-64zM181 82h29v1h-29zM49 83h39v1h-39zM94 83h4v1h-4zM114 83h96v1h-96zM52 84h36v1h-36zM94 84h3v1h-3zM114 84h97v1h-97zM53 85h35v1h-35zM93 85h4v1h-4zM114 85h97v1h-97zM55 86h33v1h-33zM93 86h4v1h-4zM114 86h98v1h-98zM57 87h31v1h-31zM93 87h4v1h-4zM114 87h100v1h-100zM60 88h28v1h-28zM93 88h4v1h-4zM114 88h55v1h-55zM173 88h44v1h-44zM61 89h27v1h-27zM93 89h4v1h-4zM114 89h54v1h-54zM174 89h44v1h-44zM63 90h25v1h-25zM94 90h3v1h-3zM114 90h53v1h-53zM175 90h44v1h-44zM65 91h23v1h-23zM94 91h4v1h-4zM114 91h53v1h-53zM175 91h44v1h-44zM68 92h20v1h-20zM94 92h4v1h-4zM114 92h53v1h-53zM175 92h13v1h-13zM207 92h12v1h-12zM70 93h19v1h-19zM94 93h4v1h-4zM114 93h53v1h-53zM175 93h12v1h-12zM209 93h9v1h-9zM71 94h18v1h-18zM93 94h6v1h-6zM114 94h53v1h-53zM175 94h11v1h-11zM211 94h7v1h-7zM73 95h27v1h-27zM114 95h54v1h-54zM175 95h12v1h-12zM213 95h3v1h-3zM76 96h26v1h-26zM114 96h14v1h-14zM161 96h7v1h-7zM175 96h14v1h-14zM78 97h26v1h-26zM113 97h12v1h-12zM163 97h6v1h-6zM175 97h15v1h-15zM80 98h26v1h-26zM113 98h10v1h-10zM164 98h6v1h-6zM174 98h16v1h-16zM82 99h25v1h-25zM111 99h10v1h-10zM164 99h7v1h-7zM173 99h16v1h-16zM91 100h28v1h-28zM165 100h23v1h-23zM95 101h22v1h-22zM166 101h20v1h-20zM98 102h17v1h-17zM166 102h19v1h-19zM102 103h11v1h-11zM167 103h16v1h-16zM108 104h1v1h-1zM169 104h12v1h-12zM171 109h16v1h-16zM169 110h20v1h-20zM168 111h22v1h-22zM167 112h24v1h-24zM167 113h25v1h-25zM166 114h28v1h-28zM166 115h32v1h-32zM165 116h36v1h-36zM164 117h40v1h-40zM272 117h18v1h-18zM162 118h46v1h-46zM267 118h7v1h-7zM287 118h12v1h-12zM160 119h56v1h-56zM259 119h10v1h-10zM295 119h10v1h-10zM157 120h63v1h-63zM255 120h6v1h-6zM302 120h7v1h-7zM155 121h69v1h-69zM252 121h5v1h-5zM307 121h4v1h-4zM145 122h18v1h-18zM219 122h35v1h-35zM310 122h3v1h-3zM136 123h23v1h-23zM225 123h26v1h-26zM312 123h4v1h-4zM0 124h2v1h-2zM122 124h34v1h-34zM314 124h2v1h-2zM2 125h3v1h-3zM55 125h96v1h-96zM5 126h11v1h-11zM44 126h77v1h-77zM19 127h26v1h-26z"/>
<path fill="#fcb9a6" d="M118 7h12v1h-12zM116 8h4v1h-4zM129 8h5v1h-5zM114 9h3v1h-3zM132 9h4v1h-4zM112 10h3v1h-3zM134 10h3v1h-3zM110 11h4v1h-4zM135 11h3v1h-3zM109 12h4v1h-4zM135 12h3v1h-3zM109 13h4v1h-4zM135 13h3v1h-3zM109 14h4v1h-4zM135 14h3v1h-3zM109 15h4v1h-4zM134 15h3v1h-3zM110 16h4v1h-4zM133 16h3v1h-3zM111 17h4v1h-4zM132 17h3v1h-3zM113 18h3v1h-3zM131 18h3v1h-3zM114 19h3v1h-3zM130 19h3v1h-3zM115 20h4v1h-4zM128 20h4v1h-4zM116 21h15v1h-15zM117 22h13v1h-13zM119 23h10v1h-10zM120 26h13v1h-13zM118 27h22v1h-22zM118 28h28v1h-28zM117 29h31v1h-31zM117 30h32v1h-32zM117 31h32v1h-32zM117 32h33v1h-33zM117 33h33v1h-33zM117 34h35v1h-35zM117 35h47v1h-47zM116 36h72v1h-72zM116 37h84v1h-84zM116 38h86v1h-86zM116 39h46v1h-46zM180 39h26v1h-26zM115 40h37v1h-37zM190 40h26v1h-26zM114 41h36v1h-36zM192 41h25v1h-25zM292 41h19v1h-19zM114 42h36v1h-36zM192 42h26v1h-26zM287 42h27v1h-27zM0 43h2v1h-2zM113 43h36v1h-36zM193 43h26v1h-26zM283 43h8v1h-8zM311 43h5v1h-5zM0 44h4v1h-4zM113 44h36v1h-36zM193 44h26v1h-26zM281 44h6v1h-6zM314 44h2v1h-2zM0 45h6v1h-6zM112 45h37v1h-37zM193 45h27v1h-27zM279 45h5v1h-5zM2 46h7v1h-7zM112 46h37v1h-37zM193 46h27v1h-27zM278 46h4v1h-4zM4 47h8v1h-8zM113 47h36v1h-36zM193 47h29v1h-29zM277 47h4v1h-4zM5 48h9v1h-9zM113 48h37v1h-37zM192 48h49v1h-49zM275 48h5v1h-5zM6 49h9v1h-9zM113 49h38v1h-38zM192 49h52v1h-52zM274 49h5v1h-5zM7 50h10v1h-10zM114 50h41v1h-41zM190 50h57v1h-57zM273 50h5v1h-5zM7 51h10v1h-10zM116 51h25v1h-25zM146 51h17v1h-17zM187 51h13v1h-13zM219 51h34v1h-34zM271 51h7v1h-7zM5 52h13v1h-13zM118 52h16v1h-16zM153 52h13v1h-13zM181 52h16v1h-16zM224 52h35v1h-35zM267 52h10v1h-10zM3 53h15v1h-15zM160 53h10v1h-10zM173 53h21v1h-21zM226 53h49v1h-49zM0 54h17v1h-17zM164 54h21v1h-21zM228 54h47v1h-47zM0 55h17v1h-17zM167 55h10v1h-10zM230 55h50v1h-50zM312 55h4v1h-4zM0 56h15v1h-15zM170 56h4v1h-4zM231 56h85v1h-85zM0 57h4v1h-4zM233 57h83v1h-83zM234 58h77v1h-77zM234 59h42v1h-42zM234 60h42v1h-42zM232 61h45v1h-45zM231 62h47v1h-47zM229 63h50v1h-50zM229 64h51v1h-51zM228 65h52v1h-52zM228 66h52v1h-52zM169 67h4v1h-4zM187 67h2v1h-2zM227 67h54v1h-54zM169 68h4v1h-4zM187 68h3v1h-3zM226 68h56v1h-56zM225 69h58v1h-58zM223 70h80v1h-80zM221 71h84v1h-84zM220 72h87v1h-87zM218 73h90v1h-90zM215 74h96v1h-96zM213 75h62v1h-62zM294 75h19v1h-19zM211 76h63v1h-63zM295 76h21v1h-21zM0 77h2v1h-2zM211 77h63v1h-63zM295 77h21v1h-21zM0 78h5v1h-5zM210 78h67v1h-67zM292 78h24v1h-24zM0 79h24v1h-24zM210 79h106v1h-106zM0 80h26v1h-26zM210 80h106v1h-106zM0 81h28v1h-28zM90 81h3v1h-3zM210 81h106v1h-106zM0 82h30v1h-30zM89 82h4v1h-4zM210 82h106v1h-106zM0 83h49v1h-49zM88 83h6v1h-6zM210 83h106v1h-106zM0 84h52v1h-52zM88 84h6v1h-6zM211 84h105v1h-105zM0 85h53v1h-53zM88 85h5v1h-5zM211 85h105v1h-105zM0 86h55v1h-55zM88 86h5v1h-5zM212 86h104v1h-104zM0 87h57v1h-57zM88 87h5v1h-5zM214 87h102v1h-102zM0 88h3v1h-3zM16 88h44v1h-44zM88 88h5v1h-5zM217 88h99v1h-99zM18 89h43v1h-43zM88 89h5v1h-5zM218 89h98v1h-98zM19 90h44v1h-44zM88 90h6v1h-6zM219 90h95v1h-95zM22 91h43v1h-43zM88 91h6v1h-6zM219 91h92v1h-92zM33 92h35v1h-35zM88 92h6v1h-6zM188 92h19v1h-19zM219 92h81v1h-81zM35 93h35v1h-35zM89 93h5v1h-5zM187 93h22v1h-22zM218 93h80v1h-80zM36 94h35v1h-35zM89 94h4v1h-4zM186 94h25v1h-25zM218 94h78v1h-78zM38 95h35v1h-35zM187 95h26v1h-26zM216 95h78v1h-78zM50 96h26v1h-26zM128 96h33v1h-33zM189 96h42v1h-42zM250 96h34v1h-34zM53 97h25v1h-25zM125 97h38v1h-38zM190 97h38v1h-38zM253 97h28v1h-28zM56 98h24v1h-24zM123 98h41v1h-41zM190 98h35v1h-35zM255 98h24v1h-24zM69 99h13v1h-13zM121 99h43v1h-43zM189 99h32v1h-32zM257 99h20v1h-20zM74 100h17v1h-17zM119 100h46v1h-46zM188 100h27v1h-27zM77 101h18v1h-18zM117 101h49v1h-49zM186 101h11v1h-11zM79 102h19v1h-19zM115 102h51v1h-51zM185 102h11v1h-11zM83 103h19v1h-19zM113 103h54v1h-54zM183 103h13v1h-13zM90 104h18v1h-18zM109 104h60v1h-60zM181 104h15v1h-15zM95 105h24v1h-24zM154 105h44v1h-44zM100 106h16v1h-16zM156 106h43v1h-43zM105 107h8v1h-8zM157 107h42v1h-42zM158 108h41v1h-41zM158 109h13v1h-13zM187 109h11v1h-11zM158 110h11v1h-11zM189 110h9v1h-9zM158 111h10v1h-10zM190 111h8v1h-8zM158 112h9v1h-9zM191 112h10v1h-10zM158 113h9v1h-9zM192 113h13v1h-13zM157 114h9v1h-9zM194 114h14v1h-14zM157 115h9v1h-9zM198 115h12v1h-12zM274 115h15v1h-15zM156 116h9v1h-9zM201 116h12v1h-12zM270 116h27v1h-27zM154 117h10v1h-10zM204 117h13v1h-13zM265 117h7v1h-7zM290 117h14v1h-14zM143 118h19v1h-19zM208 118h13v1h-13zM257 118h10v1h-10zM299 118h9v1h-9zM140 119h20v1h-20zM216 119h9v1h-9zM253 119h6v1h-6zM305 119h6v1h-6zM137 120h20v1h-20zM220 120h10v1h-10zM250 120h5v1h-5zM309 120h3v1h-3zM122 121h33v1h-33zM224 121h28v1h-28zM311 121h3v1h-3zM67 122h78v1h-78zM313 122h3v1h-3zM0 123h3v1h-3zM57 123h79v1h-79zM2 124h3v1h-3zM50 124h72v1h-72zM5 125h9v1h-9zM42 125h13v1h-13zM16 126h28v1h-28z"/>
<path fill="#fc9070" d="M120 8h9v1h-9zM117 9h15v1h-15zM115 10h5v1h-5zM130 10h4v1h-4zM114 11h4v1h-4zM132 11h3v1h-3zM113 12h4v1h-4zM132 12h3v1h-3zM113 13h4v1h-4zM132 13h3v1h-3zM113 14h4v1h-4zM132 14h3v1h-3zM113 15h4v1h-4zM131 15h3v1h-3zM114 16h4v1h-4zM130 16h3v1h-3zM115 17h5v1h-5zM129 17h3v1h-3zM116 18h15v1h-15zM117 19h13v1h-13zM119 20h9v1h-9zM162 39h18v1h-18zM152 40h38v1h-38zM150 41h19v1h-19zM173 41h19v1h-19zM150 42h17v1h-17zM177 42h15v1h-15zM149 43h17v1h-17zM179 43h14v1h-14zM291 43h20v1h-20zM149 44h16v1h-16zM181 44h12v1h-12zM287 44h27v1h-27zM149 45h16v1h-16zM183 45h10v1h-10zM284 45h32v1h-32zM0 46h2v1h-2zM149 46h16v1h-16zM183 46h10v1h-10zM282 46h9v1h-9zM311 46h5v1h-5zM0 47h4v1h-4zM149 47h16v1h-16zM184 47h9v1h-9zM281 47h7v1h-7zM313 47h3v1h-3zM0 48h5v1h-5zM150 48h16v1h-16zM183 48h9v1h-9zM280 48h6v1h-6zM313 48h3v1h-3zM0 49h6v1h-6zM151 49h16v1h-16zM182 49h10v1h-10zM279 49h6v1h-6zM313 49h3v1h-3zM0 50h7v1h-7zM155 50h14v1h-14zM179 50h11v1h-11zM278 50h6v1h-6zM313 50h3v1h-3zM0 51h7v1h-7zM163 51h24v1h-24zM278 51h7v1h-7zM312 51h4v1h-4zM0 52h5v1h-5zM166 52h15v1h-15zM277 52h39v1h-39zM0 53h3v1h-3zM170 53h3v1h-3zM275 53h41v1h-41zM275 54h41v1h-41zM280 55h32v1h-32zM275 75h19v1h-19zM274 76h21v1h-21zM274 77h21v1h-21zM277 78h15v1h-15zM3 88h13v1h-13zM0 89h18v1h-18zM0 90h19v1h-19zM314 90h2v1h-2zM0 91h22v1h-22zM311 91h5v1h-5zM0 92h33v1h-33zM300 92h16v1h-16zM0 93h35v1h-35zM298 93h18v1h-18zM0 94h36v1h-36zM296 94h20v1h-20zM0 95h38v1h-38zM294 95h22v1h-22zM23 96h27v1h-27zM231 96h19v1h-19zM284 96h18v1h-18zM27 97h26v1h-26zM228 97h25v1h-25zM281 97h18v1h-18zM30 98h26v1h-26zM225 98h30v1h-30zM279 98h17v1h-17zM48 99h21v1h-21zM221 99h36v1h-36zM277 99h15v1h-15zM53 100h21v1h-21zM215 100h71v1h-71zM56 101h21v1h-21zM197 101h31v1h-31zM252 101h31v1h-31zM67 102h12v1h-12zM196 102h26v1h-26zM254 102h26v1h-26zM70 103h13v1h-13zM196 103h23v1h-23zM258 103h19v1h-19zM73 104h17v1h-17zM196 104h21v1h-21zM77 105h18v1h-18zM119 105h35v1h-35zM198 105h16v1h-16zM84 106h16v1h-16zM116 106h40v1h-40zM199 106h13v1h-13zM88 107h17v1h-17zM113 107h44v1h-44zM199 107h12v1h-12zM90 108h68v1h-68zM199 108h12v1h-12zM93 109h65v1h-65zM198 109h13v1h-13zM95 110h63v1h-63zM198 110h13v1h-13zM97 111h11v1h-11zM111 111h47v1h-47zM198 111h14v1h-14zM98 112h7v1h-7zM113 112h45v1h-45zM201 112h12v1h-12zM278 112h6v1h-6zM114 113h44v1h-44zM205 113h10v1h-10zM273 113h21v1h-21zM114 114h43v1h-43zM208 114h9v1h-9zM271 114h33v1h-33zM114 115h43v1h-43zM210 115h9v1h-9zM268 115h6v1h-6zM289 115h18v1h-18zM113 116h43v1h-43zM213 116h9v1h-9zM258 116h12v1h-12zM297 116h12v1h-12zM111 117h43v1h-43zM217 117h9v1h-9zM254 117h11v1h-11zM304 117h7v1h-7zM73 118h70v1h-70zM221 118h9v1h-9zM251 118h6v1h-6zM308 118h4v1h-4zM66 119h74v1h-74zM225 119h28v1h-28zM311 119h3v1h-3zM61 120h76v1h-76zM230 120h20v1h-20zM312 120h4v1h-4zM0 121h2v1h-2zM55 121h67v1h-67zM314 121h2v1h-2zM0 122h3v1h-3zM49 122h18v1h-18zM3 123h3v1h-3zM45 123h12v1h-12zM5 124h11v1h-11zM37 124h13v1h-13zM14 125h28v1h-28z"/>
<path fill="#fa6a48" d="M120 10h10v1h-10zM118 11h14v1h-14zM117 12h8v1h-8zM127 12h5v1h-5zM117 13h7v1h-7zM128 13h4v1h-4zM117 14h7v1h-7zM128 14h4v1h-4zM117 15h14v1h-14zM118 16h12v1h-12zM120 17h9v1h-9zM169 41h4v1h-4zM167 42h10v1h-10zM166 43h13v1h-13zM165 44h16v1h-16zM165 45h18v1h-18zM165 46h18v1h-18zM291 46h20v1h-20zM165 47h19v1h-19zM288 47h25v1h-25zM166 48h17v1h-17zM286 48h27v1h-27zM167 49h15v1h-15zM285 49h28v1h-28zM169 50h10v1h-10zM284 50h29v1h-29zM285 51h27v1h-27zM0 96h23v1h-23zM302 96h14v1h-14zM0 97h27v1h-27zM299 97h17v1h-17zM0 98h30v1h-30zM296 98h20v1h-20zM22 99h26v1h-26zM292 99h11v1h-11zM27 100h26v1h-26zM286 100h12v1h-12zM31 101h25v1h-25zM228 101h24v1h-24zM283 101h12v1h-12zM50 102h17v1h-17zM222 102h32v1h-32zM280 102h12v1h-12zM53 103h17v1h-17zM219 103h39v1h-39zM277 103h12v1h-12zM56 104h17v1h-17zM217 104h18v1h-18zM252 104h35v1h-35zM59 105h18v1h-18zM214 105h17v1h-17zM255 105h29v1h-29zM61 106h23v1h-23zM212 106h16v1h-16zM260 106h20v1h-20zM63 107h25v1h-25zM211 107h15v1h-15zM65 108h25v1h-25zM211 108h14v1h-14zM70 109h23v1h-23zM211 109h12v1h-12zM274 109h20v1h-20zM84 110h11v1h-11zM211 110h11v1h-11zM272 110h28v1h-28zM85 111h12v1h-12zM108 111h3v1h-3zM212 111h10v1h-10zM270 111h35v1h-35zM85 112h13v1h-13zM105 112h8v1h-8zM213 112h9v1h-9zM268 112h10v1h-10zM284 112h24v1h-24zM77 113h37v1h-37zM215 113h9v1h-9zM260 113h13v1h-13zM294 113h16v1h-16zM72 114h42v1h-42zM217 114h9v1h-9zM256 114h15v1h-15zM304 114h7v1h-7zM70 115h44v1h-44zM219 115h9v1h-9zM253 115h15v1h-15zM307 115h5v1h-5zM66 116h47v1h-47zM222 116h9v1h-9zM250 116h8v1h-8zM309 116h4v1h-4zM60 117h51v1h-51zM226 117h28v1h-28zM311 117h3v1h-3zM55 118h18v1h-18zM230 118h21v1h-21zM312 118h4v1h-4zM0 119h2v1h-2zM49 119h17v1h-17zM314 119h2v1h-2zM0 120h3v1h-3zM45 120h16v1h-16zM2 121h2v1h-2zM42 121h13v1h-13zM3 122h5v1h-5zM38 122h11v1h-11zM6 123h39v1h-39zM16 124h21v1h-21z"/>
<path fill="#f03e2e" d="M125 12h2v1h-2zM124 13h4v1h-4zM124 14h4v1h-4zM0 99h22v1h-22zM303 99h13v1h-13zM0 100h27v1h-27zM298 100h18v1h-18zM0 101h31v1h-31zM295 101h21v1h-21zM25 102h25v1h-25zM292 102h10v1h-10zM29 103h24v1h-24zM289 103h11v1h-11zM45 104h11v1h-11zM235 104h17v1h-17zM287 104h12v1h-12zM49 105h10v1h-10zM231 105h24v1h-24zM284 105h14v1h-14zM51 106h10v1h-10zM228 106h32v1h-32zM280 106h19v1h-19zM53 107h10v1h-10zM226 107h12v1h-12zM251 107h50v1h-50zM54 108h11v1h-11zM225 108h10v1h-10zM253 108h54v1h-54zM57 109h13v1h-13zM223 109h10v1h-10zM253 109h21v1h-21zM294 109h17v1h-17zM58 110h26v1h-26zM222 110h10v1h-10zM253 110h19v1h-19zM300 110h12v1h-12zM59 111h26v1h-26zM222 111h9v1h-9zM252 111h18v1h-18zM305 111h8v1h-8zM59 112h26v1h-26zM222 112h10v1h-10zM251 112h17v1h-17zM308 112h6v1h-6zM57 113h20v1h-20zM224 113h15v1h-15zM247 113h13v1h-13zM310 113h4v1h-4zM55 114h17v1h-17zM226 114h30v1h-30zM311 114h5v1h-5zM52 115h18v1h-18zM228 115h25v1h-25zM312 115h4v1h-4zM0 116h2v1h-2zM49 116h17v1h-17zM231 116h19v1h-19zM313 116h3v1h-3zM0 117h2v1h-2zM43 117h17v1h-17zM314 117h2v1h-2zM0 118h3v1h-3zM39 118h16v1h-16zM2 119h2v1h-2zM37 119h12v1h-12zM3 120h4v1h-4zM34 120h11v1h-11zM4 121h38v1h-38zM8 122h30v1h-30z"/>
<path fill="#d51f22" d="M0 102h25v1h-25zM302 102h14v1h-14zM0 103h29v1h-29zM300 103h16v1h-16zM0 104h45v1h-45zM299 104h17v1h-17zM0 105h13v1h-13zM24 105h25v1h-25zM298 105h18v1h-18zM0 106h10v1h-10zM37 106h14v1h-14zM299 106h17v1h-17zM0 107h8v1h-8zM42 107h11v1h-11zM238 107h13v1h-13zM301 107h15v1h-15zM0 108h6v1h-6zM43 108h11v1h-11zM235 108h18v1h-18zM307 108h9v1h-9zM0 109h5v1h-5zM44 109h13v1h-13zM233 109h20v1h-20zM311 109h5v1h-5zM0 110h4v1h-4zM44 110h14v1h-14zM232 110h21v1h-21zM312 110h4v1h-4zM0 111h4v1h-4zM43 111h16v1h-16zM231 111h21v1h-21zM313 111h3v1h-3zM0 112h4v1h-4zM43 112h16v1h-16zM232 112h19v1h-19zM314 112h2v1h-2zM0 113h4v1h-4zM41 113h16v1h-16zM239 113h8v1h-8zM314 113h2v1h-2zM0 114h4v1h-4zM39 114h16v1h-16zM0 115h4v1h-4zM36 115h16v1h-16zM2 116h3v1h-3zM34 116h15v1h-15zM2 117h5v1h-5zM32 117h11v1h-11zM3 118h36v1h-36zM4 119h33v1h-33zM7 120h27v1h-27z"/>
<path fill="#b8151a" d="M13 105h11v1h-11zM10 106h27v1h-27zM8 107h34v1h-34zM6 108h37v1h-37zM5 109h39v1h-39zM4 110h9v1h-9zM32 110h12v1h-12zM4 111h8v1h-8zM33 111h10v1h-10zM4 112h9v1h-9zM32 112h11v1h-11zM4 113h37v1h-37zM4 114h35v1h-35zM4 115h32v1h-32zM5 116h29v1h-29zM7 117h25v1h-25z"/>
<path fill="#8e0c14" d="M13 110h19v1h-19zM12 111h21v1h-21zM13 112h19v1h-19z"/>
</g></g>
<path d="M81.50 302.3V459.4M133.50 302.3V459.4M185.50 302.3V459.4M238.50 302.3V459.4M290.50 302.3V459.4M28.7 328.50H343.1M28.7 354.50H343.1M28.7 380.50H343.1M28.7 407.50H343.1M28.7 433.50H343.1" stroke="#0b1f4d" stroke-width="0.8" fill="none"/>
<path d="M39.2 323.6L40.9 321.2L44.4 319.6L49.2 318.6L54.9 319.3L62.8 320.1L68.0 320.6L74.1 319.8L76.7 320.2L81.1 320.2L85.5 321.5L89.8 321.7L94.2 321.5L98.6 321.5L102.1 321.5L102.9 318.4L105.6 319.8L107.3 321.1L109.9 321.5L111.7 320.2L114.3 320.2L115.2 321.9L112.5 323.2L109.9 323.7L107.3 325.0L104.7 326.7L103.4 328.5L103.4 329.6L105.1 331.1L109.0 331.5L111.7 332.6L113.9 332.8L114.3 334.6L115.2 335.9L116.5 336.1L116.9 334.6L117.3 332.8L118.7 331.5L119.1 330.2L117.8 329.4L118.2 327.6L117.8 326.3L121.3 326.5L124.8 327.6L125.2 329.4L126.5 329.8L128.7 328.2L130.0 329.4L131.8 330.7L133.5 332.4L135.7 333.7L137.3 335.0L136.1 335.9L134.4 336.8L131.8 337.0L128.3 337.0L125.6 338.5L123.9 339.8L126.1 338.4L128.3 337.9L129.6 338.1L129.1 339.4L129.6 340.5L132.2 341.0L133.5 340.3L132.6 341.4L130.4 342.0L128.3 342.9L128.3 342.0L129.6 341.1L127.4 341.6L125.6 342.4L124.3 343.3L124.8 344.5L123.5 344.7L121.3 345.4L120.8 346.5L120.0 347.2L119.5 348.6L119.7 349.4L120.0 350.1L118.7 350.7L117.8 351.3L116.5 352.0L115.2 352.9L114.9 354.2L115.6 356.0L116.0 357.5L115.8 358.8L115.0 358.9L114.5 357.9L113.7 356.6L113.7 355.5L112.5 354.7L111.2 354.9L109.9 354.3L108.2 354.4L107.9 355.4L106.4 355.3L104.2 354.8L102.9 355.3L101.2 356.4L100.9 358.2L100.5 359.9L100.5 361.4L101.2 363.0L102.1 364.3L103.4 365.0L105.6 364.6L106.7 363.8L106.9 362.5L109.0 362.1L109.9 362.3L109.5 363.8L109.0 365.1L108.6 366.9L109.9 367.1L112.5 367.1L113.2 367.8L113.0 369.5L112.8 371.2L113.4 372.1L114.3 373.0L116.0 372.8L116.9 372.6L118.2 373.3L118.7 373.4L120.0 371.7L120.8 371.2L123.0 370.4L123.6 370.0L123.5 371.2L124.8 370.8L126.1 371.7L128.3 371.6L130.0 371.9L131.8 371.5L132.6 372.6L133.1 373.4L134.4 373.9L135.7 375.4L137.9 375.6L140.1 376.3L140.9 377.1L141.8 379.1L142.2 380.4L143.5 381.3L144.4 381.5L146.6 382.2L147.2 383.1L149.2 383.3L151.0 383.4L152.3 384.2L153.4 385.0L155.1 385.5L155.4 387.0L155.3 388.7L153.6 390.5L152.7 392.0L151.8 393.1L151.8 395.7L151.1 397.9L150.1 399.6L149.2 400.9L147.0 401.1L145.5 401.8L144.0 402.9L143.5 404.4L143.3 405.7L142.1 407.3L140.5 409.0L139.2 410.5L138.0 411.3L136.6 411.2L135.0 410.5L135.9 412.3L136.1 414.0L134.4 414.7L131.8 414.9L131.5 416.5L129.1 416.6L130.0 417.9L129.0 418.8L128.7 420.1L127.0 421.0L128.3 422.3L127.0 424.1L125.6 424.9L126.1 426.5L126.5 427.1L128.7 428.7L126.5 429.3L123.9 428.0L121.7 427.1L120.8 425.4L120.0 423.2L120.8 421.4L121.7 419.3L121.3 417.5L121.5 415.8L121.7 414.0L122.1 413.0L123.0 411.0L123.5 408.8L123.5 407.0L123.9 404.4L124.3 402.7L124.6 400.1L124.5 397.0L123.5 395.9L121.3 394.8L119.4 393.1L118.5 391.3L117.3 389.6L116.5 387.8L115.2 386.1L114.9 384.8L116.0 383.7L115.3 382.6L115.6 381.7L116.0 380.4L116.9 379.5L117.3 378.7L118.4 377.4L118.2 375.6L118.2 374.6L117.5 373.9L116.5 373.0L115.8 373.6L115.6 374.5L114.7 374.1L113.6 373.6L112.8 373.3L111.7 372.1L111.0 371.4L109.9 369.9L109.3 369.3L107.7 369.1L106.0 368.6L104.2 367.3L102.9 366.7L101.2 367.0L99.0 366.3L96.8 365.1L95.1 364.3L93.8 363.1L93.9 361.9L92.9 360.3L91.6 359.0L90.3 357.7L89.4 356.6L88.1 355.5L87.2 353.8L85.7 353.2L85.9 354.7L87.2 356.4L88.5 358.2L89.4 359.5L90.3 360.6L89.6 360.3L88.1 359.2L87.8 358.0L86.3 357.1L85.9 356.4L85.5 355.1L84.6 354.0L83.6 352.5L82.4 351.2L80.7 350.7L80.2 349.7L79.4 348.7L78.9 347.9L78.0 346.8L77.3 345.6L77.6 344.2L77.3 342.9L77.6 340.7L77.1 338.7L78.3 337.9L76.7 336.9L74.6 335.9L73.7 334.6L72.4 333.3L71.1 332.0L69.3 330.2L67.1 329.6L65.4 328.9L63.6 328.7L61.0 328.5L58.4 327.8L56.2 328.2L54.9 328.9L54.0 327.6L52.3 328.9L51.0 329.8L48.8 331.1L46.2 332.4L43.5 333.0L44.4 332.1L47.0 330.7L48.4 329.6L47.0 329.6L44.4 329.4L44.0 328.5L41.8 327.8L41.4 326.7L42.2 325.9L45.3 325.4L45.3 324.6L43.5 324.6L40.5 324.4ZM123.0 312.8L128.3 310.6L133.5 309.3L142.2 308.8L151.0 308.1L159.7 308.0L166.7 309.3L170.2 310.6L170.2 311.9L169.3 313.6L168.4 315.4L166.7 317.1L165.8 318.9L166.7 319.6L163.2 320.9L158.8 321.5L156.2 322.8L153.2 323.5L151.0 324.1L150.1 325.4L148.8 327.2L147.9 328.5L146.2 328.3L144.0 327.6L142.2 326.3L140.9 324.6L139.6 323.2L139.2 321.5L141.4 320.2L138.3 319.8L138.3 318.4L137.0 317.1L135.2 315.2L131.8 314.3L126.5 314.5L123.9 313.5ZM207.7 318.9L210.4 319.1L213.0 319.8L214.7 320.3L218.2 320.8L221.7 321.9L221.7 323.0L219.1 323.2L215.6 322.7L214.7 323.7L216.5 324.7L218.7 325.2L220.8 324.5L221.3 323.2L224.3 322.8L224.3 321.5L226.1 321.2L227.8 321.9L233.1 321.1L236.6 320.9L238.7 320.2L242.7 320.6L244.4 321.1L245.3 319.8L244.4 318.0L247.0 317.0L249.2 317.6L249.7 319.8L249.7 322.4L251.4 321.5L251.4 318.0L254.0 317.6L256.2 316.7L256.6 318.0L259.3 318.9L261.9 316.3L264.5 315.0L269.7 314.5L273.2 314.1L277.0 313.0L279.3 313.6L283.7 314.1L285.0 315.0L282.0 316.3L284.6 316.5L290.7 317.1L296.8 316.7L298.6 318.0L299.4 319.1L302.1 318.4L305.5 318.4L308.2 317.4L312.5 317.7L316.9 318.4L319.5 318.9L323.9 318.9L325.6 320.1L330.0 320.2L334.4 319.8L335.2 320.6L339.6 319.9L343.1 320.6L343.1 324.1L341.4 324.6L340.9 326.3L337.9 326.9L334.8 328.5L330.9 328.5L329.6 328.7L328.5 330.2L327.8 331.8L327.2 332.8L325.6 334.4L324.3 335.5L322.8 336.3L321.9 334.6L321.9 332.0L323.0 330.4L325.2 328.9L326.9 328.0L328.7 327.2L326.1 327.0L323.0 327.2L321.3 328.9L318.6 329.4L316.0 328.9L313.0 329.1L310.4 329.4L308.2 330.7L306.0 332.1L304.2 333.1L306.0 333.7L308.2 334.6L309.3 335.3L308.6 337.2L308.2 339.0L306.9 340.3L304.7 342.0L302.5 343.3L300.7 343.3L300.0 343.9L299.2 344.8L298.1 345.9L297.2 346.4L298.1 347.4L298.9 348.6L298.9 349.9L298.1 350.3L296.4 350.8L296.1 349.9L296.5 348.6L295.1 347.7L295.3 346.4L294.5 345.9L293.3 346.2L291.7 347.0L292.3 345.2L290.3 346.4L289.0 346.6L288.7 347.2L289.8 348.3L291.4 347.9L292.9 348.3L291.6 349.0L290.3 350.0L291.0 351.0L291.6 352.5L292.3 353.4L292.4 354.7L292.0 356.0L291.1 357.3L290.3 358.6L289.0 359.5L287.6 360.8L285.9 361.2L284.6 361.6L282.8 362.3L282.0 363.1L281.7 362.1L280.2 362.0L279.1 363.0L278.2 364.3L278.9 365.6L280.2 366.9L281.3 368.6L281.4 370.4L280.2 371.4L279.1 371.9L277.6 373.3L277.4 372.1L275.9 371.2L275.0 369.9L274.0 369.2L273.2 369.2L273.2 370.8L272.6 372.7L273.5 373.6L274.1 374.9L275.4 375.6L276.2 376.9L276.3 378.4L276.9 379.6L276.3 379.7L274.5 378.5L273.6 376.5L273.4 375.2L271.9 373.9L271.7 373.0L272.1 371.2L271.9 369.5L271.2 367.8L271.1 366.4L269.7 366.4L268.3 366.9L268.3 365.1L267.6 363.8L266.2 362.5L265.8 361.2L264.5 361.6L263.2 361.9L261.9 362.3L261.4 363.4L260.1 363.8L257.9 366.0L256.0 367.3L255.9 369.1L255.6 370.8L255.3 371.9L254.2 373.0L253.6 373.8L252.5 372.6L251.8 370.6L251.1 369.1L250.5 367.3L249.7 365.1L249.5 363.8L249.4 362.5L248.8 362.5L247.5 362.7L246.2 361.5L247.3 360.8L245.7 360.5L244.7 359.5L244.0 358.8L241.8 358.9L239.6 358.9L237.4 358.7L235.9 358.3L235.4 357.3L233.5 357.6L231.8 356.8L230.4 355.7L229.6 354.6L228.5 354.4L227.8 355.1L228.4 356.4L229.6 357.5L230.0 358.6L230.7 358.1L230.9 359.4L232.2 359.8L233.5 359.7L235.2 357.9L235.2 359.5L237.0 360.3L238.1 361.2L237.0 363.0L236.3 364.3L235.2 365.1L233.9 366.0L231.5 366.9L228.7 368.2L226.1 369.2L223.9 369.8L223.3 368.2L223.0 366.4L221.7 364.7L220.1 362.3L219.1 360.1L218.2 358.6L216.9 356.8L216.5 356.2L216.4 355.1L215.9 356.6L214.9 355.7L214.4 354.8L214.1 353.6L215.8 353.5L216.5 352.2L217.2 350.7L217.3 349.4L217.3 348.7L216.0 348.8L214.3 349.3L212.6 348.7L211.2 349.0L209.7 348.6L209.0 347.2L208.8 346.4L208.8 345.8L208.6 345.2L206.9 345.2L206.4 345.8L205.7 345.6L206.0 346.5L206.9 347.5L206.4 347.9L206.2 349.0L205.4 349.0L204.5 348.1L204.2 347.0L203.4 346.2L202.8 344.6L202.5 343.9L201.2 343.3L199.9 342.8L199.0 341.7L198.3 341.4L197.9 341.1L196.6 341.3L196.7 342.2L197.8 342.9L198.3 343.8L199.9 344.3L199.9 344.7L201.6 345.4L202.1 345.9L200.7 345.5L200.4 346.2L200.8 346.8L200.3 347.4L199.6 347.7L199.9 346.8L199.3 345.8L198.4 345.2L196.8 344.6L195.5 343.8L194.9 342.9L193.8 342.2L192.5 342.6L191.1 343.2L189.4 342.9L188.5 343.8L188.7 344.4L186.8 345.1L185.6 346.4L185.9 347.1L185.3 347.9L184.2 348.7L182.0 348.9L181.1 349.3L180.4 348.7L179.4 348.4L178.1 348.6L178.2 347.2L177.6 347.0L178.2 345.1L177.9 343.3L178.9 342.7L181.5 342.9L184.2 343.0L184.8 342.0L184.9 340.7L183.9 339.7L182.0 339.0L181.8 338.5L183.7 338.3L184.6 338.3L184.3 337.5L184.9 337.7L186.1 337.6L187.3 336.8L188.1 336.3L189.1 335.9L189.8 335.0L190.3 334.4L192.0 334.2L193.3 333.9L193.5 332.8L193.1 331.3L194.2 330.9L195.1 330.5L194.9 331.5L194.6 332.6L194.5 333.0L195.5 333.5L196.8 333.4L198.3 333.8L200.3 333.3L202.1 333.1L203.2 333.4L204.2 332.4L204.2 331.1L205.6 330.5L207.0 330.9L207.1 330.0L206.4 329.2L208.6 328.9L210.4 328.8L212.1 328.5L210.8 328.0L208.6 328.1L206.0 328.5L204.7 327.9L204.7 326.3L205.1 325.4L207.3 324.3L208.0 323.7L206.7 323.4L205.1 323.7L204.4 324.6L202.5 325.6L201.2 326.7L200.9 327.8L202.1 328.5L201.6 329.4L200.5 330.2L200.3 331.3L199.7 331.9L198.4 332.4L197.3 332.5L197.0 331.8L196.2 330.7L195.5 329.4L195.1 328.9L194.2 329.4L192.9 330.1L191.6 330.1L190.7 329.4L190.3 328.0L190.3 326.7L192.0 325.9L193.8 325.3L195.5 324.3L196.8 323.2L198.1 322.1L199.4 321.1L201.2 320.2L203.4 319.8L206.0 319.1ZM28.7 320.6L31.3 321.2L34.8 322.4L37.4 323.1L35.7 324.6L33.1 324.3L30.4 323.7L28.7 323.9ZM214.3 354.7L215.4 356.8L216.9 359.9L218.2 362.1L218.5 364.3L219.5 365.1L220.4 367.3L221.9 368.2L223.6 369.9L223.7 370.8L224.8 371.7L226.9 371.1L228.7 371.0L230.6 370.6L230.4 371.8L229.6 373.9L228.3 376.0L226.5 378.2L224.3 380.0L222.6 381.7L221.3 383.2L220.4 384.8L219.8 386.5L220.4 388.3L220.8 390.0L221.4 392.2L221.3 394.4L219.5 395.9L217.8 397.3L216.5 398.3L216.8 400.1L216.9 401.8L214.7 403.1L214.5 404.4L214.1 406.0L213.0 407.0L211.7 408.6L209.9 409.9L208.2 410.5L205.6 410.6L203.4 411.2L202.1 410.7L201.8 409.2L201.2 407.5L200.3 405.8L199.2 404.2L198.6 401.8L198.4 400.1L197.3 398.3L196.2 396.6L196.4 394.4L197.7 391.8L197.9 390.0L197.3 388.5L196.6 386.1L196.2 384.8L194.6 383.3L193.8 381.7L194.2 380.2L194.4 378.7L194.2 377.4L193.3 376.9L192.0 377.0L191.0 377.0L189.8 375.4L188.1 375.4L186.8 375.7L184.2 376.7L182.4 376.3L179.4 377.0L178.0 376.5L176.5 375.3L175.0 374.3L174.3 373.0L173.0 371.4L171.9 370.4L171.2 369.1L170.7 368.0L171.5 366.9L171.7 365.1L171.5 363.8L171.1 362.5L171.9 360.3L173.0 358.6L174.5 356.7L175.9 356.0L177.2 355.1L177.4 353.8L178.5 351.8L180.0 351.2L180.7 349.6L181.3 349.5L183.3 350.0L184.2 350.2L185.9 349.6L187.2 349.0L188.5 348.7L190.3 348.7L192.5 348.6L194.5 348.3L195.5 348.6L194.9 349.4L195.3 350.7L194.8 351.2L195.5 351.8L197.3 352.1L199.2 352.7L199.4 353.4L201.2 353.9L202.7 354.4L203.4 353.8L203.5 352.7L204.7 352.1L206.0 352.4L207.7 353.2L209.9 353.6L211.2 353.9L212.5 353.4L214.1 353.6ZM285.5 399.9L287.6 398.7L289.8 398.3L292.0 397.4L292.7 395.9L293.8 395.7L294.6 394.8L295.9 393.2L297.2 393.1L298.1 393.8L299.0 393.9L299.4 392.2L300.1 391.7L301.6 390.9L301.8 391.3L304.2 391.3L305.4 391.5L304.7 392.6L304.2 393.9L305.5 394.7L307.7 396.1L308.9 396.1L309.5 394.4L309.7 392.2L309.9 390.5L310.4 390.2L311.2 392.0L311.5 393.4L312.8 393.9L313.0 395.3L313.6 397.3L314.7 397.8L316.0 398.7L316.7 400.3L317.6 401.4L319.1 402.7L319.7 403.5L320.0 405.5L319.5 407.5L319.1 409.2L318.0 410.3L317.2 412.3L316.9 413.5L315.2 413.9L313.7 414.9L312.5 414.4L311.2 414.7L309.0 414.2L308.0 413.1L307.6 412.0L306.6 411.8L306.4 410.8L306.2 409.7L305.5 410.5L304.7 411.2L304.2 411.0L303.1 409.7L301.6 408.8L300.3 408.3L298.1 408.6L295.9 409.0L294.2 409.7L293.8 410.4L291.6 410.4L290.3 410.9L289.0 411.4L287.2 411.3L286.3 410.8L286.5 410.1L286.9 408.8L286.3 407.0L285.9 405.7L285.3 404.0L284.8 402.2L285.0 400.5ZM28.7 455.3L41.8 455.5L57.5 455.3L56.6 453.3L51.4 452.5L57.5 451.7L51.4 450.9L48.2 449.9L43.5 450.1L44.4 449.1L48.2 447.9L53.6 447.5L59.0 446.7L66.7 446.7L74.5 445.5L79.1 444.1L83.7 444.9L89.8 444.9L96.1 444.1L100.8 443.3L108.5 444.0L114.7 444.1L120.9 443.3L124.8 443.3L126.5 441.1L128.3 439.3L130.0 437.8L132.6 436.7L135.7 436.1L134.8 437.1L132.6 438.0L131.3 439.3L130.0 441.1L131.8 442.8L132.6 445.0L131.8 446.7L128.3 448.1L133.5 448.9L142.2 449.2L148.3 448.9L154.5 448.9L159.7 447.6L166.7 445.9L172.8 444.6L177.2 443.1L185.9 442.4L194.6 441.9L203.4 441.9L212.1 441.5L219.1 441.5L225.2 440.0L231.3 438.5L235.7 439.2L240.0 439.8L245.3 440.2L247.0 441.9L249.7 441.5L254.0 440.5L260.1 439.2L266.2 438.9L273.2 438.3L280.2 438.9L286.3 438.7L292.4 439.1L299.4 438.6L305.5 438.7L310.8 439.3L316.9 440.6L323.0 441.3L328.3 442.4L332.6 443.3L334.8 444.1L331.7 445.9L329.1 447.6L328.3 448.9L331.7 449.4L330.0 451.1L325.6 452.4L334.4 453.6L343.1 454.6L343.1 459.4L28.7 459.4ZM180.9 337.1L182.8 336.9L184.6 336.6L187.0 336.2L186.5 335.9L187.4 334.9L186.2 334.6L185.7 333.7L184.6 332.8L184.2 332.0L183.5 331.7L184.3 330.7L182.8 330.5L183.3 329.7L181.5 329.7L180.8 330.7L181.1 331.7L181.7 332.4L181.5 333.0L183.1 333.0L183.3 334.2L182.0 334.3L182.2 335.0L181.4 335.6L183.0 336.0L182.1 336.3ZM180.5 335.3L180.7 334.2L181.0 333.3L180.4 332.7L178.7 332.7L178.5 333.4L177.2 333.5L177.3 334.3L177.6 334.8L176.9 335.5L177.5 335.9L178.9 335.6ZM166.2 325.1L168.2 325.4L169.7 325.5L172.8 324.7L174.0 324.1L173.1 323.2L171.8 322.8L170.0 323.2L168.2 323.2L167.1 323.7L166.2 322.9L164.9 323.6L166.7 323.9L165.1 324.3L166.7 324.6ZM195.5 311.5L198.1 311.0L203.4 310.8L209.5 310.9L206.9 311.7L203.4 312.3L204.7 312.9L200.7 313.9L198.1 313.2L196.4 312.1ZM230.9 318.4L233.1 319.1L236.1 319.1L234.4 317.1L236.6 315.8L240.0 314.5L245.7 313.8L243.5 313.6L238.3 314.3L234.8 315.1L233.1 316.7L231.3 317.7ZM268.9 311.7L273.2 311.2L277.6 312.1L273.2 312.8ZM305.5 315.0L309.9 314.5L316.9 315.1L312.5 315.6L308.2 315.8ZM309.9 333.5L310.8 334.6L311.0 336.3L311.7 337.8L310.8 339.8L309.9 340.7L309.9 339.0L309.9 337.2L309.7 335.5ZM308.2 344.6L309.5 343.8L310.8 344.2L313.0 343.1L312.1 342.4L309.9 341.1L309.5 342.4L308.4 343.3ZM309.0 344.8L309.9 346.4L309.0 347.7L308.9 349.4L308.2 350.3L306.9 350.6L305.5 350.7L304.9 351.6L303.8 351.5L303.8 350.7L302.1 350.9L300.3 351.2L300.3 350.7L301.6 350.0L304.2 349.8L305.4 348.3L305.8 348.7L306.9 348.2L307.7 347.2L308.2 345.9L308.4 345.1ZM299.4 351.6L300.7 351.5L301.0 352.5L300.3 353.5L299.7 353.5L299.6 352.5L299.2 351.9ZM301.6 351.4L303.4 351.0L303.1 351.7L302.1 352.2L301.5 351.9ZM291.6 358.9L292.4 359.0L292.0 360.3L291.4 361.6L290.9 360.8L291.1 359.5ZM280.8 364.0L282.2 363.3L282.8 363.7L282.0 364.9L280.8 364.7ZM291.1 364.7L292.6 364.8L292.4 366.4L292.0 367.8L292.4 368.6L294.2 369.5L293.8 369.7L292.4 368.9L291.4 368.8L291.0 367.9L290.7 366.7ZM292.4 374.7L293.8 373.4L295.5 372.3L296.4 374.3L295.9 375.4L295.4 375.8L294.2 374.9L293.6 374.3ZM294.2 371.2L295.5 370.0L295.5 371.2L295.1 372.1ZM292.4 370.6L293.3 370.8L293.6 372.6L292.9 372.6L292.4 371.7ZM288.3 373.4L290.3 371.2L289.8 372.1L288.8 373.3ZM281.1 379.5L281.5 379.1L282.8 379.5L283.1 378.7L284.6 378.1L285.5 376.8L286.8 376.0L287.9 374.7L288.7 375.4L290.0 376.2L289.0 377.1L288.7 378.2L289.8 380.0L288.5 380.4L288.5 381.5L287.6 382.4L287.2 384.2L286.0 384.3L284.6 383.6L283.5 383.8L282.1 383.3L282.0 382.2L281.1 381.1ZM269.1 376.0L271.1 376.3L272.1 377.5L273.7 378.9L274.5 379.1L276.3 380.4L276.6 381.7L277.6 382.8L278.5 383.6L278.3 385.9L277.2 385.8L275.2 384.3L273.9 382.9L272.8 381.1L272.1 379.4L270.8 378.1L269.3 376.7ZM277.9 386.8L278.6 386.1L280.7 386.6L282.7 386.5L284.3 386.9L285.9 387.7L285.7 388.4L282.8 388.1L280.2 387.7L278.7 387.3ZM286.3 388.2L288.1 388.1L289.8 388.2L291.6 388.3L293.3 388.1L293.1 388.5L290.7 388.6L288.1 388.7L286.5 388.5ZM293.8 389.8L295.1 388.9L297.0 388.2L296.4 388.9L294.6 389.8ZM290.5 380.2L291.4 379.7L293.3 380.1L295.1 379.5L294.5 380.5L292.0 380.4L290.9 380.9L290.9 381.6L291.7 381.7L293.6 381.5L292.2 382.5L293.1 384.3L292.6 385.0L292.0 384.8L291.6 383.2L291.0 383.5L291.0 385.7L290.3 385.7L290.3 383.9L289.7 383.2L290.1 381.9L290.5 380.9ZM300.3 381.5L301.6 381.2L302.9 381.5L303.1 383.0L303.8 383.7L304.7 382.8L306.2 382.2L307.7 382.8L309.0 383.1L311.2 383.8L312.1 384.2L313.1 385.0L313.2 385.7L314.5 386.1L315.0 386.7L314.3 387.0L315.3 387.9L316.5 389.1L317.5 389.8L316.7 390.1L315.0 389.6L313.8 388.6L312.5 387.7L311.2 388.1L310.8 388.9L309.0 388.8L307.7 387.9L306.4 388.2L307.1 387.1L306.7 385.9L304.5 384.8L302.5 384.2L301.9 384.3L301.2 383.4L302.5 383.0L301.4 382.8L300.3 382.0ZM297.7 383.5L300.1 383.7L299.0 384.0ZM297.4 379.1L297.9 380.2L298.2 381.5L297.5 380.6ZM315.6 385.8L317.3 385.7L318.6 384.6L318.8 385.2L317.3 386.3ZM329.1 398.5L331.3 400.1L331.7 400.4L330.0 399.4ZM312.3 416.5L313.8 416.7L315.4 416.5L315.3 417.9L314.3 418.8L313.0 418.2L312.7 417.5ZM336.7 411.0L338.3 412.5L339.2 413.1L340.0 413.8L341.6 413.7L340.9 415.1L340.3 416.0L339.0 417.2L338.6 416.9L338.7 415.8L337.7 415.2L338.5 414.3L338.3 413.1L337.2 411.6ZM336.7 416.3L338.0 417.2L337.0 418.6L335.5 419.5L335.1 420.8L333.5 421.5L332.2 421.2L331.3 420.7L332.9 419.3L334.8 418.2L336.1 416.6ZM229.0 391.3L229.8 394.2L229.1 396.1L228.3 398.7L227.1 402.5L225.4 403.1L224.1 401.4L223.7 399.9L224.6 398.3L224.3 396.1L225.2 394.8L226.9 393.9L228.1 392.6ZM255.8 372.3L256.8 373.4L257.3 374.7L256.6 375.5L255.8 375.6L255.5 373.9ZM111.7 361.7L113.4 360.8L115.6 360.7L118.2 361.9L120.0 362.7L121.1 363.2L118.2 363.5L118.2 362.9L116.9 362.0L114.7 361.5L113.0 361.5ZM120.9 364.8L122.1 363.5L124.8 363.6L126.2 364.6L124.3 365.0L123.3 365.4L122.6 365.0ZM117.5 364.9L119.3 365.1L118.5 365.3ZM127.2 364.8L128.5 364.9L127.8 365.2ZM134.1 339.2L135.7 336.5L137.4 335.9L137.0 337.2L139.2 337.8L139.8 339.4L139.2 340.1L137.4 339.8L137.0 339.2ZM132.2 322.8L129.1 321.5L126.5 319.8L123.9 318.6L118.7 317.1L115.2 316.5L111.2 316.7L108.2 317.1L107.3 318.0L109.0 319.3L111.7 319.8L114.3 319.8L116.9 320.2L119.5 321.1L122.1 321.5L121.7 322.8L121.3 324.1L118.2 324.6L121.3 324.6L123.9 325.4L126.5 326.3L129.1 326.9L129.1 325.9L126.5 325.4L128.3 324.6L130.0 325.4L131.8 324.1ZM94.2 320.6L97.3 319.8L95.1 318.9L94.2 317.6L91.6 317.0L88.1 317.3L83.7 317.1L82.4 318.4L83.7 319.8L87.2 320.6L90.7 320.9ZM76.7 318.0L78.5 316.3L83.3 316.1L84.6 317.1L81.1 318.4L78.0 318.6ZM107.3 314.1L110.8 312.8L109.9 311.5L106.4 309.7L116.0 308.4L126.5 308.4L131.8 309.0L126.5 310.3L123.0 311.5L119.5 312.3L116.9 313.6L114.3 314.3ZM106.4 315.7L116.0 315.7L115.6 314.7L109.0 314.1L105.6 314.5ZM102.9 318.0L106.9 317.1L106.4 316.3L102.9 316.3ZM98.6 318.4L101.2 317.6L100.3 316.4L97.3 317.1ZM83.7 315.4L89.8 314.5L93.3 315.0L91.6 315.6L86.3 315.8ZM102.1 311.9L106.4 311.0L109.0 311.9L105.6 312.6ZM109.9 325.0L112.1 323.2L115.2 324.6L113.4 325.9L111.2 325.4ZM73.7 336.5L76.3 337.0L78.0 338.5L76.7 338.3ZM69.7 333.7L71.1 334.2L71.5 335.3L70.2 334.6ZM51.0 330.7L52.9 330.2L52.7 330.9L51.4 331.3ZM193.9 344.8L194.4 343.4L194.2 344.6ZM193.1 346.6L193.1 345.2L194.4 345.2L194.3 346.6ZM196.8 347.7L199.4 347.5L199.2 348.7L196.9 348.0ZM206.5 350.0L208.8 350.0L207.3 350.3ZM214.1 350.3L216.0 349.8L215.4 350.6ZM49.4 363.6L50.8 363.9M47.4 362.0L48.8 362.3M45.9 361.5L47.3 361.8M34.7 392.6L36.1 393.0M54.7 396.0L56.1 396.4M105.7 381.2L107.1 381.5M245.9 423.8L247.3 424.1M133.7 425.8L135.1 426.1M152.9 428.2L154.3 428.5M340.7 396.2L342.1 396.6M342.0 395.1L343.4 395.4M233.7 399.1L235.1 399.4M235.4 398.3L236.8 398.7M39.8 333.8L41.2 334.2M38.0 334.2L39.4 334.6M35.9 334.9L37.3 335.2M33.2 335.1L34.6 335.5M30.6 335.5L32.0 335.8M340.7 335.6L342.1 335.9M338.0 335.0L339.4 335.4M336.3 334.6L337.7 334.9M312.7 341.8L314.1 342.2M314.5 341.1L315.9 341.5M316.6 340.3L318.0 340.6M318.4 339.4L319.8 339.7M320.1 337.9L321.5 338.3M324.9 389.0L326.3 389.3M323.2 387.7L324.6 388.0M321.4 386.8L322.8 387.1M331.0 394.2L332.4 394.6M332.2 396.1L333.6 396.5M131.9 368.0L133.3 368.4M131.5 366.5L132.9 366.9M131.8 371.5L133.2 371.9M162.9 347.7L164.3 348.0M170.8 356.0L172.2 356.3M171.7 356.2L173.1 356.6M164.2 367.6L165.6 367.9M249.0 377.2L250.4 377.5M266.2 370.2L267.6 370.6M311.7 369.0L313.1 369.3M233.2 310.4L234.6 310.8M237.6 310.2L239.0 310.5M28.9 318.5L30.3 318.9M330.2 332.7L331.6 333.0M128.7 352.5L130.1 352.8M226.9 341.6L228.7 340.3L230.9 339.8L232.2 340.3L232.2 341.6L230.4 342.0L230.0 343.8L231.8 344.2L232.9 345.5L232.2 346.8L233.1 348.3L231.3 348.8L229.6 348.3L228.7 347.2L229.1 345.5L227.8 344.2L226.9 342.9ZM210.4 344.3L211.2 344.9L213.4 344.9L215.2 344.2L216.5 344.2L217.8 344.8L219.5 345.1L222.1 344.6L222.2 343.8L220.8 342.9L219.5 342.1L218.2 341.7L217.8 341.4L216.7 341.6L215.2 342.1L214.3 341.2L215.2 340.6L213.4 340.2L212.1 340.9L211.8 341.6L211.0 342.4L210.4 343.5ZM216.6 341.1L217.8 341.2L218.7 341.0L219.3 340.5L220.1 339.7L218.7 339.8L216.9 340.3ZM105.6 340.0L107.7 339.0L109.0 338.3L111.2 339.1L111.9 340.1L109.9 340.3L107.3 340.1ZM109.2 344.2L109.0 342.0L110.4 340.9L111.7 340.9L110.5 342.4L110.4 344.2ZM112.1 340.7L114.7 340.7L116.0 341.6L115.6 342.0L114.5 341.7L114.5 343.1L113.9 343.2L113.0 342.0ZM113.2 344.4L115.2 344.5L116.9 343.6L115.6 343.6L113.9 344.0ZM116.3 343.1L119.1 342.9L119.3 342.3L116.9 342.6ZM78.5 323.1L81.1 322.4L82.8 323.2L81.1 324.1L78.9 323.9ZM83.7 327.6L86.3 326.3L89.8 326.0L88.1 327.2L85.5 327.8ZM99.9 336.8L101.2 335.9L100.3 333.9L99.4 334.6L100.3 335.5ZM213.8 381.3L215.6 380.7L215.8 382.2L214.7 383.3L213.7 382.8ZM237.0 342.4L237.9 340.4L239.6 340.7L239.2 342.0L237.9 342.7ZM211.5 383.9L211.8 385.2L212.5 386.8L213.0 388.4M215.6 389.3L216.1 390.9L216.3 392.2L216.6 393.3M276.7 335.8L278.5 335.0L280.7 333.7L281.8 332.2M250.1 340.7L251.8 340.1L253.1 340.3L254.9 340.4M197.7 369.5L198.6 369.1L198.4 369.8L197.7 369.5M217.3 378.5L217.5 376.9" fill="none" stroke="#0b1f4d" stroke-width="0.9" stroke-linejoin="round"/>
<path d="M74.1 344.2H85.5V354.7H74.1ZM159.7 341.6H238.3V354.7H159.7ZM120.4 407.0H129.1V415.8H120.4ZM194.6 407.0H203.4V415.8H194.6ZM281.5 408.3H316.9V417.5H281.5Z" stroke="#000" stroke-width="1.3" fill="none"/>
<path d="M28.70 459.4v5.3M81.10 459.4v5.3M133.50 459.4v5.3M185.90 459.4v5.3M238.30 459.4v5.3M290.70 459.4v5.3M343.10 459.4v5.3M28.7 302.30h-5.3M28.7 328.48h-5.3M28.7 354.67h-5.3M28.7 380.85h-5.3M28.7 407.03h-5.3M28.7 433.22h-5.3M28.7 459.40h-5.3" stroke="#0b1f4d" stroke-width="1.1" fill="none"/>
<rect x="28.7" y="302.3" width="314.4" height="157.1" stroke="#0b1f4d" stroke-width="1.4" fill="none"/>
<text x="28.7" y="479.1" font-size="9.3" text-anchor="middle" fill="#0b1f4d" stroke="#0b1f4d" stroke-width="0.22">180</text>
<text x="81.1" y="479.1" font-size="9.3" text-anchor="middle" fill="#0b1f4d" stroke="#0b1f4d" stroke-width="0.22">120W</text>
<text x="133.5" y="479.1" font-size="9.3" text-anchor="middle" fill="#0b1f4d" stroke="#0b1f4d" stroke-width="0.22">60W</text>
<text x="185.9" y="479.1" font-size="9.3" text-anchor="middle" fill="#0b1f4d" stroke="#0b1f4d" stroke-width="0.22">0</text>
<text x="238.3" y="479.1" font-size="9.3" text-anchor="middle" fill="#0b1f4d" stroke="#0b1f4d" stroke-width="0.22">60E</text>
<text x="290.7" y="479.1" font-size="9.3" text-anchor="middle" fill="#0b1f4d" stroke="#0b1f4d" stroke-width="0.22">120E</text>
<text x="343.1" y="479.1" font-size="9.3" text-anchor="middle" fill="#0b1f4d" stroke="#0b1f4d" stroke-width="0.22">180</text>
<text x="31.5" y="18" font-size="24" stroke="#000" stroke-width="0.22">a)</text>
<text x="366.3" y="18" font-size="24" stroke="#000" stroke-width="0.22">b)</text>
<text x="31.5" y="289.8" font-size="24" fill="#0b1f4d" stroke="#0b1f4d" stroke-width="0.22">c)</text>
<text x="138.5" y="17.9" font-size="24.6" stroke="#000" stroke-width="0.22">SAT</text>
<text x="493.4" y="17.7" font-size="24.6" stroke="#000" stroke-width="0.22">IVT</text>
<text x="164.0" y="289.7" font-size="24.4" fill="#0b1f4d" stroke="#0b1f4d" stroke-width="0.22">MSLP</text>
<rect x="90.40" y="215.3" width="9.54" height="16.2" fill="#ffffff" stroke="#000" stroke-width="0.6"/>
<rect x="99.94" y="215.3" width="9.54" height="16.2" fill="#ffffcc" stroke="#000" stroke-width="0.6"/>
<rect x="109.48" y="215.3" width="9.54" height="16.2" fill="#ffff99" stroke="#000" stroke-width="0.6"/>
<rect x="119.02" y="215.3" width="9.54" height="16.2" fill="#ffff61" stroke="#000" stroke-width="0.6"/>
<rect x="128.56" y="215.3" width="9.54" height="16.2" fill="#ffff2e" stroke="#000" stroke-width="0.6"/>
<rect x="138.10" y="215.3" width="9.54" height="16.2" fill="#fff900" stroke="#000" stroke-width="0.6"/>
<rect x="147.64" y="215.3" width="9.54" height="16.2" fill="#ffd700" stroke="#000" stroke-width="0.6"/>
<rect x="157.18" y="215.3" width="9.54" height="16.2" fill="#ffb200" stroke="#000" stroke-width="0.6"/>
<rect x="166.72" y="215.3" width="9.54" height="16.2" fill="#ff9000" stroke="#000" stroke-width="0.6"/>
<rect x="176.26" y="215.3" width="9.54" height="16.2" fill="#ff6b00" stroke="#000" stroke-width="0.6"/>
<rect x="185.80" y="215.3" width="9.54" height="16.2" fill="#ff4900" stroke="#000" stroke-width="0.6"/>
<rect x="195.34" y="215.3" width="9.54" height="16.2" fill="#ff2500" stroke="#000" stroke-width="0.6"/>
<rect x="204.88" y="215.3" width="9.54" height="16.2" fill="#ff0200" stroke="#000" stroke-width="0.6"/>
<rect x="214.42" y="215.3" width="9.54" height="16.2" fill="#dd0000" stroke="#000" stroke-width="0.6"/>
<rect x="223.96" y="215.3" width="9.54" height="16.2" fill="#ba0000" stroke="#000" stroke-width="0.6"/>
<rect x="233.50" y="215.3" width="9.54" height="16.2" fill="#960000" stroke="#000" stroke-width="0.6"/>
<rect x="243.04" y="215.3" width="9.54" height="16.2" fill="#740000" stroke="#000" stroke-width="0.6"/>
<rect x="252.58" y="215.3" width="9.54" height="16.2" fill="#4f0000" stroke="#000" stroke-width="0.6"/>
<rect x="262.12" y="215.3" width="9.54" height="16.2" fill="#2d0000" stroke="#000" stroke-width="0.6"/>
<rect x="271.66" y="215.3" width="9.54" height="16.2" fill="#0b0000" stroke="#000" stroke-width="0.6"/>
<text x="95.2" y="246.7" font-size="12.6" text-anchor="middle" fill="#000" stroke="#000" stroke-width="0.22">1</text>
<text x="114.2" y="246.7" font-size="12.6" text-anchor="middle" fill="#000" stroke="#000" stroke-width="0.22">2</text>
<text x="133.3" y="246.7" font-size="12.6" text-anchor="middle" fill="#000" stroke="#000" stroke-width="0.22">3</text>
<text x="152.4" y="246.7" font-size="12.6" text-anchor="middle" fill="#000" stroke="#000" stroke-width="0.22">4</text>
<text x="171.5" y="246.7" font-size="12.6" text-anchor="middle" fill="#000" stroke="#000" stroke-width="0.22">5</text>
<text x="190.6" y="246.7" font-size="12.6" text-anchor="middle" fill="#000" stroke="#000" stroke-width="0.22">6</text>
<text x="209.6" y="246.7" font-size="12.6" text-anchor="middle" fill="#000" stroke="#000" stroke-width="0.22">7</text>
<text x="228.7" y="246.7" font-size="12.6" text-anchor="middle" fill="#000" stroke="#000" stroke-width="0.22">8</text>
<text x="247.8" y="246.7" font-size="12.6" text-anchor="middle" fill="#000" stroke="#000" stroke-width="0.22">9</text>
<text x="266.9" y="246.7" font-size="12.6" text-anchor="middle" fill="#000" stroke="#000" stroke-width="0.22">10</text>
<text x="307" y="234.7" font-size="15" text-anchor="middle" fill="#000" stroke="#000" stroke-width="0.22">(k)</text>
<rect x="425.40" y="215.3" width="10.60" height="16.2" fill="#ffffff" stroke="#000" stroke-width="0.6"/>
<rect x="436.00" y="215.3" width="10.60" height="16.2" fill="#ffffc4" stroke="#000" stroke-width="0.6"/>
<rect x="446.60" y="215.3" width="10.60" height="16.2" fill="#ffff89" stroke="#000" stroke-width="0.6"/>
<rect x="457.20" y="215.3" width="10.60" height="16.2" fill="#ffff4e" stroke="#000" stroke-width="0.6"/>
<rect x="467.80" y="215.3" width="10.60" height="16.2" fill="#ffff13" stroke="#000" stroke-width="0.6"/>
<rect x="478.40" y="215.3" width="10.60" height="16.2" fill="#ffe400" stroke="#000" stroke-width="0.6"/>
<rect x="489.00" y="215.3" width="10.60" height="16.2" fill="#ffbd00" stroke="#000" stroke-width="0.6"/>
<rect x="499.60" y="215.3" width="10.60" height="16.2" fill="#ff9500" stroke="#000" stroke-width="0.6"/>
<rect x="510.20" y="215.3" width="10.60" height="16.2" fill="#ff6e00" stroke="#000" stroke-width="0.6"/>
<rect x="520.80" y="215.3" width="10.60" height="16.2" fill="#ff4700" stroke="#000" stroke-width="0.6"/>
<rect x="531.40" y="215.3" width="10.60" height="16.2" fill="#ff1f00" stroke="#000" stroke-width="0.6"/>
<rect x="542.00" y="215.3" width="10.60" height="16.2" fill="#f70000" stroke="#000" stroke-width="0.6"/>
<rect x="552.60" y="215.3" width="10.60" height="16.2" fill="#cf0000" stroke="#000" stroke-width="0.6"/>
<rect x="563.20" y="215.3" width="10.60" height="16.2" fill="#a80000" stroke="#000" stroke-width="0.6"/>
<rect x="573.80" y="215.3" width="10.60" height="16.2" fill="#810000" stroke="#000" stroke-width="0.6"/>
<rect x="584.40" y="215.3" width="10.60" height="16.2" fill="#590000" stroke="#000" stroke-width="0.6"/>
<rect x="595.00" y="215.3" width="10.60" height="16.2" fill="#320000" stroke="#000" stroke-width="0.6"/>
<rect x="605.60" y="215.3" width="10.60" height="16.2" fill="#0b0000" stroke="#000" stroke-width="0.6"/>
<text x="430.7" y="246.7" font-size="12.6" text-anchor="middle" fill="#000" stroke="#000" stroke-width="0.22">0</text>
<text x="451.9" y="246.7" font-size="12.6" text-anchor="middle" fill="#000" stroke="#000" stroke-width="0.22">10</text>
<text x="473.1" y="246.7" font-size="12.6" text-anchor="middle" fill="#000" stroke="#000" stroke-width="0.22">20</text>
<text x="494.3" y="246.7" font-size="12.6" text-anchor="middle" fill="#000" stroke="#000" stroke-width="0.22">30</text>
<text x="515.5" y="246.7" font-size="12.6" text-anchor="middle" fill="#000" stroke="#000" stroke-width="0.22">40</text>
<text x="536.7" y="246.7" font-size="12.6" text-anchor="middle" fill="#000" stroke="#000" stroke-width="0.22">50</text>
<text x="557.9" y="246.7" font-size="12.6" text-anchor="middle" fill="#000" stroke="#000" stroke-width="0.22">60</text>
<text x="579.1" y="246.7" font-size="12.6" text-anchor="middle" fill="#000" stroke="#000" stroke-width="0.22">70</text>
<text x="600.3" y="246.7" font-size="12.6" text-anchor="middle" fill="#000" stroke="#000" stroke-width="0.22">80</text>
<text x="642.3" y="234.7" font-size="15" text-anchor="middle" fill="#000" stroke="#000" stroke-width="0.22">(%)</text>
<rect x="91.00" y="486.9" width="10.57" height="16.3" fill="#0a3a80" stroke="#0b1f4d" stroke-width="0.6"/>
<rect x="101.57" y="486.9" width="10.57" height="16.3" fill="#1560ae" stroke="#0b1f4d" stroke-width="0.6"/>
<rect x="112.13" y="486.9" width="10.57" height="16.3" fill="#2a78c0" stroke="#0b1f4d" stroke-width="0.6"/>
<rect x="122.70" y="486.9" width="10.57" height="16.3" fill="#3f8dcc" stroke="#0b1f4d" stroke-width="0.6"/>
<rect x="133.27" y="486.9" width="10.57" height="16.3" fill="#5aa2d5" stroke="#0b1f4d" stroke-width="0.6"/>
<rect x="143.83" y="486.9" width="10.57" height="16.3" fill="#76badd" stroke="#0b1f4d" stroke-width="0.6"/>
<rect x="154.40" y="486.9" width="10.57" height="16.3" fill="#a5d5ea" stroke="#0b1f4d" stroke-width="0.6"/>
<rect x="164.97" y="486.9" width="10.57" height="16.3" fill="#d5eefc" stroke="#0b1f4d" stroke-width="0.6"/>
<rect x="175.53" y="486.9" width="10.57" height="16.3" fill="#ffffff" stroke="#0b1f4d" stroke-width="0.6"/>
<rect x="186.10" y="486.9" width="10.57" height="16.3" fill="#fddad6" stroke="#0b1f4d" stroke-width="0.6"/>
<rect x="196.67" y="486.9" width="10.57" height="16.3" fill="#fcb9a6" stroke="#0b1f4d" stroke-width="0.6"/>
<rect x="207.23" y="486.9" width="10.57" height="16.3" fill="#fc9070" stroke="#0b1f4d" stroke-width="0.6"/>
<rect x="217.80" y="486.9" width="10.57" height="16.3" fill="#fa6a48" stroke="#0b1f4d" stroke-width="0.6"/>
<rect x="228.37" y="486.9" width="10.57" height="16.3" fill="#f03e2e" stroke="#0b1f4d" stroke-width="0.6"/>
<rect x="238.93" y="486.9" width="10.57" height="16.3" fill="#d51f22" stroke="#0b1f4d" stroke-width="0.6"/>
<rect x="249.50" y="486.9" width="10.57" height="16.3" fill="#b8151a" stroke="#0b1f4d" stroke-width="0.6"/>
<rect x="260.07" y="486.9" width="10.57" height="16.3" fill="#8e0c14" stroke="#0b1f4d" stroke-width="0.6"/>
<rect x="270.63" y="486.9" width="10.57" height="16.3" fill="#6a0208" stroke="#0b1f4d" stroke-width="0.6"/>
<text x="96.3" y="518.4" font-size="12.6" text-anchor="middle" fill="#0b1f4d" stroke="#0b1f4d" stroke-width="0.22">-4</text>
<text x="117.4" y="518.4" font-size="12.6" text-anchor="middle" fill="#0b1f4d" stroke="#0b1f4d" stroke-width="0.22">-3</text>
<text x="138.6" y="518.4" font-size="12.6" text-anchor="middle" fill="#0b1f4d" stroke="#0b1f4d" stroke-width="0.22">-2</text>
<text x="159.7" y="518.4" font-size="12.6" text-anchor="middle" fill="#0b1f4d" stroke="#0b1f4d" stroke-width="0.22">-1</text>
<text x="180.8" y="518.4" font-size="12.6" text-anchor="middle" fill="#0b1f4d" stroke="#0b1f4d" stroke-width="0.22">0</text>
<text x="201.9" y="518.4" font-size="12.6" text-anchor="middle" fill="#0b1f4d" stroke="#0b1f4d" stroke-width="0.22">1</text>
<text x="223.1" y="518.4" font-size="12.6" text-anchor="middle" fill="#0b1f4d" stroke="#0b1f4d" stroke-width="0.22">2</text>
<text x="244.2" y="518.4" font-size="12.6" text-anchor="middle" fill="#0b1f4d" stroke="#0b1f4d" stroke-width="0.22">3</text>
<text x="265.4" y="518.4" font-size="12.6" text-anchor="middle" fill="#0b1f4d" stroke="#0b1f4d" stroke-width="0.22">4</text>
<text x="306.5" y="506.4" font-size="15" text-anchor="middle" fill="#0b1f4d" stroke="#0b1f4d" stroke-width="0.22">(mb)</text>
</svg></body></html>
